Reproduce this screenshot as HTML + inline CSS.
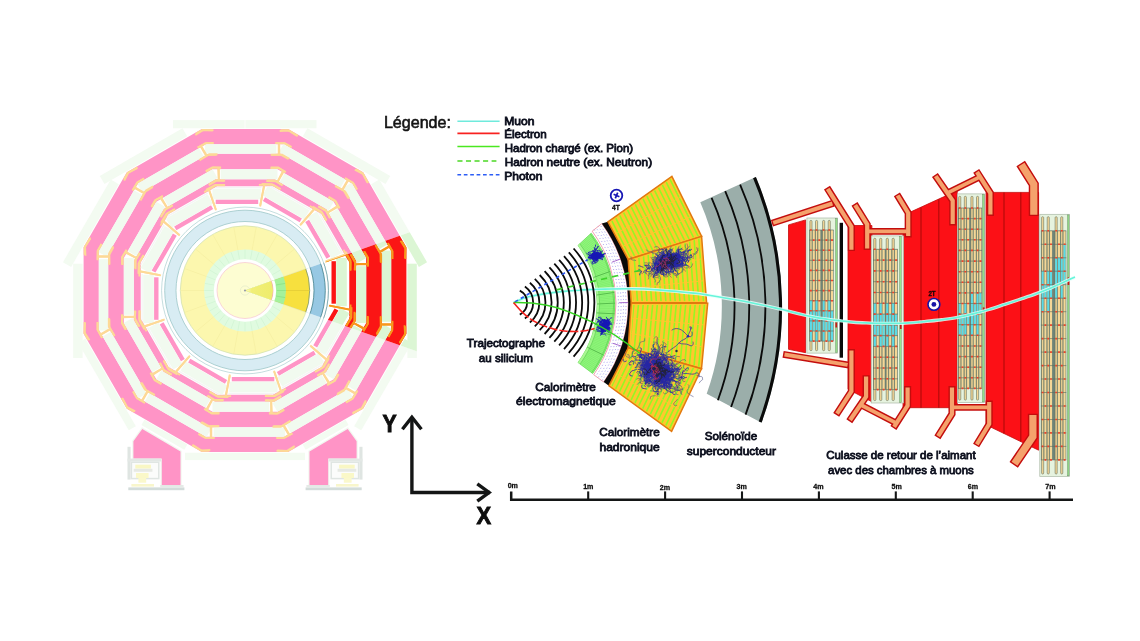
<!DOCTYPE html>
<html lang="fr">
<head>
<meta charset="utf-8">
<title>Coupe transversale du détecteur CMS</title>
<style>
html,body{margin:0;padding:0;background:#fff;}
body{width:1140px;height:641px;overflow:hidden;font-family:'Liberation Sans',sans-serif;}
svg{display:block;will-change:transform;}
text{font-family:'Liberation Sans',sans-serif;}
</style>
</head>
<body>
<svg width="1140" height="641" viewBox="0 0 1140 641" font-family="'Liberation Sans', sans-serif">
<rect width="1140" height="641" fill="#fff"/>
<g id="detector">
<path d="M406.4 333.7L363.2 408.7L288.2 451.9L201.8 451.9L126.8 408.7L83.6 333.7L83.6 247.3L126.8 172.3L201.8 129.1L288.2 129.1L363.2 172.3L406.4 247.3ZM391.2 329.7L352 397.5L284.2 436.7L205.8 436.7L138 397.5L98.8 329.7L98.8 251.3L138 183.5L205.8 144.3L284.2 144.3L352 183.5L391.2 251.3ZM381.8 327.2L345.1 390.6L281.7 427.3L208.3 427.3L144.9 390.6L108.2 327.2L108.2 253.8L144.9 190.4L208.3 153.7L281.7 153.7L345.1 190.4L381.8 253.8ZM366.2 323L333.7 379.2L277.5 411.7L212.5 411.7L156.3 379.2L123.8 323L123.8 258L156.3 201.8L212.5 169.3L277.5 169.3L333.7 201.8L366.2 258ZM356.2 320.3L326.4 371.9L274.8 401.7L215.2 401.7L163.6 371.9L133.8 320.3L133.8 260.7L163.6 209.1L215.2 179.3L274.8 179.3L326.4 209.1L356.2 260.7ZM349.3 318.4L321.4 366.9L272.9 394.8L217.1 394.8L168.6 366.9L140.7 318.4L140.7 262.6L168.6 214.1L217.1 186.2L272.9 186.2L321.4 214.1L349.3 262.6Z" fill="#ff94c6" fill-rule="evenodd"/>
<polygon points="133.4,441.3 142.3,428.9 180.5,451.5 180.5,485 161.8,485 161.8,458.5 133.4,458.5" fill="#ff94c6" stroke="#f2f7f0" stroke-width="2.4" paint-order="stroke"/>
<polygon points="356.6,441.3 347.7,428.9 309.5,451.5 309.5,485 328.2,485 328.2,458.5 356.6,458.5" fill="#ff94c6" stroke="#f2f7f0" stroke-width="2.4" paint-order="stroke"/>
<g transform="rotate(0 245 290.5)">
<rect x="331.5" y="261.2" width="4.4" height="42.5" fill="#ff94c6"/>
<rect x="336.2" y="258" width="10.6" height="48.2" fill="#f1faef"/>
<rect x="347.3" y="260.5" width="1.2" height="46.5" fill="#f4f4f4"/>
<rect x="356.2" y="266.2" width="10" height="56.8" fill="#f1faef"/>
<rect x="381.8" y="250.6" width="9.4" height="71.2" fill="#f1faef"/>
<path d="M326.2 261.2L346.8 254.3M345.6 251.6L350.6 260.6L350.6 270.6M350.4 254.2L355 262.5L355 270.6M355 264.4L368 264.4M363.7 251.4L368 258.7L368 266.6M375.4 245.2L381.2 254.8L381.2 263M380.4 251.9L389 246.9M387.8 243L392.4 251.6L392.4 259M400.5 240.8L405.4 248.4L405.4 259M329 305.6L350.6 309.6M350.6 304.4L350.6 318.7L346.2 325.8M355 312.5L355 320.4L350.2 327.6M353.4 322.8L364.4 328.4M368 316.2L368 323.7L363.2 331M380.8 316.2L380.8 326.2L376.6 333.8M380.8 324.2L392.4 324.2M392.4 321.2L392.4 330L388.4 337M405.4 326.2L405.4 333.7L399.6 342.6" fill="none" stroke="#fdd996" stroke-width="1.9" stroke-linejoin="miter"/>
</g>
<g transform="rotate(30 245 290.5)">
<rect x="331.5" y="261.2" width="4.4" height="42.5" fill="#ff94c6"/>
<rect x="336.2" y="258" width="10.6" height="48.2" fill="#f1faef"/>
<rect x="347.3" y="260.5" width="1.2" height="46.5" fill="#f4f4f4"/>
<rect x="356.2" y="266.2" width="10" height="56.8" fill="#f1faef"/>
<rect x="381.8" y="250.6" width="9.4" height="71.2" fill="#f1faef"/>
<path d="M326.2 261.2L346.8 254.3M345.6 251.6L350.6 260.6L350.6 270.6M350.4 254.2L355 262.5L355 270.6M355 264.4L368 264.4M363.7 251.4L368 258.7L368 266.6M375.4 245.2L381.2 254.8L381.2 263M380.4 251.9L389 246.9M387.8 243L392.4 251.6L392.4 259M400.5 240.8L405.4 248.4L405.4 259M329 305.6L350.6 309.6M350.6 304.4L350.6 318.7L346.2 325.8M355 312.5L355 320.4L350.2 327.6M353.4 322.8L364.4 328.4M368 316.2L368 323.7L363.2 331M380.8 316.2L380.8 326.2L376.6 333.8M380.8 324.2L392.4 324.2M392.4 321.2L392.4 330L388.4 337M405.4 326.2L405.4 333.7L399.6 342.6" fill="none" stroke="#fdd996" stroke-width="1.9" stroke-linejoin="miter"/>
</g>
<g transform="rotate(60 245 290.5)">
<rect x="331.5" y="261.2" width="4.4" height="42.5" fill="#ff94c6"/>
<rect x="336.2" y="258" width="10.6" height="48.2" fill="#f1faef"/>
<rect x="347.3" y="260.5" width="1.2" height="46.5" fill="#f4f4f4"/>
<rect x="356.2" y="266.2" width="10" height="56.8" fill="#f1faef"/>
<rect x="381.8" y="250.6" width="9.4" height="71.2" fill="#f1faef"/>
<path d="M326.2 261.2L346.8 254.3M345.6 251.6L350.6 260.6L350.6 270.6M350.4 254.2L355 262.5L355 270.6M355 264.4L368 264.4M363.7 251.4L368 258.7L368 266.6M375.4 245.2L381.2 254.8L381.2 263M380.4 251.9L389 246.9M387.8 243L392.4 251.6L392.4 259M400.5 240.8L405.4 248.4L405.4 259M329 305.6L350.6 309.6M350.6 304.4L350.6 318.7L346.2 325.8M355 312.5L355 320.4L350.2 327.6M353.4 322.8L364.4 328.4M368 316.2L368 323.7L363.2 331M380.8 316.2L380.8 326.2L376.6 333.8M380.8 324.2L392.4 324.2M392.4 321.2L392.4 330L388.4 337M405.4 326.2L405.4 333.7L399.6 342.6" fill="none" stroke="#fdd996" stroke-width="1.9" stroke-linejoin="miter"/>
</g>
<g transform="rotate(90 245 290.5)">
<rect x="331.5" y="261.2" width="4.4" height="42.5" fill="#ff94c6"/>
<rect x="336.2" y="258" width="10.6" height="48.2" fill="#f1faef"/>
<rect x="347.3" y="260.5" width="1.2" height="46.5" fill="#f4f4f4"/>
<rect x="356.2" y="266.2" width="10" height="56.8" fill="#f1faef"/>
<rect x="381.8" y="250.6" width="9.4" height="71.2" fill="#f1faef"/>
<path d="M326.2 261.2L346.8 254.3M345.6 251.6L350.6 260.6L350.6 270.6M350.4 254.2L355 262.5L355 270.6M355 264.4L368 264.4M363.7 251.4L368 258.7L368 266.6M375.4 245.2L381.2 254.8L381.2 263M380.4 251.9L389 246.9M387.8 243L392.4 251.6L392.4 259M400.5 240.8L405.4 248.4L405.4 259M329 305.6L350.6 309.6M350.6 304.4L350.6 318.7L346.2 325.8M355 312.5L355 320.4L350.2 327.6M353.4 322.8L364.4 328.4M368 316.2L368 323.7L363.2 331M380.8 316.2L380.8 326.2L376.6 333.8M380.8 324.2L392.4 324.2M392.4 321.2L392.4 330L388.4 337M405.4 326.2L405.4 333.7L399.6 342.6" fill="none" stroke="#fdd996" stroke-width="1.9" stroke-linejoin="miter"/>
</g>
<g transform="rotate(120 245 290.5)">
<rect x="331.5" y="261.2" width="4.4" height="42.5" fill="#ff94c6"/>
<rect x="336.2" y="258" width="10.6" height="48.2" fill="#f1faef"/>
<rect x="347.3" y="260.5" width="1.2" height="46.5" fill="#f4f4f4"/>
<rect x="356.2" y="266.2" width="10" height="56.8" fill="#f1faef"/>
<rect x="381.8" y="250.6" width="9.4" height="71.2" fill="#f1faef"/>
<path d="M326.2 261.2L346.8 254.3M345.6 251.6L350.6 260.6L350.6 270.6M350.4 254.2L355 262.5L355 270.6M355 264.4L368 264.4M363.7 251.4L368 258.7L368 266.6M375.4 245.2L381.2 254.8L381.2 263M380.4 251.9L389 246.9M387.8 243L392.4 251.6L392.4 259M400.5 240.8L405.4 248.4L405.4 259M329 305.6L350.6 309.6M350.6 304.4L350.6 318.7L346.2 325.8M355 312.5L355 320.4L350.2 327.6M353.4 322.8L364.4 328.4M368 316.2L368 323.7L363.2 331M380.8 316.2L380.8 326.2L376.6 333.8M380.8 324.2L392.4 324.2M392.4 321.2L392.4 330L388.4 337M405.4 326.2L405.4 333.7L399.6 342.6" fill="none" stroke="#fdd996" stroke-width="1.9" stroke-linejoin="miter"/>
</g>
<g transform="rotate(150 245 290.5)">
<rect x="331.5" y="261.2" width="4.4" height="42.5" fill="#ff94c6"/>
<rect x="336.2" y="258" width="10.6" height="48.2" fill="#f1faef"/>
<rect x="347.3" y="260.5" width="1.2" height="46.5" fill="#f4f4f4"/>
<rect x="356.2" y="266.2" width="10" height="56.8" fill="#f1faef"/>
<rect x="381.8" y="250.6" width="9.4" height="71.2" fill="#f1faef"/>
<path d="M326.2 261.2L346.8 254.3M345.6 251.6L350.6 260.6L350.6 270.6M350.4 254.2L355 262.5L355 270.6M355 264.4L368 264.4M363.7 251.4L368 258.7L368 266.6M375.4 245.2L381.2 254.8L381.2 263M380.4 251.9L389 246.9M387.8 243L392.4 251.6L392.4 259M400.5 240.8L405.4 248.4L405.4 259M329 305.6L350.6 309.6M350.6 304.4L350.6 318.7L346.2 325.8M355 312.5L355 320.4L350.2 327.6M353.4 322.8L364.4 328.4M368 316.2L368 323.7L363.2 331M380.8 316.2L380.8 326.2L376.6 333.8M380.8 324.2L392.4 324.2M392.4 321.2L392.4 330L388.4 337M405.4 326.2L405.4 333.7L399.6 342.6" fill="none" stroke="#fdd996" stroke-width="1.9" stroke-linejoin="miter"/>
</g>
<g transform="rotate(180 245 290.5)">
<rect x="331.5" y="261.2" width="4.4" height="42.5" fill="#ff94c6"/>
<rect x="336.2" y="258" width="10.6" height="48.2" fill="#f1faef"/>
<rect x="347.3" y="260.5" width="1.2" height="46.5" fill="#f4f4f4"/>
<rect x="356.2" y="266.2" width="10" height="56.8" fill="#f1faef"/>
<rect x="381.8" y="250.6" width="9.4" height="71.2" fill="#f1faef"/>
<path d="M326.2 261.2L346.8 254.3M345.6 251.6L350.6 260.6L350.6 270.6M350.4 254.2L355 262.5L355 270.6M355 264.4L368 264.4M363.7 251.4L368 258.7L368 266.6M375.4 245.2L381.2 254.8L381.2 263M380.4 251.9L389 246.9M387.8 243L392.4 251.6L392.4 259M400.5 240.8L405.4 248.4L405.4 259M329 305.6L350.6 309.6M350.6 304.4L350.6 318.7L346.2 325.8M355 312.5L355 320.4L350.2 327.6M353.4 322.8L364.4 328.4M368 316.2L368 323.7L363.2 331M380.8 316.2L380.8 326.2L376.6 333.8M380.8 324.2L392.4 324.2M392.4 321.2L392.4 330L388.4 337M405.4 326.2L405.4 333.7L399.6 342.6" fill="none" stroke="#fdd996" stroke-width="1.9" stroke-linejoin="miter"/>
</g>
<g transform="rotate(210 245 290.5)">
<rect x="331.5" y="261.2" width="4.4" height="42.5" fill="#ff94c6"/>
<rect x="336.2" y="258" width="10.6" height="48.2" fill="#f1faef"/>
<rect x="347.3" y="260.5" width="1.2" height="46.5" fill="#f4f4f4"/>
<rect x="356.2" y="266.2" width="10" height="56.8" fill="#f1faef"/>
<rect x="381.8" y="250.6" width="9.4" height="71.2" fill="#f1faef"/>
<path d="M326.2 261.2L346.8 254.3M345.6 251.6L350.6 260.6L350.6 270.6M350.4 254.2L355 262.5L355 270.6M355 264.4L368 264.4M363.7 251.4L368 258.7L368 266.6M375.4 245.2L381.2 254.8L381.2 263M380.4 251.9L389 246.9M387.8 243L392.4 251.6L392.4 259M400.5 240.8L405.4 248.4L405.4 259M329 305.6L350.6 309.6M350.6 304.4L350.6 318.7L346.2 325.8M355 312.5L355 320.4L350.2 327.6M353.4 322.8L364.4 328.4M368 316.2L368 323.7L363.2 331M380.8 316.2L380.8 326.2L376.6 333.8M380.8 324.2L392.4 324.2M392.4 321.2L392.4 330L388.4 337M405.4 326.2L405.4 333.7L399.6 342.6" fill="none" stroke="#fdd996" stroke-width="1.9" stroke-linejoin="miter"/>
</g>
<g transform="rotate(240 245 290.5)">
<rect x="331.5" y="261.2" width="4.4" height="42.5" fill="#ff94c6"/>
<rect x="336.2" y="258" width="10.6" height="48.2" fill="#f1faef"/>
<rect x="347.3" y="260.5" width="1.2" height="46.5" fill="#f4f4f4"/>
<rect x="356.2" y="266.2" width="10" height="56.8" fill="#f1faef"/>
<rect x="381.8" y="250.6" width="9.4" height="71.2" fill="#f1faef"/>
<path d="M326.2 261.2L346.8 254.3M345.6 251.6L350.6 260.6L350.6 270.6M350.4 254.2L355 262.5L355 270.6M355 264.4L368 264.4M363.7 251.4L368 258.7L368 266.6M375.4 245.2L381.2 254.8L381.2 263M380.4 251.9L389 246.9M387.8 243L392.4 251.6L392.4 259M400.5 240.8L405.4 248.4L405.4 259M329 305.6L350.6 309.6M350.6 304.4L350.6 318.7L346.2 325.8M355 312.5L355 320.4L350.2 327.6M353.4 322.8L364.4 328.4M368 316.2L368 323.7L363.2 331M380.8 316.2L380.8 326.2L376.6 333.8M380.8 324.2L392.4 324.2M392.4 321.2L392.4 330L388.4 337M405.4 326.2L405.4 333.7L399.6 342.6" fill="none" stroke="#fdd996" stroke-width="1.9" stroke-linejoin="miter"/>
</g>
<g transform="rotate(270 245 290.5)">
<rect x="331.5" y="261.2" width="4.4" height="42.5" fill="#ff94c6"/>
<rect x="336.2" y="258" width="10.6" height="48.2" fill="#f1faef"/>
<rect x="347.3" y="260.5" width="1.2" height="46.5" fill="#f4f4f4"/>
<rect x="356.2" y="266.2" width="10" height="56.8" fill="#f1faef"/>
<rect x="381.8" y="250.6" width="9.4" height="71.2" fill="#f1faef"/>
<path d="M326.2 261.2L346.8 254.3M345.6 251.6L350.6 260.6L350.6 270.6M350.4 254.2L355 262.5L355 270.6M355 264.4L368 264.4M363.7 251.4L368 258.7L368 266.6M375.4 245.2L381.2 254.8L381.2 263M380.4 251.9L389 246.9M387.8 243L392.4 251.6L392.4 259M400.5 240.8L405.4 248.4L405.4 259M329 305.6L350.6 309.6M350.6 304.4L350.6 318.7L346.2 325.8M355 312.5L355 320.4L350.2 327.6M353.4 322.8L364.4 328.4M368 316.2L368 323.7L363.2 331M380.8 316.2L380.8 326.2L376.6 333.8M380.8 324.2L392.4 324.2M392.4 321.2L392.4 330L388.4 337M405.4 326.2L405.4 333.7L399.6 342.6" fill="none" stroke="#fdd996" stroke-width="1.9" stroke-linejoin="miter"/>
</g>
<g transform="rotate(300 245 290.5)">
<rect x="331.5" y="261.2" width="4.4" height="42.5" fill="#ff94c6"/>
<rect x="336.2" y="258" width="10.6" height="48.2" fill="#f1faef"/>
<rect x="347.3" y="260.5" width="1.2" height="46.5" fill="#f4f4f4"/>
<rect x="356.2" y="266.2" width="10" height="56.8" fill="#f1faef"/>
<rect x="381.8" y="250.6" width="9.4" height="71.2" fill="#f1faef"/>
<path d="M326.2 261.2L346.8 254.3M345.6 251.6L350.6 260.6L350.6 270.6M350.4 254.2L355 262.5L355 270.6M355 264.4L368 264.4M363.7 251.4L368 258.7L368 266.6M375.4 245.2L381.2 254.8L381.2 263M380.4 251.9L389 246.9M387.8 243L392.4 251.6L392.4 259M400.5 240.8L405.4 248.4L405.4 259M329 305.6L350.6 309.6M350.6 304.4L350.6 318.7L346.2 325.8M355 312.5L355 320.4L350.2 327.6M353.4 322.8L364.4 328.4M368 316.2L368 323.7L363.2 331M380.8 316.2L380.8 326.2L376.6 333.8M380.8 324.2L392.4 324.2M392.4 321.2L392.4 330L388.4 337M405.4 326.2L405.4 333.7L399.6 342.6" fill="none" stroke="#fdd996" stroke-width="1.9" stroke-linejoin="miter"/>
</g>
<g transform="rotate(330 245 290.5)">
<rect x="331.5" y="261.2" width="4.4" height="42.5" fill="#ff94c6"/>
<rect x="336.2" y="258" width="10.6" height="48.2" fill="#f1faef"/>
<rect x="347.3" y="260.5" width="1.2" height="46.5" fill="#f4f4f4"/>
<rect x="356.2" y="266.2" width="10" height="56.8" fill="#f1faef"/>
<rect x="381.8" y="250.6" width="9.4" height="71.2" fill="#f1faef"/>
<path d="M326.2 261.2L346.8 254.3M345.6 251.6L350.6 260.6L350.6 270.6M350.4 254.2L355 262.5L355 270.6M355 264.4L368 264.4M363.7 251.4L368 258.7L368 266.6M375.4 245.2L381.2 254.8L381.2 263M380.4 251.9L389 246.9M387.8 243L392.4 251.6L392.4 259M400.5 240.8L405.4 248.4L405.4 259M329 305.6L350.6 309.6M350.6 304.4L350.6 318.7L346.2 325.8M355 312.5L355 320.4L350.2 327.6M353.4 322.8L364.4 328.4M368 316.2L368 323.7L363.2 331M380.8 316.2L380.8 326.2L376.6 333.8M380.8 324.2L392.4 324.2M392.4 321.2L392.4 330L388.4 337M405.4 326.2L405.4 333.7L399.6 342.6" fill="none" stroke="#fdd996" stroke-width="1.9" stroke-linejoin="miter"/>
</g>
<g><g transform="rotate(-90 245 290.5)"><rect x="407.2" y="218.5" width="8.2" height="71.6" fill="#f3fbf1"/><rect x="407.2" y="290.9" width="8.2" height="71.1" fill="#f3fbf1"/></g><g transform="rotate(-60 245 290.5)"><rect x="407.4" y="263.5" width="9.4" height="95.5" fill="#f3fbf1"/></g><g transform="rotate(-30 245 290.5)"><rect x="407.4" y="261.5" width="9.4" height="95.5" fill="#f3fbf1"/></g><rect x="407.4" y="263.7" width="9.4" height="94.3" fill="#f3fbf1"/><g transform="rotate(30 245 290.5)"><rect x="407.4" y="252.5" width="8.2" height="101" fill="#f3fbf1"/></g><g transform="rotate(60 245 290.5)"><rect x="407.2" y="268" width="6" height="49.5" fill="#f3fbf1"/></g><g transform="rotate(90 245 290.5)"><rect x="407.2" y="230.5" width="7.4" height="120" fill="#f3fbf1"/></g></g>
<g transform="translate(490 0) scale(-1 1)"><g transform="rotate(-60 245 290.5)"><rect x="407.4" y="263.5" width="9.4" height="95.5" fill="#f3fbf1"/></g><g transform="rotate(-30 245 290.5)"><rect x="407.4" y="261.5" width="9.4" height="95.5" fill="#f3fbf1"/></g><rect x="407.4" y="263.7" width="9.4" height="94.3" fill="#f3fbf1"/><g transform="rotate(30 245 290.5)"><rect x="407.4" y="252.5" width="8.2" height="101" fill="#f3fbf1"/></g><g transform="rotate(60 245 290.5)"><rect x="407.2" y="268" width="6" height="49.5" fill="#f3fbf1"/></g></g>
<circle cx="245" cy="290.5" r="83.4" fill="#fff" stroke="#9cc6c8" stroke-width="0.6"/>
<circle cx="245" cy="290.5" r="80.3" fill="#d8ecf3" stroke="#9cc6c8" stroke-width="0.8"/>
<circle cx="245" cy="290.5" r="69.0" fill="#fff" stroke="#9cc6c8" stroke-width="0.8"/>
<circle cx="245" cy="290.5" r="64.7" fill="#fcf7ae" stroke="#cfe0b0" stroke-width="0.7"/>
<path d="M286 290.5L309.4 290.5M283.5 304.5L305.5 312.5M276.4 316.9L294.3 331.9M265.5 326L277.2 346.3M252.1 330.9L256.2 353.9M237.9 330.9L233.8 353.9M224.5 326L212.8 346.3M213.6 316.9L195.7 331.9M206.5 304.5L184.5 312.5M204 290.5L180.6 290.5M206.5 276.5L184.5 268.5M213.6 264.1L195.7 249.1M224.5 255L212.8 234.7M237.9 250.1L233.8 227.1M252.1 250.1L256.2 227.1M265.5 255L277.2 234.7M276.4 264.1L294.3 249.1M283.5 276.5L305.5 268.5" stroke="#f3eb9c" stroke-width="0.5" fill="none"/>
<circle cx="245" cy="290.5" r="41.0" fill="#e0fbe0"/>
<path d="M276.4 290.5L285.8 290.5M275.9 296L285.2 297.6M274.5 301.2L283.3 304.5M272.2 306.2L280.3 310.9M269.1 310.7L276.3 316.7M265.2 314.6L271.2 321.8M260.7 317.7L265.4 325.8M255.7 320L259 328.8M250.5 321.4L252.1 330.7M245 321.9L245 331.3M239.5 321.4L237.9 330.7M234.3 320L231 328.8M229.3 317.7L224.6 325.8M224.8 314.6L218.8 321.8M220.9 310.7L213.7 316.7M217.8 306.2L209.7 310.9M215.5 301.2L206.7 304.5M214.1 296L204.8 297.6M213.6 290.5L204.2 290.5M214.1 285L204.8 283.4M215.5 279.8L206.7 276.5M217.8 274.8L209.7 270.1M220.9 270.3L213.7 264.3M224.8 266.4L218.8 259.2M229.3 263.3L224.6 255.2M234.3 261L231 252.2M239.5 259.6L237.9 250.3M245 259.1L245 249.7M250.5 259.6L252.1 250.3M255.7 261L259 252.2M260.7 263.3L265.4 255.2M265.2 266.4L271.2 259.2M269.1 270.3L276.3 264.3M272.2 274.8L280.3 270.1M274.5 279.8L283.3 276.5M275.9 285L285.2 283.4" stroke="#c9f0cc" stroke-width="0.5" fill="none"/>
<circle cx="245" cy="290.5" r="31.2" fill="#fff"/>
<circle cx="245" cy="290.5" r="28.0" fill="#fdfdd2" stroke="#f6c4d0" stroke-width="0.7"/>
<g><rect x="127.5" y="446.8" width="3.1" height="32.8" fill="#dfe5e2"/><rect x="127.5" y="458.6" width="33.6" height="2.9" fill="#e3e8e5"/><rect x="131.4" y="462.2" width="27.4" height="16.4" fill="#fbfcfb" stroke="#dfe5e2" stroke-width="1.5"/><rect x="135.3" y="464.7" width="15.6" height="3.9" fill="#f9f7c4"/><rect x="133.7" y="468.8" width="18.7" height="3.0" fill="#e6e9e4"/><rect x="136.0" y="473.0" width="12.6" height="5.0" fill="#faf8c8"/><rect x="138.4" y="478.0" width="7.8" height="4.7" fill="#faf8cc"/><rect x="131.4" y="484.0" width="22.6" height="2.6" fill="#f8f6cc"/><rect x="160.2" y="485.2" width="23.4" height="1.6" fill="#dfe5e2"/><rect x="128.3" y="487.4" width="56.1" height="2.8" fill="#d3dcda"/></g>
<g transform="translate(490 0) scale(-1 1)"><rect x="127.5" y="446.8" width="3.1" height="32.8" fill="#dfe5e2"/><rect x="127.5" y="458.6" width="33.6" height="2.9" fill="#e3e8e5"/><rect x="131.4" y="462.2" width="27.4" height="16.4" fill="#fbfcfb" stroke="#dfe5e2" stroke-width="1.5"/><rect x="135.3" y="464.7" width="15.6" height="3.9" fill="#f9f7c4"/><rect x="133.7" y="468.8" width="18.7" height="3.0" fill="#e6e9e4"/><rect x="136.0" y="473.0" width="12.6" height="5.0" fill="#faf8c8"/><rect x="138.4" y="478.0" width="7.8" height="4.7" fill="#faf8cc"/><rect x="131.4" y="484.0" width="22.6" height="2.6" fill="#f8f6cc"/><rect x="160.2" y="485.2" width="23.4" height="1.6" fill="#dfe5e2"/><rect x="128.3" y="487.4" width="56.1" height="2.8" fill="#d3dcda"/></g>
<circle cx="245" cy="290.5" r="4.6" fill="none" stroke="#dfe8c8" stroke-width="0.6"/>
<clipPath id="wedge"><polygon points="245,290.5 445,219.7 445,361.3"/></clipPath>
<g clip-path="url(#wedge)">
<rect x="329" y="210.5" width="180" height="160" fill="#fff"/>
<path d="M406.4 333.7L363.2 408.7L288.2 451.9L201.8 451.9L126.8 408.7L83.6 333.7L83.6 247.3L126.8 172.3L201.8 129.1L288.2 129.1L363.2 172.3L406.4 247.3ZM391.2 329.7L352 397.5L284.2 436.7L205.8 436.7L138 397.5L98.8 329.7L98.8 251.3L138 183.5L205.8 144.3L284.2 144.3L352 183.5L391.2 251.3ZM381.8 327.2L345.1 390.6L281.7 427.3L208.3 427.3L144.9 390.6L108.2 327.2L108.2 253.8L144.9 190.4L208.3 153.7L281.7 153.7L345.1 190.4L381.8 253.8ZM366.2 323L333.7 379.2L277.5 411.7L212.5 411.7L156.3 379.2L123.8 323L123.8 258L156.3 201.8L212.5 169.3L277.5 169.3L333.7 201.8L366.2 258ZM356.2 320.3L326.4 371.9L274.8 401.7L215.2 401.7L163.6 371.9L133.8 320.3L133.8 260.7L163.6 209.1L215.2 179.3L274.8 179.3L326.4 209.1L356.2 260.7ZM349.3 318.4L321.4 366.9L272.9 394.8L217.1 394.8L168.6 366.9L140.7 318.4L140.7 262.6L168.6 214.1L217.1 186.2L272.9 186.2L321.4 214.1L349.3 262.6Z" fill="#fb1515" fill-rule="evenodd"/>
<polygon points="133.4,441.3 142.3,428.9 180.5,451.5 180.5,485 161.8,485 161.8,458.5 133.4,458.5" fill="#fb1515" stroke="#f2f7f0" stroke-width="2.4" paint-order="stroke"/>
<polygon points="356.6,441.3 347.7,428.9 309.5,451.5 309.5,485 328.2,485 328.2,458.5 356.6,458.5" fill="#fb1515" stroke="#f2f7f0" stroke-width="2.4" paint-order="stroke"/>
<g transform="rotate(0 245 290.5)">
<rect x="331.5" y="261.2" width="4.4" height="42.5" fill="#fb1515"/>
<rect x="336.2" y="258" width="10.6" height="48.2" fill="#dcf6d4"/>
<rect x="347.3" y="260.5" width="1.2" height="46.5" fill="#ffffff"/>
<rect x="356.2" y="266.2" width="10" height="56.8" fill="#dcf6d4"/>
<rect x="381.8" y="250.6" width="9.4" height="71.2" fill="#dcf6d4"/>
<path d="M326.2 261.2L346.8 254.3M345.6 251.6L350.6 260.6L350.6 270.6M350.4 254.2L355 262.5L355 270.6M355 264.4L368 264.4M363.7 251.4L368 258.7L368 266.6M375.4 245.2L381.2 254.8L381.2 263M380.4 251.9L389 246.9M387.8 243L392.4 251.6L392.4 259M400.5 240.8L405.4 248.4L405.4 259M329 305.6L350.6 309.6M350.6 304.4L350.6 318.7L346.2 325.8M355 312.5L355 320.4L350.2 327.6M353.4 322.8L364.4 328.4M368 316.2L368 323.7L363.2 331M380.8 316.2L380.8 326.2L376.6 333.8M380.8 324.2L392.4 324.2M392.4 321.2L392.4 330L388.4 337M405.4 326.2L405.4 333.7L399.6 342.6" fill="none" stroke="#f8981c" stroke-width="1.8" stroke-linejoin="miter"/>
</g>
<g transform="rotate(30 245 290.5)">
<rect x="331.5" y="261.2" width="4.4" height="42.5" fill="#fb1515"/>
<rect x="336.2" y="258" width="10.6" height="48.2" fill="#dcf6d4"/>
<rect x="347.3" y="260.5" width="1.2" height="46.5" fill="#ffffff"/>
<rect x="356.2" y="266.2" width="10" height="56.8" fill="#dcf6d4"/>
<rect x="381.8" y="250.6" width="9.4" height="71.2" fill="#dcf6d4"/>
<path d="M326.2 261.2L346.8 254.3M345.6 251.6L350.6 260.6L350.6 270.6M350.4 254.2L355 262.5L355 270.6M355 264.4L368 264.4M363.7 251.4L368 258.7L368 266.6M375.4 245.2L381.2 254.8L381.2 263M380.4 251.9L389 246.9M387.8 243L392.4 251.6L392.4 259M400.5 240.8L405.4 248.4L405.4 259M329 305.6L350.6 309.6M350.6 304.4L350.6 318.7L346.2 325.8M355 312.5L355 320.4L350.2 327.6M353.4 322.8L364.4 328.4M368 316.2L368 323.7L363.2 331M380.8 316.2L380.8 326.2L376.6 333.8M380.8 324.2L392.4 324.2M392.4 321.2L392.4 330L388.4 337M405.4 326.2L405.4 333.7L399.6 342.6" fill="none" stroke="#f8981c" stroke-width="1.8" stroke-linejoin="miter"/>
</g>
<g transform="rotate(60 245 290.5)">
<rect x="331.5" y="261.2" width="4.4" height="42.5" fill="#fb1515"/>
<rect x="336.2" y="258" width="10.6" height="48.2" fill="#dcf6d4"/>
<rect x="347.3" y="260.5" width="1.2" height="46.5" fill="#ffffff"/>
<rect x="356.2" y="266.2" width="10" height="56.8" fill="#dcf6d4"/>
<rect x="381.8" y="250.6" width="9.4" height="71.2" fill="#dcf6d4"/>
<path d="M326.2 261.2L346.8 254.3M345.6 251.6L350.6 260.6L350.6 270.6M350.4 254.2L355 262.5L355 270.6M355 264.4L368 264.4M363.7 251.4L368 258.7L368 266.6M375.4 245.2L381.2 254.8L381.2 263M380.4 251.9L389 246.9M387.8 243L392.4 251.6L392.4 259M400.5 240.8L405.4 248.4L405.4 259M329 305.6L350.6 309.6M350.6 304.4L350.6 318.7L346.2 325.8M355 312.5L355 320.4L350.2 327.6M353.4 322.8L364.4 328.4M368 316.2L368 323.7L363.2 331M380.8 316.2L380.8 326.2L376.6 333.8M380.8 324.2L392.4 324.2M392.4 321.2L392.4 330L388.4 337M405.4 326.2L405.4 333.7L399.6 342.6" fill="none" stroke="#f8981c" stroke-width="1.8" stroke-linejoin="miter"/>
</g>
<g transform="rotate(90 245 290.5)">
<rect x="331.5" y="261.2" width="4.4" height="42.5" fill="#fb1515"/>
<rect x="336.2" y="258" width="10.6" height="48.2" fill="#dcf6d4"/>
<rect x="347.3" y="260.5" width="1.2" height="46.5" fill="#ffffff"/>
<rect x="356.2" y="266.2" width="10" height="56.8" fill="#dcf6d4"/>
<rect x="381.8" y="250.6" width="9.4" height="71.2" fill="#dcf6d4"/>
<path d="M326.2 261.2L346.8 254.3M345.6 251.6L350.6 260.6L350.6 270.6M350.4 254.2L355 262.5L355 270.6M355 264.4L368 264.4M363.7 251.4L368 258.7L368 266.6M375.4 245.2L381.2 254.8L381.2 263M380.4 251.9L389 246.9M387.8 243L392.4 251.6L392.4 259M400.5 240.8L405.4 248.4L405.4 259M329 305.6L350.6 309.6M350.6 304.4L350.6 318.7L346.2 325.8M355 312.5L355 320.4L350.2 327.6M353.4 322.8L364.4 328.4M368 316.2L368 323.7L363.2 331M380.8 316.2L380.8 326.2L376.6 333.8M380.8 324.2L392.4 324.2M392.4 321.2L392.4 330L388.4 337M405.4 326.2L405.4 333.7L399.6 342.6" fill="none" stroke="#f8981c" stroke-width="1.8" stroke-linejoin="miter"/>
</g>
<g transform="rotate(120 245 290.5)">
<rect x="331.5" y="261.2" width="4.4" height="42.5" fill="#fb1515"/>
<rect x="336.2" y="258" width="10.6" height="48.2" fill="#dcf6d4"/>
<rect x="347.3" y="260.5" width="1.2" height="46.5" fill="#ffffff"/>
<rect x="356.2" y="266.2" width="10" height="56.8" fill="#dcf6d4"/>
<rect x="381.8" y="250.6" width="9.4" height="71.2" fill="#dcf6d4"/>
<path d="M326.2 261.2L346.8 254.3M345.6 251.6L350.6 260.6L350.6 270.6M350.4 254.2L355 262.5L355 270.6M355 264.4L368 264.4M363.7 251.4L368 258.7L368 266.6M375.4 245.2L381.2 254.8L381.2 263M380.4 251.9L389 246.9M387.8 243L392.4 251.6L392.4 259M400.5 240.8L405.4 248.4L405.4 259M329 305.6L350.6 309.6M350.6 304.4L350.6 318.7L346.2 325.8M355 312.5L355 320.4L350.2 327.6M353.4 322.8L364.4 328.4M368 316.2L368 323.7L363.2 331M380.8 316.2L380.8 326.2L376.6 333.8M380.8 324.2L392.4 324.2M392.4 321.2L392.4 330L388.4 337M405.4 326.2L405.4 333.7L399.6 342.6" fill="none" stroke="#f8981c" stroke-width="1.8" stroke-linejoin="miter"/>
</g>
<g transform="rotate(150 245 290.5)">
<rect x="331.5" y="261.2" width="4.4" height="42.5" fill="#fb1515"/>
<rect x="336.2" y="258" width="10.6" height="48.2" fill="#dcf6d4"/>
<rect x="347.3" y="260.5" width="1.2" height="46.5" fill="#ffffff"/>
<rect x="356.2" y="266.2" width="10" height="56.8" fill="#dcf6d4"/>
<rect x="381.8" y="250.6" width="9.4" height="71.2" fill="#dcf6d4"/>
<path d="M326.2 261.2L346.8 254.3M345.6 251.6L350.6 260.6L350.6 270.6M350.4 254.2L355 262.5L355 270.6M355 264.4L368 264.4M363.7 251.4L368 258.7L368 266.6M375.4 245.2L381.2 254.8L381.2 263M380.4 251.9L389 246.9M387.8 243L392.4 251.6L392.4 259M400.5 240.8L405.4 248.4L405.4 259M329 305.6L350.6 309.6M350.6 304.4L350.6 318.7L346.2 325.8M355 312.5L355 320.4L350.2 327.6M353.4 322.8L364.4 328.4M368 316.2L368 323.7L363.2 331M380.8 316.2L380.8 326.2L376.6 333.8M380.8 324.2L392.4 324.2M392.4 321.2L392.4 330L388.4 337M405.4 326.2L405.4 333.7L399.6 342.6" fill="none" stroke="#f8981c" stroke-width="1.8" stroke-linejoin="miter"/>
</g>
<g transform="rotate(180 245 290.5)">
<rect x="331.5" y="261.2" width="4.4" height="42.5" fill="#fb1515"/>
<rect x="336.2" y="258" width="10.6" height="48.2" fill="#dcf6d4"/>
<rect x="347.3" y="260.5" width="1.2" height="46.5" fill="#ffffff"/>
<rect x="356.2" y="266.2" width="10" height="56.8" fill="#dcf6d4"/>
<rect x="381.8" y="250.6" width="9.4" height="71.2" fill="#dcf6d4"/>
<path d="M326.2 261.2L346.8 254.3M345.6 251.6L350.6 260.6L350.6 270.6M350.4 254.2L355 262.5L355 270.6M355 264.4L368 264.4M363.7 251.4L368 258.7L368 266.6M375.4 245.2L381.2 254.8L381.2 263M380.4 251.9L389 246.9M387.8 243L392.4 251.6L392.4 259M400.5 240.8L405.4 248.4L405.4 259M329 305.6L350.6 309.6M350.6 304.4L350.6 318.7L346.2 325.8M355 312.5L355 320.4L350.2 327.6M353.4 322.8L364.4 328.4M368 316.2L368 323.7L363.2 331M380.8 316.2L380.8 326.2L376.6 333.8M380.8 324.2L392.4 324.2M392.4 321.2L392.4 330L388.4 337M405.4 326.2L405.4 333.7L399.6 342.6" fill="none" stroke="#f8981c" stroke-width="1.8" stroke-linejoin="miter"/>
</g>
<g transform="rotate(210 245 290.5)">
<rect x="331.5" y="261.2" width="4.4" height="42.5" fill="#fb1515"/>
<rect x="336.2" y="258" width="10.6" height="48.2" fill="#dcf6d4"/>
<rect x="347.3" y="260.5" width="1.2" height="46.5" fill="#ffffff"/>
<rect x="356.2" y="266.2" width="10" height="56.8" fill="#dcf6d4"/>
<rect x="381.8" y="250.6" width="9.4" height="71.2" fill="#dcf6d4"/>
<path d="M326.2 261.2L346.8 254.3M345.6 251.6L350.6 260.6L350.6 270.6M350.4 254.2L355 262.5L355 270.6M355 264.4L368 264.4M363.7 251.4L368 258.7L368 266.6M375.4 245.2L381.2 254.8L381.2 263M380.4 251.9L389 246.9M387.8 243L392.4 251.6L392.4 259M400.5 240.8L405.4 248.4L405.4 259M329 305.6L350.6 309.6M350.6 304.4L350.6 318.7L346.2 325.8M355 312.5L355 320.4L350.2 327.6M353.4 322.8L364.4 328.4M368 316.2L368 323.7L363.2 331M380.8 316.2L380.8 326.2L376.6 333.8M380.8 324.2L392.4 324.2M392.4 321.2L392.4 330L388.4 337M405.4 326.2L405.4 333.7L399.6 342.6" fill="none" stroke="#f8981c" stroke-width="1.8" stroke-linejoin="miter"/>
</g>
<g transform="rotate(240 245 290.5)">
<rect x="331.5" y="261.2" width="4.4" height="42.5" fill="#fb1515"/>
<rect x="336.2" y="258" width="10.6" height="48.2" fill="#dcf6d4"/>
<rect x="347.3" y="260.5" width="1.2" height="46.5" fill="#ffffff"/>
<rect x="356.2" y="266.2" width="10" height="56.8" fill="#dcf6d4"/>
<rect x="381.8" y="250.6" width="9.4" height="71.2" fill="#dcf6d4"/>
<path d="M326.2 261.2L346.8 254.3M345.6 251.6L350.6 260.6L350.6 270.6M350.4 254.2L355 262.5L355 270.6M355 264.4L368 264.4M363.7 251.4L368 258.7L368 266.6M375.4 245.2L381.2 254.8L381.2 263M380.4 251.9L389 246.9M387.8 243L392.4 251.6L392.4 259M400.5 240.8L405.4 248.4L405.4 259M329 305.6L350.6 309.6M350.6 304.4L350.6 318.7L346.2 325.8M355 312.5L355 320.4L350.2 327.6M353.4 322.8L364.4 328.4M368 316.2L368 323.7L363.2 331M380.8 316.2L380.8 326.2L376.6 333.8M380.8 324.2L392.4 324.2M392.4 321.2L392.4 330L388.4 337M405.4 326.2L405.4 333.7L399.6 342.6" fill="none" stroke="#f8981c" stroke-width="1.8" stroke-linejoin="miter"/>
</g>
<g transform="rotate(270 245 290.5)">
<rect x="331.5" y="261.2" width="4.4" height="42.5" fill="#fb1515"/>
<rect x="336.2" y="258" width="10.6" height="48.2" fill="#dcf6d4"/>
<rect x="347.3" y="260.5" width="1.2" height="46.5" fill="#ffffff"/>
<rect x="356.2" y="266.2" width="10" height="56.8" fill="#dcf6d4"/>
<rect x="381.8" y="250.6" width="9.4" height="71.2" fill="#dcf6d4"/>
<path d="M326.2 261.2L346.8 254.3M345.6 251.6L350.6 260.6L350.6 270.6M350.4 254.2L355 262.5L355 270.6M355 264.4L368 264.4M363.7 251.4L368 258.7L368 266.6M375.4 245.2L381.2 254.8L381.2 263M380.4 251.9L389 246.9M387.8 243L392.4 251.6L392.4 259M400.5 240.8L405.4 248.4L405.4 259M329 305.6L350.6 309.6M350.6 304.4L350.6 318.7L346.2 325.8M355 312.5L355 320.4L350.2 327.6M353.4 322.8L364.4 328.4M368 316.2L368 323.7L363.2 331M380.8 316.2L380.8 326.2L376.6 333.8M380.8 324.2L392.4 324.2M392.4 321.2L392.4 330L388.4 337M405.4 326.2L405.4 333.7L399.6 342.6" fill="none" stroke="#f8981c" stroke-width="1.8" stroke-linejoin="miter"/>
</g>
<g transform="rotate(300 245 290.5)">
<rect x="331.5" y="261.2" width="4.4" height="42.5" fill="#fb1515"/>
<rect x="336.2" y="258" width="10.6" height="48.2" fill="#dcf6d4"/>
<rect x="347.3" y="260.5" width="1.2" height="46.5" fill="#ffffff"/>
<rect x="356.2" y="266.2" width="10" height="56.8" fill="#dcf6d4"/>
<rect x="381.8" y="250.6" width="9.4" height="71.2" fill="#dcf6d4"/>
<path d="M326.2 261.2L346.8 254.3M345.6 251.6L350.6 260.6L350.6 270.6M350.4 254.2L355 262.5L355 270.6M355 264.4L368 264.4M363.7 251.4L368 258.7L368 266.6M375.4 245.2L381.2 254.8L381.2 263M380.4 251.9L389 246.9M387.8 243L392.4 251.6L392.4 259M400.5 240.8L405.4 248.4L405.4 259M329 305.6L350.6 309.6M350.6 304.4L350.6 318.7L346.2 325.8M355 312.5L355 320.4L350.2 327.6M353.4 322.8L364.4 328.4M368 316.2L368 323.7L363.2 331M380.8 316.2L380.8 326.2L376.6 333.8M380.8 324.2L392.4 324.2M392.4 321.2L392.4 330L388.4 337M405.4 326.2L405.4 333.7L399.6 342.6" fill="none" stroke="#f8981c" stroke-width="1.8" stroke-linejoin="miter"/>
</g>
<g transform="rotate(330 245 290.5)">
<rect x="331.5" y="261.2" width="4.4" height="42.5" fill="#fb1515"/>
<rect x="336.2" y="258" width="10.6" height="48.2" fill="#dcf6d4"/>
<rect x="347.3" y="260.5" width="1.2" height="46.5" fill="#ffffff"/>
<rect x="356.2" y="266.2" width="10" height="56.8" fill="#dcf6d4"/>
<rect x="381.8" y="250.6" width="9.4" height="71.2" fill="#dcf6d4"/>
<path d="M326.2 261.2L346.8 254.3M345.6 251.6L350.6 260.6L350.6 270.6M350.4 254.2L355 262.5L355 270.6M355 264.4L368 264.4M363.7 251.4L368 258.7L368 266.6M375.4 245.2L381.2 254.8L381.2 263M380.4 251.9L389 246.9M387.8 243L392.4 251.6L392.4 259M400.5 240.8L405.4 248.4L405.4 259M329 305.6L350.6 309.6M350.6 304.4L350.6 318.7L346.2 325.8M355 312.5L355 320.4L350.2 327.6M353.4 322.8L364.4 328.4M368 316.2L368 323.7L363.2 331M380.8 316.2L380.8 326.2L376.6 333.8M380.8 324.2L392.4 324.2M392.4 321.2L392.4 330L388.4 337M405.4 326.2L405.4 333.7L399.6 342.6" fill="none" stroke="#f8981c" stroke-width="1.8" stroke-linejoin="miter"/>
</g>
<g><g transform="rotate(-90 245 290.5)"><rect x="407.2" y="218.5" width="8.2" height="71.6" fill="#dcf6d4"/><rect x="407.2" y="290.9" width="8.2" height="71.1" fill="#dcf6d4"/></g><g transform="rotate(-60 245 290.5)"><rect x="407.4" y="263.5" width="9.4" height="95.5" fill="#dcf6d4"/></g><g transform="rotate(-30 245 290.5)"><rect x="407.4" y="261.5" width="9.4" height="95.5" fill="#dcf6d4"/></g><rect x="407.4" y="263.7" width="9.4" height="94.3" fill="#dcf6d4"/><g transform="rotate(30 245 290.5)"><rect x="407.4" y="252.5" width="8.2" height="101" fill="#dcf6d4"/></g><g transform="rotate(60 245 290.5)"><rect x="407.2" y="268" width="6" height="49.5" fill="#dcf6d4"/></g><g transform="rotate(90 245 290.5)"><rect x="407.2" y="230.5" width="7.4" height="120" fill="#dcf6d4"/></g></g>
<g transform="translate(490 0) scale(-1 1)"><g transform="rotate(-60 245 290.5)"><rect x="407.4" y="263.5" width="9.4" height="95.5" fill="#dcf6d4"/></g><g transform="rotate(-30 245 290.5)"><rect x="407.4" y="261.5" width="9.4" height="95.5" fill="#dcf6d4"/></g><rect x="407.4" y="263.7" width="9.4" height="94.3" fill="#dcf6d4"/><g transform="rotate(30 245 290.5)"><rect x="407.4" y="252.5" width="8.2" height="101" fill="#dcf6d4"/></g><g transform="rotate(60 245 290.5)"><rect x="407.2" y="268" width="6" height="49.5" fill="#dcf6d4"/></g></g>
<circle cx="245" cy="290.5" r="83.4" fill="#fff" stroke="#3f7d8a" stroke-width="0.6"/>
<circle cx="245" cy="290.5" r="80.3" fill="#97c8e3" stroke="#3f7d8a" stroke-width="0.8"/>
<circle cx="245" cy="290.5" r="69.0" fill="#fff" stroke="#3f7d8a" stroke-width="0.8"/>
<circle cx="245" cy="290.5" r="64.7" fill="#f7e03e" stroke="#6a8a70" stroke-width="0.7"/>
<path d="M286 290.5L309.4 290.5M283.5 304.5L305.5 312.5M276.4 316.9L294.3 331.9M265.5 326L277.2 346.3M252.1 330.9L256.2 353.9M237.9 330.9L233.8 353.9M224.5 326L212.8 346.3M213.6 316.9L195.7 331.9M206.5 304.5L184.5 312.5M204 290.5L180.6 290.5M206.5 276.5L184.5 268.5M213.6 264.1L195.7 249.1M224.5 255L212.8 234.7M237.9 250.1L233.8 227.1M252.1 250.1L256.2 227.1M265.5 255L277.2 234.7M276.4 264.1L294.3 249.1M283.5 276.5L305.5 268.5" stroke="#d8c030" stroke-width="0.5" fill="none"/>
<circle cx="245" cy="290.5" r="41.0" fill="#a4f19c"/>
<path d="M276.4 290.5L285.8 290.5M275.9 296L285.2 297.6M274.5 301.2L283.3 304.5M272.2 306.2L280.3 310.9M269.1 310.7L276.3 316.7M265.2 314.6L271.2 321.8M260.7 317.7L265.4 325.8M255.7 320L259 328.8M250.5 321.4L252.1 330.7M245 321.9L245 331.3M239.5 321.4L237.9 330.7M234.3 320L231 328.8M229.3 317.7L224.6 325.8M224.8 314.6L218.8 321.8M220.9 310.7L213.7 316.7M217.8 306.2L209.7 310.9M215.5 301.2L206.7 304.5M214.1 296L204.8 297.6M213.6 290.5L204.2 290.5M214.1 285L204.8 283.4M215.5 279.8L206.7 276.5M217.8 274.8L209.7 270.1M220.9 270.3L213.7 264.3M224.8 266.4L218.8 259.2M229.3 263.3L224.6 255.2M234.3 261L231 252.2M239.5 259.6L237.9 250.3M245 259.1L245 249.7M250.5 259.6L252.1 250.3M255.7 261L259 252.2M260.7 263.3L265.4 255.2M265.2 266.4L271.2 259.2M269.1 270.3L276.3 264.3M272.2 274.8L280.3 270.1M274.5 279.8L283.3 276.5M275.9 285L285.2 283.4" stroke="#7ad878" stroke-width="0.5" fill="none"/>
<circle cx="245" cy="290.5" r="31.2" fill="#fff"/>
<circle cx="245" cy="290.5" r="28.0" fill="#efee72" stroke="#f0a0a0" stroke-width="0.7"/>
</g>
<defs><linearGradient id="tg" x1="0" y1="0" x2="1" y2="0"><stop offset="0" stop-color="#fdfdd2"/><stop offset="0.18" stop-color="#f1ef78"/><stop offset="1" stop-color="#eeec6c"/></linearGradient></defs>
<polygon points="246.5,290.5 271,281.3 272.9,290.5 271,299.7" fill="url(#tg)"/>
<circle cx="245" cy="290.5" r="1.1" fill="#9aa0a8"/>
</g>
<g id="slice">
<g id="ecal">
<path d="M578 245.4A98.8 98.8 0 0 1 578 362.5L592.7 373.5A118.3 118.3 0 0 0 591.2 233.2Z" fill="#90f67c" stroke="#58d648" stroke-width="0.7"/>
<path d="M578 245.4A98.8 98.8 0 0 1 578 362.5L580.1 364A101.5 101.5 0 0 0 579.8 243.7Z" fill="#aaf794"/>
<path d="M580.7 244.9L592.3 234.6M581.6 246.2L593.3 236.1M582.5 247.5L594.3 237.6M583.3 248.7L595.3 239M584.2 250L596.3 240.5M585 251.3L597.3 242M585.8 252.6L598.2 243.6M586.5 254L599.1 245.1M587.3 255.3L600 246.7M588 256.7L600.8 248.2M588.7 258L601.7 249.8M589.4 259.4L602.5 251.4M590 260.8L603.3 253M590.7 262.2L604 254.6M591.3 263.6L604.8 256.3M591.9 265L605.5 257.9M592.5 266.4L606.2 259.5M593 267.8L606.9 261.2M593.6 269.3L607.5 262.9M594.1 270.7L608.1 264.6M594.6 272.2L608.7 266.2M595.1 273.6L609.3 267.9M595.5 275.1L609.8 269.6M595.9 276.6L610.3 271.4M596.3 278.1L610.8 273.1M596.7 279.5L611.3 274.8M597.1 281L611.7 276.5M597.4 282.5L612.1 278.3M597.7 284L612.5 280M598 285.5L612.8 281.8M598.3 287L613.2 283.5M598.5 288.6L613.5 285.3M598.7 290.1L613.7 287.1M598.9 291.6L614 288.8M599.1 293.1L614.2 290.6M599.3 294.6L614.4 292.4M599.4 296.2L614.6 294.2M599.5 297.7L614.7 296M599.6 299.2L614.8 297.7M599.6 300.8L614.9 299.5M599.7 302.3L615 301.3M599.7 303.8L615 303.1M599.7 305.4L615 304.9M599.7 306.9L615 306.7M599.6 308.4L614.9 308.5M599.5 310L614.9 310.3M599.4 311.5L614.8 312M599.3 313L614.6 313.8M599.2 314.5L614.5 315.6M599 316.1L614.3 317.4M598.8 317.6L614.1 319.2M598.6 319.1L613.8 320.9M598.3 320.6L613.6 322.7M598.1 322.1L613.3 324.5M597.8 323.6L613 326.2M597.5 325.1L612.6 328M597.1 326.6L612.3 329.7M596.8 328.1L611.9 331.5M596.4 329.6L611.4 333.2M596 331.1L611 334.9M595.6 332.6L610.5 336.7M595.2 334L610 338.4M594.7 335.5L609.5 340.1M594.2 337L608.9 341.8M593.7 338.4L608.4 343.5M593.2 339.8L607.8 345.2M592.6 341.3L607.1 346.8M592 342.7L606.5 348.5M591.4 344.1L605.8 350.2M590.8 345.5L605.1 351.8M590.2 346.9L604.4 353.4M589.5 348.3L603.6 355.1M588.9 349.7L602.8 356.7M588.2 351L602 358.3M587.4 352.4L601.2 359.8M586.7 353.7L600.3 361.4M585.9 355.1L599.5 363M585.2 356.4L598.6 364.5M584.4 357.7L597.6 366.1M583.5 359L596.7 367.6M582.7 360.3L595.7 369.1M581.8 361.5L594.7 370.6M581 362.8L593.7 372" stroke="#6ee25c" stroke-width="0.5" fill="none" opacity="0.8"/>
<path d="M587.2 260.7L602.5 251.4M593.6 277.4L610.3 271.4M596.8 295L614.4 292.4M597.2 304L615 303.1M596.8 312.9L614.6 313.8M593.6 330.5L611 334.9M587.2 347.2L603.6 355.1" stroke="#43a83c" stroke-width="0.7" fill="none"/>
<path d="M579.8 243.7A101.5 101.5 0 0 1 580.1 364" stroke="#58c84c" stroke-width="0.6" fill="none"/>
<path d="M590.3 234.1A116.9 116.9 0 0 1 591.7 372.7" stroke="#58c84c" stroke-width="0.6" fill="none"/>
</g>
<g id="dots">
<path d="M592.2 231.2A123.2 123.2 0 0 1 593.7 374.7L603.7 382A136 136 0 0 0 601.8 223.6Z" fill="#fff" stroke="#ee8a9a" stroke-width="0.8"/>
<path d="M594.1 229.7A125.8 125.8 0 0 1 595.7 376.2" fill="none" stroke="#6a5ce0" stroke-width="0.9" stroke-dasharray="0.9 2.5" stroke-dashoffset="0" opacity="0.75"/>
<path d="M596.2 228A128.6 128.6 0 0 1 597.9 377.8" fill="none" stroke="#6a5ce0" stroke-width="0.9" stroke-dasharray="0.9 2.5" stroke-dashoffset="1.6" opacity="0.75"/>
<path d="M598.2 226.5A131.1 131.1 0 0 1 599.9 379.2" fill="none" stroke="#6a5ce0" stroke-width="0.9" stroke-dasharray="0.9 2.5" stroke-dashoffset="0.4" opacity="0.75"/>
<path d="M600.1 225A133.7 133.7 0 0 1 601.9 380.7" fill="none" stroke="#6a5ce0" stroke-width="0.9" stroke-dasharray="0.9 2.5" stroke-dashoffset="2" opacity="0.75"/>
<path d="M611.9 262.2L620.3 259.1M619.1 302.7L628 302.5M612.8 343.3L621.3 346.1" stroke="#a060c8" stroke-width="0.9" fill="none"/>
</g>
<path d="M601.8 223.6A136 136 0 0 1 603.7 382L608.9 385.8L628.2 347.8L631.2 303L628.2 259.5L607.9 221.8Z" fill="#0a0a0a"/>
<g id="hcal">
<polygon points="607.9,221.8 671.9,176.3 701.6,236.4 628.2,259.5" fill="#ffc72e"/>
<clipPath id="hc0"><polygon points="610.5,221.9 670.9,178.7 699.1,235.7 629.7,257.3"/></clipPath>
<g clip-path="url(#hc0)" fill="none">
<path d="M655.9 150.7L712.2 264.6M651.7 152.8L708 266.7M647.5 154.9L703.8 268.8M643.3 157L699.6 270.9M639.1 159.1L695.3 273M634.9 161.1L691.1 275M630.6 163.2L686.9 277.1M626.4 165.3L682.7 279.2M622.2 167.4L678.5 281.3M618 169.5L674.3 283.4M613.8 171.6L670.1 285.4M609.6 173.6L665.9 287.5M605.4 175.7L661.6 289.6M601.1 177.8L657.4 291.7M596.9 179.9L653.2 293.8M592.7 182L649 295.9M588.5 184L644.8 297.9M584.3 186.1L640.6 300M580.1 188.2L636.4 302.1" stroke="#96f722" stroke-width="1.6"/>
<path d="M614.7 234.4L681.8 196.3M621.4 246.9L691.7 216.4" stroke="#ffc72e" stroke-width="0.9"/>
</g>
<polygon points="607.9,221.8 671.9,176.3 701.6,236.4 628.2,259.5" fill="none" stroke="#e2790f" stroke-width="1.5" stroke-linejoin="miter"/>
<polygon points="628.2,259.5 701.6,236.4 706.6,302.7 631.2,302.7" fill="#ffc72e"/>
<clipPath id="hc1"><polygon points="630.6,260.5 699.9,238.3 704.5,301.2 633.3,301.1"/></clipPath>
<g clip-path="url(#hc1)" fill="none">
<path d="M696.4 206.7L705.9 332.8M691.7 207.1L701.2 333.2M687 207.4L696.5 333.5M682.3 207.8L691.8 333.9M677.6 208.1L687.1 334.3M672.9 208.5L682.4 334.6M668.2 208.8L677.7 335M663.5 209.2L673.1 335.3M658.9 209.5L668.4 335.7M654.2 209.9L663.7 336M649.5 210.2L659 336.4M644.8 210.6L654.3 336.7M640.1 211L649.6 337.1M635.4 211.3L644.9 337.4M630.7 211.7L640.3 337.8M626.1 212L635.6 338.1M621.4 212.4L630.9 338.5M616.7 212.7L626.2 338.8M612 213.1L621.5 339.2" stroke="#96f722" stroke-width="1.6"/>
<path d="M629.2 273.9L703.3 258.5M630.2 288.3L704.9 280.6" stroke="#ffc72e" stroke-width="0.9"/>
</g>
<polygon points="628.2,259.5 701.6,236.4 706.6,302.7 631.2,302.7" fill="none" stroke="#e2790f" stroke-width="1.5" stroke-linejoin="miter"/>
<polygon points="631.2,303.3 707.7,303.3 701.5,368.8 628.2,347.8" fill="#ffc72e"/>
<clipPath id="hc2"><polygon points="633.3,304.9 705.5,304.8 699.8,366.9 630.6,346.8"/></clipPath>
<g clip-path="url(#hc2)" fill="none">
<path d="M707.5 273.2L695.7 398.4M702.9 272.7L691 397.9M698.2 272.3L686.3 397.5M693.5 271.8L681.6 397.1M688.8 271.4L677 396.6M684.1 270.9L672.3 396.2M679.5 270.5L667.6 395.7M674.8 270.1L662.9 395.3M670.1 269.6L658.3 394.8M665.4 269.2L653.6 394.4M660.7 268.7L648.9 394M656.1 268.3L644.2 393.5M651.4 267.8L639.5 393.1M646.7 267.4L634.9 392.6M642 267L630.2 392.2M637.4 266.5L625.5 391.7M632.7 266.1L620.8 391.3M628 265.6L616.1 390.9M623.3 265.2L611.5 390.4" stroke="#96f722" stroke-width="1.6"/>
<path d="M630.2 318.1L705.6 325.1M629.2 333L703.6 347" stroke="#ffc72e" stroke-width="0.9"/>
</g>
<polygon points="631.2,303.3 707.7,303.3 701.5,368.8 628.2,347.8" fill="none" stroke="#e2790f" stroke-width="1.5" stroke-linejoin="miter"/>
<polygon points="628.2,347.8 701.5,368.8 671.6,431.3 608.9,385.8" fill="#ffc72e"/>
<clipPath id="hc3"><polygon points="629.7,349.9 699,369.5 670.6,428.9 611.5,385.7"/></clipPath>
<g clip-path="url(#hc3)" fill="none">
<path d="M711.7 340.4L655.9 457.1M707.5 338.4L651.7 455M703.3 336.4L647.5 453M699 334.4L643.2 451M694.8 332.3L639 449M690.5 330.3L634.7 446.9M686.3 328.3L630.5 444.9M682.1 326.2L626.3 442.9M677.8 324.2L622 440.8M673.6 322.2L617.8 438.8M669.3 320.2L613.5 436.8M665.1 318.1L609.3 434.8M660.9 316.1L605.1 432.7M656.6 314.1L600.8 430.7M652.4 312L596.6 428.7M648.1 310L592.3 426.6M643.9 308L588.1 424.6M639.7 306L583.9 422.6M635.4 303.9L579.6 420.6" stroke="#96f722" stroke-width="1.6"/>
<path d="M621.8 360.5L691.5 389.6M615.3 373.1L681.6 410.5" stroke="#ffc72e" stroke-width="0.9"/>
</g>
<polygon points="628.2,347.8 701.5,368.8 671.6,431.3 608.9,385.8" fill="none" stroke="#e2790f" stroke-width="1.5" stroke-linejoin="miter"/>
</g>
<g id="solenoid">
<path d="M700.3 202.3A261.4 261.4 0 0 1 706.7 393.8L761.5 422.7A335.5 335.5 0 0 0 755.8 177.1Z" fill="#9baeaa"/>
<path d="M711.6 197.9A270.3 270.3 0 0 1 717.9 400.2" fill="none" stroke="#0a0a0a" stroke-width="1.8"/>
<path d="M725.2 191.2A288.2 288.2 0 0 1 731.1 407" fill="none" stroke="#0a0a0a" stroke-width="1.8"/>
<path d="M740.1 184.6A305.4 305.4 0 0 1 745.6 414.6" fill="none" stroke="#0a0a0a" stroke-width="1.8"/>
<path d="M754.5 177.7A334.7 334.7 0 0 1 760.2 422" fill="none" stroke="#0a0a0a" stroke-width="3.1"/>
</g>
<g id="yoke">
<polygon points="788.5,224.9 805.6,219.9 805.6,352.7 788.5,349.3" fill="#fc1016" stroke="#c40d0d" stroke-width="0.8" stroke-linejoin="miter"/>
<rect x="839.6" y="222.8" width="3.4" height="134.9" fill="#0a0a0a"/>
<polygon points="848,225.5 871.9,225.5 871.9,401.8 862.4,396.8 854.3,392.5 848,389.2" fill="#fc1016" stroke="#c40d0d" stroke-width="0.8" stroke-linejoin="miter"/>
<polygon points="908,213.2 912.5,211.1 943.7,196.8 957.2,190.6 957.2,407.7 903,407.7 903,234 908,234" fill="#fc1016" stroke="#c40d0d" stroke-width="0.8" stroke-linejoin="miter"/>
<polygon points="986,192.4 1038.6,192.4 1038.6,450.2 1021.2,441.8 992.6,428 986,424.8" fill="#fc1016" stroke="#c40d0d" stroke-width="0.8" stroke-linejoin="miter"/>
<line x1="921" y1="207.5" x2="921" y2="407.7" stroke="#b60b0b" stroke-width="1.2"/>
<line x1="938.8" y1="199.3" x2="938.8" y2="407.7" stroke="#b60b0b" stroke-width="1.2"/>
<line x1="1004" y1="192.4" x2="1004" y2="433.5" stroke="#b60b0b" stroke-width="1.2"/>
<line x1="1020.8" y1="192.4" x2="1020.8" y2="441.6" stroke="#b60b0b" stroke-width="1.2"/>
<g>
<rect x="806.9" y="218" width="30.7" height="135.1" fill="#e6f3df" stroke="#aab8a6" stroke-width="0.7"/>
<rect x="835.6" y="218.6" width="1.5" height="133.9" fill="#9bea8c" stroke="#6b8f6b" stroke-width="0.5"/>
<rect x="809.2" y="230" width="24.5" height="111.1" fill="#6f8478"/>
<rect x="809.9" y="220.4" width="2.1" height="130.3" rx="1" fill="#f5d796" stroke="#66725f" stroke-width="0.6"/>
<rect x="812.7" y="230" width="2.1" height="111.1" fill="#f5d796"/>
<rect x="815.5" y="220.4" width="2.1" height="130.3" rx="1" fill="#f5d796" stroke="#66725f" stroke-width="0.6"/>
<rect x="818.3" y="230" width="2.1" height="111.1" fill="#f5d796"/>
<rect x="822.6" y="220.4" width="2.1" height="130.3" rx="1" fill="#f5d796" stroke="#66725f" stroke-width="0.6"/>
<rect x="825.4" y="230" width="2.1" height="111.1" fill="#f5d796"/>
<rect x="828.2" y="220.4" width="2.1" height="130.3" rx="1" fill="#f5d796" stroke="#66725f" stroke-width="0.6"/>
<rect x="831" y="230" width="2.1" height="111.1" fill="#f5d796"/>
<rect x="810" y="300.7" width="1.9" height="40.4" fill="#57dbe9"/>
<rect x="812.8" y="310.8" width="1.9" height="20.2" fill="#57dbe9"/>
<rect x="815.6" y="300.7" width="1.9" height="40.4" fill="#57dbe9"/>
<rect x="818.4" y="310.8" width="1.9" height="20.2" fill="#57dbe9"/>
<rect x="822.7" y="300.7" width="1.9" height="40.4" fill="#57dbe9"/>
<rect x="825.5" y="310.8" width="1.9" height="20.2" fill="#57dbe9"/>
<rect x="828.3" y="300.7" width="1.9" height="40.4" fill="#57dbe9"/>
<rect x="831.1" y="310.8" width="1.9" height="30.3" fill="#57dbe9"/>
<path d="M809.2 230H833.7M809.2 240.1H833.7M809.2 250.2H833.7M809.2 260.3H833.7M809.2 270.4H833.7M809.2 280.5H833.7M809.2 290.6H833.7M809.2 300.7H833.7M809.2 310.8H833.7M809.2 320.9H833.7M809.2 331H833.7M809.2 341.1H833.7" stroke="#566a5c" stroke-width="0.6" fill="none"/>
<path d="M810 230h1.8M815.6 230h1.8M822.7 230h1.8M828.3 230h1.8M812.8 240.1h1.8M818.4 240.1h1.8M825.5 240.1h1.8M831.1 240.1h1.8M810 250.2h1.8M815.6 250.2h1.8M822.7 250.2h1.8M828.3 250.2h1.8M812.8 260.3h1.8M818.4 260.3h1.8M825.5 260.3h1.8M831.1 260.3h1.8M810 270.4h1.8M815.6 270.4h1.8M822.7 270.4h1.8M828.3 270.4h1.8M812.8 280.5h1.8M818.4 280.5h1.8M825.5 280.5h1.8M831.1 280.5h1.8M810 290.6h1.8M815.6 290.6h1.8M822.7 290.6h1.8M828.3 290.6h1.8M812.8 300.7h1.8M818.4 300.7h1.8M825.5 300.7h1.8M831.1 300.7h1.8M810 310.8h1.8M815.6 310.8h1.8M822.7 310.8h1.8M828.3 310.8h1.8M812.8 320.9h1.8M818.4 320.9h1.8M825.5 320.9h1.8M831.1 320.9h1.8M810 331h1.8M815.6 331h1.8M822.7 331h1.8M828.3 331h1.8M812.8 341.1h1.8M818.4 341.1h1.8M825.5 341.1h1.8M831.1 341.1h1.8" stroke="#f2432a" stroke-width="1.6" fill="none"/>
</g>
<g>
<rect x="871.2" y="235.9" width="32.4" height="167.1" fill="#e6f3df" stroke="#aab8a6" stroke-width="0.7"/>
<rect x="899.7" y="236.5" width="1.5" height="165.9" fill="#9bea8c" stroke="#6b8f6b" stroke-width="0.5"/>
<rect x="873" y="249.3" width="24.9" height="140.3" fill="#6f8478"/>
<rect x="873.7" y="238.3" width="2.2" height="162.3" rx="1" fill="#f5d796" stroke="#66725f" stroke-width="0.6"/>
<rect x="876.6" y="249.3" width="2.2" height="140.3" fill="#f5d796"/>
<rect x="879.6" y="238.3" width="2.2" height="162.3" rx="1" fill="#f5d796" stroke="#66725f" stroke-width="0.6"/>
<rect x="882.5" y="249.3" width="2.2" height="140.3" fill="#f5d796"/>
<rect x="886.2" y="238.3" width="2.2" height="162.3" rx="1" fill="#f5d796" stroke="#66725f" stroke-width="0.6"/>
<rect x="889.1" y="249.3" width="2.2" height="140.3" fill="#f5d796"/>
<rect x="892.1" y="238.3" width="2.2" height="162.3" rx="1" fill="#f5d796" stroke="#66725f" stroke-width="0.6"/>
<rect x="895" y="249.3" width="2.2" height="140.3" fill="#f5d796"/>
<rect x="873.8" y="303.3" width="2" height="43.2" fill="#57dbe9"/>
<rect x="876.7" y="314.1" width="2" height="21.6" fill="#57dbe9"/>
<rect x="879.7" y="303.3" width="2" height="43.2" fill="#57dbe9"/>
<rect x="882.6" y="314.1" width="2" height="32.4" fill="#57dbe9"/>
<rect x="886.3" y="303.3" width="2" height="43.2" fill="#57dbe9"/>
<rect x="889.2" y="314.1" width="2" height="21.6" fill="#57dbe9"/>
<rect x="892.2" y="303.3" width="2" height="43.2" fill="#57dbe9"/>
<rect x="895.1" y="314.1" width="2" height="21.6" fill="#57dbe9"/>
<path d="M873 249.3H897.9M873 260.1H897.9M873 270.9H897.9M873 281.7H897.9M873 292.5H897.9M873 303.3H897.9M873 314.1H897.9M873 324.8H897.9M873 335.6H897.9M873 346.4H897.9M873 357.2H897.9M873 368H897.9M873 378.8H897.9M873 389.6H897.9" stroke="#566a5c" stroke-width="0.6" fill="none"/>
<path d="M873.9 249.3h1.8M879.8 249.3h1.8M886.4 249.3h1.8M892.3 249.3h1.8M876.8 260.1h1.8M882.7 260.1h1.8M889.3 260.1h1.8M895.2 260.1h1.8M873.9 270.9h1.8M879.8 270.9h1.8M886.4 270.9h1.8M892.3 270.9h1.8M876.8 281.7h1.8M882.7 281.7h1.8M889.3 281.7h1.8M895.2 281.7h1.8M873.9 292.5h1.8M879.8 292.5h1.8M886.4 292.5h1.8M892.3 292.5h1.8M876.8 303.3h1.8M882.7 303.3h1.8M889.3 303.3h1.8M895.2 303.3h1.8M873.9 314.1h1.8M879.8 314.1h1.8M886.4 314.1h1.8M892.3 314.1h1.8M876.8 324.8h1.8M882.7 324.8h1.8M889.3 324.8h1.8M895.2 324.8h1.8M873.9 335.6h1.8M879.8 335.6h1.8M886.4 335.6h1.8M892.3 335.6h1.8M876.8 346.4h1.8M882.7 346.4h1.8M889.3 346.4h1.8M895.2 346.4h1.8M873.9 357.2h1.8M879.8 357.2h1.8M886.4 357.2h1.8M892.3 357.2h1.8M876.8 368h1.8M882.7 368h1.8M889.3 368h1.8M895.2 368h1.8M873.9 378.8h1.8M879.8 378.8h1.8M886.4 378.8h1.8M892.3 378.8h1.8M876.8 389.6h1.8M882.7 389.6h1.8M889.3 389.6h1.8M895.2 389.6h1.8" stroke="#f2432a" stroke-width="1.6" fill="none"/>
</g>
<g>
<rect x="957.5" y="193.9" width="27.1" height="208.6" fill="#e6f3df" stroke="#aab8a6" stroke-width="0.7"/>
<rect x="982.6" y="194.5" width="1.5" height="207.4" fill="#9bea8c" stroke="#6b8f6b" stroke-width="0.5"/>
<rect x="958" y="208" width="24.1" height="180.4" fill="#6f8478"/>
<rect x="958.7" y="196.3" width="2.1" height="203.8" rx="1" fill="#f5d796" stroke="#66725f" stroke-width="0.6"/>
<rect x="961.5" y="208" width="2.1" height="180.4" fill="#f5d796"/>
<rect x="964.3" y="196.3" width="2.1" height="203.8" rx="1" fill="#f5d796" stroke="#66725f" stroke-width="0.6"/>
<rect x="967.1" y="208" width="2.1" height="180.4" fill="#f5d796"/>
<rect x="970.9" y="196.3" width="2.1" height="203.8" rx="1" fill="#f5d796" stroke="#66725f" stroke-width="0.6"/>
<rect x="973.7" y="208" width="2.1" height="180.4" fill="#f5d796"/>
<rect x="976.5" y="196.3" width="2.1" height="203.8" rx="1" fill="#f5d796" stroke="#66725f" stroke-width="0.6"/>
<rect x="979.3" y="208" width="2.1" height="180.4" fill="#f5d796"/>
<rect x="958.8" y="303.5" width="1.9" height="31.8" fill="#57dbe9"/>
<rect x="961.6" y="314.1" width="1.9" height="21.2" fill="#57dbe9"/>
<rect x="964.4" y="303.5" width="1.9" height="31.8" fill="#57dbe9"/>
<rect x="967.2" y="314.1" width="1.9" height="10.6" fill="#57dbe9"/>
<rect x="971" y="292.9" width="1.9" height="42.4" fill="#57dbe9"/>
<rect x="973.8" y="303.5" width="1.9" height="21.2" fill="#57dbe9"/>
<rect x="976.6" y="292.9" width="1.9" height="42.4" fill="#57dbe9"/>
<rect x="979.4" y="292.9" width="1.9" height="21.2" fill="#57dbe9"/>
<path d="M958 208H982.1M958 218.6H982.1M958 229.2H982.1M958 239.8H982.1M958 250.4H982.1M958 261.1H982.1M958 271.7H982.1M958 282.3H982.1M958 292.9H982.1M958 303.5H982.1M958 314.1H982.1M958 324.7H982.1M958 335.3H982.1M958 346H982.1M958 356.6H982.1M958 367.2H982.1M958 377.8H982.1M958 388.4H982.1" stroke="#566a5c" stroke-width="0.6" fill="none"/>
<path d="M958.8 208h1.8M964.4 208h1.8M971.1 208h1.8M976.7 208h1.8M961.6 218.6h1.8M967.2 218.6h1.8M973.9 218.6h1.8M979.5 218.6h1.8M958.8 229.2h1.8M964.4 229.2h1.8M971.1 229.2h1.8M976.7 229.2h1.8M961.6 239.8h1.8M967.2 239.8h1.8M973.9 239.8h1.8M979.5 239.8h1.8M958.8 250.4h1.8M964.4 250.4h1.8M971.1 250.4h1.8M976.7 250.4h1.8M961.6 261.1h1.8M967.2 261.1h1.8M973.9 261.1h1.8M979.5 261.1h1.8M958.8 271.7h1.8M964.4 271.7h1.8M971.1 271.7h1.8M976.7 271.7h1.8M961.6 282.3h1.8M967.2 282.3h1.8M973.9 282.3h1.8M979.5 282.3h1.8M958.8 292.9h1.8M964.4 292.9h1.8M971.1 292.9h1.8M976.7 292.9h1.8M961.6 303.5h1.8M967.2 303.5h1.8M973.9 303.5h1.8M979.5 303.5h1.8M958.8 314.1h1.8M964.4 314.1h1.8M971.1 314.1h1.8M976.7 314.1h1.8M961.6 324.7h1.8M967.2 324.7h1.8M973.9 324.7h1.8M979.5 324.7h1.8M958.8 335.3h1.8M964.4 335.3h1.8M971.1 335.3h1.8M976.7 335.3h1.8M961.6 346h1.8M967.2 346h1.8M973.9 346h1.8M979.5 346h1.8M958.8 356.6h1.8M964.4 356.6h1.8M971.1 356.6h1.8M976.7 356.6h1.8M961.6 367.2h1.8M967.2 367.2h1.8M973.9 367.2h1.8M979.5 367.2h1.8M958.8 377.8h1.8M964.4 377.8h1.8M971.1 377.8h1.8M976.7 377.8h1.8M961.6 388.4h1.8M967.2 388.4h1.8M973.9 388.4h1.8M979.5 388.4h1.8" stroke="#f2432a" stroke-width="1.6" fill="none"/>
</g>
<g>
<rect x="1039.8" y="214.3" width="29.7" height="262.1" fill="#e6f3df" stroke="#aab8a6" stroke-width="0.7"/>
<rect x="1067.5" y="214.9" width="1.5" height="260.9" fill="#9bea8c" stroke="#6b8f6b" stroke-width="0.5"/>
<rect x="1040.9" y="230.8" width="25.4" height="229.1" fill="#6f8478"/>
<rect x="1041.6" y="216.7" width="2.1" height="257.3" rx="1" fill="#f5d796" stroke="#66725f" stroke-width="0.6"/>
<rect x="1044.4" y="230.8" width="2.1" height="229.1" fill="#f5d796"/>
<rect x="1047.2" y="216.7" width="2.1" height="257.3" rx="1" fill="#f5d796" stroke="#66725f" stroke-width="0.6"/>
<rect x="1050" y="230.8" width="2.1" height="229.1" fill="#f5d796"/>
<rect x="1055.1" y="216.7" width="2.1" height="257.3" rx="1" fill="#f5d796" stroke="#66725f" stroke-width="0.6"/>
<rect x="1057.9" y="230.8" width="2.1" height="229.1" fill="#f5d796"/>
<rect x="1060.7" y="216.7" width="2.1" height="257.3" rx="1" fill="#f5d796" stroke="#66725f" stroke-width="0.6"/>
<rect x="1063.5" y="230.8" width="2.1" height="229.1" fill="#f5d796"/>
<rect x="1041.7" y="271.2" width="1.9" height="40.4" fill="#57dbe9"/>
<rect x="1044.5" y="284.7" width="1.9" height="13.5" fill="#57dbe9"/>
<rect x="1047.3" y="271.2" width="1.9" height="40.4" fill="#57dbe9"/>
<rect x="1050.1" y="271.2" width="1.9" height="27" fill="#57dbe9"/>
<rect x="1055.2" y="257.8" width="1.9" height="40.4" fill="#57dbe9"/>
<rect x="1058" y="257.8" width="1.9" height="27" fill="#57dbe9"/>
<rect x="1060.8" y="257.8" width="1.9" height="40.4" fill="#57dbe9"/>
<rect x="1063.6" y="244.3" width="1.9" height="40.4" fill="#57dbe9"/>
<path d="M1040.9 230.8H1066.3M1040.9 244.3H1066.3M1040.9 257.8H1066.3M1040.9 271.2H1066.3M1040.9 284.7H1066.3M1040.9 298.2H1066.3M1040.9 311.7H1066.3M1040.9 325.1H1066.3M1040.9 338.6H1066.3M1040.9 352.1H1066.3M1040.9 365.6H1066.3M1040.9 379H1066.3M1040.9 392.5H1066.3M1040.9 406H1066.3M1040.9 419.5H1066.3M1040.9 432.9H1066.3M1040.9 446.4H1066.3M1040.9 459.9H1066.3" stroke="#566a5c" stroke-width="0.6" fill="none"/>
<path d="M1041.7 230.8h1.8M1047.3 230.8h1.8M1055.3 230.8h1.8M1060.9 230.8h1.8M1044.5 244.3h1.8M1050.1 244.3h1.8M1058.1 244.3h1.8M1063.7 244.3h1.8M1041.7 257.8h1.8M1047.3 257.8h1.8M1055.3 257.8h1.8M1060.9 257.8h1.8M1044.5 271.2h1.8M1050.1 271.2h1.8M1058.1 271.2h1.8M1063.7 271.2h1.8M1041.7 284.7h1.8M1047.3 284.7h1.8M1055.3 284.7h1.8M1060.9 284.7h1.8M1044.5 298.2h1.8M1050.1 298.2h1.8M1058.1 298.2h1.8M1063.7 298.2h1.8M1041.7 311.7h1.8M1047.3 311.7h1.8M1055.3 311.7h1.8M1060.9 311.7h1.8M1044.5 325.1h1.8M1050.1 325.1h1.8M1058.1 325.1h1.8M1063.7 325.1h1.8M1041.7 338.6h1.8M1047.3 338.6h1.8M1055.3 338.6h1.8M1060.9 338.6h1.8M1044.5 352.1h1.8M1050.1 352.1h1.8M1058.1 352.1h1.8M1063.7 352.1h1.8M1041.7 365.6h1.8M1047.3 365.6h1.8M1055.3 365.6h1.8M1060.9 365.6h1.8M1044.5 379h1.8M1050.1 379h1.8M1058.1 379h1.8M1063.7 379h1.8M1041.7 392.5h1.8M1047.3 392.5h1.8M1055.3 392.5h1.8M1060.9 392.5h1.8M1044.5 406h1.8M1050.1 406h1.8M1058.1 406h1.8M1063.7 406h1.8M1041.7 419.5h1.8M1047.3 419.5h1.8M1055.3 419.5h1.8M1060.9 419.5h1.8M1044.5 432.9h1.8M1050.1 432.9h1.8M1058.1 432.9h1.8M1063.7 432.9h1.8M1041.7 446.4h1.8M1047.3 446.4h1.8M1055.3 446.4h1.8M1060.9 446.4h1.8M1044.5 459.9h1.8M1050.1 459.9h1.8M1058.1 459.9h1.8M1063.7 459.9h1.8" stroke="#f2432a" stroke-width="1.6" fill="none"/>
</g>
<rect x="835.4" y="322.5" width="1.7" height="5" fill="#c81818"/>
<rect x="899.9" y="321.6" width="1.7" height="7.4" fill="#c81818"/>
<rect x="982.8" y="307.4" width="1.7" height="3.2" fill="#c81818"/>
<rect x="1067.6" y="277.4" width="1.7" height="7.6" fill="#c81818"/>
<polyline points="771.9,223.2 833.7,203.1" fill="none" stroke="#c40d0d" stroke-width="6.9" stroke-linejoin="miter"/>
<polyline points="827,187.6 851.4,226.6 851.4,251.1" fill="none" stroke="#c40d0d" stroke-width="7.1" stroke-linejoin="miter"/>
<polyline points="854.5,203.9 867.2,224.4 867.2,249.9" fill="none" stroke="#c40d0d" stroke-width="7.1" stroke-linejoin="miter"/>
<polyline points="867.2,231.4 908.2,231.4" fill="none" stroke="#c40d0d" stroke-width="6.7" stroke-linejoin="miter"/>
<polyline points="896.9,194.3 908.2,213 908.2,237.4" fill="none" stroke="#c40d0d" stroke-width="7.1" stroke-linejoin="miter"/>
<polyline points="934.9,175 952.7,200.6 952.7,225.5" fill="none" stroke="#c40d0d" stroke-width="7.1" stroke-linejoin="miter"/>
<polyline points="947.3,193 980.3,176.8" fill="none" stroke="#c40d0d" stroke-width="6.7" stroke-linejoin="miter"/>
<polyline points="976.2,170.8 990.4,193 990.4,216" fill="none" stroke="#c40d0d" stroke-width="7.1" stroke-linejoin="miter"/>
<polyline points="1020.7,163.5 1033.8,184.4 1033.8,216.1" fill="none" stroke="#c40d0d" stroke-width="10.1" stroke-linejoin="miter"/>
<polyline points="783.1,354.3 849,365.1" fill="none" stroke="#c40d0d" stroke-width="6.9" stroke-linejoin="miter"/>
<polyline points="851.4,349 851.4,391.5 836.2,414.9" fill="none" stroke="#c40d0d" stroke-width="7.1" stroke-linejoin="miter"/>
<polyline points="866.1,375.2 866.1,396.6 849.3,421.2" fill="none" stroke="#c40d0d" stroke-width="7.1" stroke-linejoin="miter"/>
<polyline points="860.3,404.6 896.6,423.2" fill="none" stroke="#c40d0d" stroke-width="6.7" stroke-linejoin="miter"/>
<polyline points="907.6,386 907.6,405.6 893.4,428" fill="none" stroke="#c40d0d" stroke-width="7.1" stroke-linejoin="miter"/>
<polyline points="952,386 952,414 937.4,437.4" fill="none" stroke="#c40d0d" stroke-width="7.1" stroke-linejoin="miter"/>
<polyline points="952,407.4 989.2,407.4" fill="none" stroke="#c40d0d" stroke-width="6.7" stroke-linejoin="miter"/>
<polyline points="989.2,400.6 989.2,424 976.1,445.5" fill="none" stroke="#c40d0d" stroke-width="7.1" stroke-linejoin="miter"/>
<polyline points="1032.9,413.7 1032.9,436.6 1013.7,464.9" fill="none" stroke="#c40d0d" stroke-width="10.1" stroke-linejoin="miter"/>
<polyline points="773.2,222.8 832.4,203.5" fill="none" stroke="#f5a26c" stroke-width="4" stroke-linejoin="miter"/>
<polyline points="827.7,188.8 851.4,226.6 851.4,249.7" fill="none" stroke="#f5a26c" stroke-width="4.2" stroke-linejoin="miter"/>
<polyline points="855.2,205.1 867.2,224.4 867.2,248.5" fill="none" stroke="#f5a26c" stroke-width="4.2" stroke-linejoin="miter"/>
<polyline points="868.6,231.4 906.8,231.4" fill="none" stroke="#f5a26c" stroke-width="3.8" stroke-linejoin="miter"/>
<polyline points="897.6,195.5 908.2,213 908.2,236" fill="none" stroke="#f5a26c" stroke-width="4.2" stroke-linejoin="miter"/>
<polyline points="935.7,176.1 952.7,200.6 952.7,224.1" fill="none" stroke="#f5a26c" stroke-width="4.2" stroke-linejoin="miter"/>
<polyline points="948.6,192.4 979,177.4" fill="none" stroke="#f5a26c" stroke-width="3.8" stroke-linejoin="miter"/>
<polyline points="977,172 990.4,193 990.4,214.6" fill="none" stroke="#f5a26c" stroke-width="4.2" stroke-linejoin="miter"/>
<polyline points="1021.4,164.7 1033.8,184.4 1033.8,214.7" fill="none" stroke="#f5a26c" stroke-width="7.2" stroke-linejoin="miter"/>
<polyline points="784.5,354.5 847.6,364.9" fill="none" stroke="#f5a26c" stroke-width="4" stroke-linejoin="miter"/>
<polyline points="851.4,350.4 851.4,391.5 837,413.7" fill="none" stroke="#f5a26c" stroke-width="4.2" stroke-linejoin="miter"/>
<polyline points="866.1,376.6 866.1,396.6 850.1,420" fill="none" stroke="#f5a26c" stroke-width="4.2" stroke-linejoin="miter"/>
<polyline points="861.5,405.2 895.4,422.6" fill="none" stroke="#f5a26c" stroke-width="3.8" stroke-linejoin="miter"/>
<polyline points="907.6,387.4 907.6,405.6 894.1,426.8" fill="none" stroke="#f5a26c" stroke-width="4.2" stroke-linejoin="miter"/>
<polyline points="952,387.4 952,414 938.1,436.2" fill="none" stroke="#f5a26c" stroke-width="4.2" stroke-linejoin="miter"/>
<polyline points="953.4,407.4 987.8,407.4" fill="none" stroke="#f5a26c" stroke-width="3.8" stroke-linejoin="miter"/>
<polyline points="989.2,402 989.2,424 976.8,444.3" fill="none" stroke="#f5a26c" stroke-width="4.2" stroke-linejoin="miter"/>
<polyline points="1032.9,415.1 1032.9,436.6 1014.5,463.7" fill="none" stroke="#f5a26c" stroke-width="7.2" stroke-linejoin="miter"/>
</g>
<g id="showers">
<path d="M598.1 257.6L597.5 258.4L596.5 258.2L595.6 258.8L594.8 259.4L594.5 260.7L594.5 261.9L595.5 262.3M594.5 251L593.6 251.9L592.8 251.6L591.4 251.5L591 252.1L590.1 251.9L589.2 252.1L588.3 252.8M597.9 251.5L598.6 252L598.4 253.4L597.9 254L596.9 254.3L596.8 255.7M601 254.7L601.2 255.6L602.2 256L603.3 256L603.6 256.7M596.5 255.1L597.1 254.6L597.8 254.5L598.4 255.4L598.3 256.3L598 257.4L597.6 258.6L597.3 259.7M597.5 256.8L598.2 256L598.9 256.5L599.3 257.4L600.1 257.9L600.7 258.6L601.5 259L602.5 259.5M594.5 255.2L594.2 256.3L594.8 257.5L594.9 258.5L594.6 259.3L593.8 259.8M589.7 255.4L588.9 254.8L588 254.2L587.3 253.9L586.6 253.3M596.2 253.6L595.5 254L595 254.7L595 255.6M593.5 260.6L594.3 261.5L594.9 262.6L594.9 263.6M594 251.8L594.6 251.4L595.3 250.9L595.3 249.8L596.5 249.1L597 248.8L597.4 247.8L597.8 246.5M593.8 255.1L593.8 256L594.6 256.8L595.8 256.7L596.8 257L597.5 257.5L598.2 257.9L599.2 258.2M597 254.7L597.9 254.5L598.9 254.6L599.3 254.1M595.5 257.3L595.5 257.9L594.9 258.8L595.5 259.7L596.2 260.1L595.9 261.2M595.1 253.4L595.8 253L596.4 253L597.8 252.9L599 252.4L599.5 251.8L600.6 251.5M595.1 251.7L595.1 250.5L595 249.6L595 248.5L594.6 247.7L594.9 247.2L595.5 246.5L595.5 245M593 256L592.2 256.5L592.1 257.8L592.5 258.4L592.8 259.3L593.3 260L593.7 260.7L593.3 261.8M599.9 256.5L600.2 255.7L600.9 255.7L602 255.6L603.3 255.7L603.8 256.4L603.4 257.4L602.4 258M592.7 255.4L593.3 254.7L593.5 254L593.7 253L594.4 252.5M590.5 256.1L589.7 255L588.8 254.2L588.1 253.8M593.5 252.7L593.9 252.1L593.7 250.8L594.3 250L594.6 248.9L594.2 247.9M596.9 257.4L596.3 258.1L595.8 258.8L595 258.5L594.3 259.1L594.4 260.5M602.5 254.9L601.7 255L600.5 254.8L599.7 253.9L599.4 253L598.4 252.3M594.5 255.6L593.2 255.5L592.3 256L592.1 257.1L591.7 258M596.4 256.7L596.9 257.8L597.5 258.4L597.4 259.4L598.1 260.1M596.3 257.8L595 257.8L594.5 258.3L593.3 258.3M598.4 256.5L598.5 255.6L598 254.8L597.2 254.5L596.6 255.7M597.9 253.1L596.9 253.3L595.7 252.9L595.2 253.7L595.6 254.4L596.6 254.7L596.9 255.9L596 256.4M597.5 258.6L597.3 259.1L597.5 259.7L597.6 260.6L596.8 261L595.7 260.7L594.8 260.1M595.1 249.6L595.8 249.3L596.6 249.8L597.1 250.6L598.4 250.4L599 250.2L599.9 250.5M598.2 254.4L598.8 253.8L598.4 252.8L597.5 252.8L597 253.3L597 254L597.7 254.4M598.9 253.8L598.7 254.8L597.4 254.9L596.8 255.3M602 255.6L600.7 255.6L600.4 254.9L599.3 254.3L598.7 254.2L598.4 253.6M597.3 254.7L597.7 255.5L598.8 256.2L599.7 256.4M593.8 254.4L593.1 253.7L592.4 254.1L591 254.2L590 253.4L589 252.9L588.3 252.2M594.5 256.6L593.9 257.8L594.3 258.8L594.2 259.9L593.7 260.8L593.1 260.9L592.8 262.2L592 262.6M599.8 257.6L600.4 257.4L601.2 257.4L601.9 256.6L601.5 255.4L600.5 255.2M595 252.1L595.8 251.5L595.5 250.4L595.9 249.4L596 248.5L596.9 248.1L597.8 247.4L598.4 246.4M598 260.9L597.5 261.7L597 262.1L596.5 262.7L595.5 262.7L594.8 262.4L594.9 261.5M598.1 255L598 256.4L597.5 257.3L597.3 258.7L596.4 259M592.2 263.5L592.7 264.4L593.3 263.8L593.2 263.1L592.4 262.8L591.8 262M598.9 255.8L598.8 254.6L599.4 253.3L600.3 253.2L601 252.6L601.8 251.9L602.2 250.7M595.8 253.2L596.4 253.4L597.1 253.6L598.2 253.2L599.1 254.2L599.7 254L600.4 253.7L601 253.4M598.7 258.8L598.4 259.2L597.8 258.8L596.5 258.2L596.4 257L596 256.5M599.2 254.1L600.3 254.5L600.7 255.3L601 256L600.9 257L601.1 258L600.5 259.1M598.3 255.9L597.6 255.8L596.8 255.5L596.3 255.2L596 254.4L595.7 253.9L595.2 252.7M594.7 257L593.8 256.9L593.3 257.4L592.3 257.5L591.5 258.2L590.3 258.7L589.7 258.7M601.2 255.8L602.2 256.2L602 257L601.8 257.9L602.1 258.9L602.2 259.8M598.6 253.7L599.4 254.1L600.4 254L601.1 253.2L600.9 252.5M598.4 255.3L598.6 256.7L597.4 257.1L596.5 257.8L595.8 258L594.9 258.9L594.1 259.5L593.4 260.4M598.9 257.1L599.7 256L599.9 255.3L600.1 254.3L599.7 253.7M598.8 255.5L597.8 255.2L597 254.8L596.5 254L595.7 253.6L594.8 252.6M597 250.4L597.3 251.3L597.1 252.4L597.5 253.3L597.9 254.5L597.1 255.1M595.2 255.1L594.6 254.8L593.2 254.8L592.5 255.8L591.7 256.8L591.5 257.7L591.6 258.8L590.7 259.2M597.9 256.8L598 255.9L597.7 254.9L596.8 254.6L596.2 253.9M596.1 258.6L595.6 259.1L595 259.4L594.2 258.8L593.2 258.6L592.6 258.5L591.6 257.9M596.7 257.2L595.4 257.5L594.5 258L593.4 257.8M592.8 254L593.5 254.2L594.2 253.8L595.2 254.1L595.7 253.4M596.6 252L596 252.6L595.9 253.3L595.7 254.1L594.6 254.9L593.9 255L593.1 255.1M596.6 253.4L595.9 252.7L595.2 252.5L594.4 252.1L594.1 251.3L593.7 250.7L592.6 250.5" fill="none" stroke="#2222b0" stroke-width="0.9" stroke-linecap="round" stroke-linejoin="round" opacity="1"/>
<path d="M596.7 255.7L596.7 256.6L597.5 257L597.9 257.8L597.8 258.9M598.5 254.1L598.9 254.7L599 255.8L599.9 256.2L600.4 256.5L601.3 255.8M594.8 255.7L595.5 255.7L596 255.2L596.3 254.6L596.8 254.5L597.2 255.3L597.2 256.3L598.2 256.7M595.5 256.1L595 256.9L595.1 257.5L594.8 258.1L594.9 258.9L595.8 259.2L595.9 260.3L596.5 260.6M595.6 253.8L596.1 253.9L596.4 254.4L596.4 255.3L596.8 255.9L596.5 256.7L596.5 257.8L596.9 258.5M591.7 255.5L591.2 254.8L590.4 255.1L589.5 255.6L589.2 256L589.1 257.1L588.5 257.4L588.3 257.9M598.3 257.5L598 258L597.5 258.8L596.5 258.8M595.6 256.9L596.5 257.3L597.1 258L596.9 258.9L596.4 259.7L596 259.3L596 258.9L596.4 258.3M595.7 255L596 256L596.4 256.6L597.2 256.2L598.2 256.3L599.3 256.4L599.8 257M595.5 253.6L594.9 254.1L594.5 254.8L594.7 255.8M596.8 253.9L597.2 254.6L597 255.2L596.7 255.7M598.5 255.3L599.1 255.8L600 256.3L600.7 256.9L601.6 256.7L602 256.1L602.7 256L602.7 255M597 255.3L597.1 254.7L597.7 254.2L598.4 254.8L598.7 255.8L599.3 256.4L598.9 257.2L598.8 258.2M595.8 257.6L596.2 258.4L597.1 258.7L597.4 259.7M598.6 254.8L599.3 254.6L599.4 253.5L600.2 252.9L600.7 253.4L601.4 254.1M594.2 251.8L594.6 252.6L594.3 253.6L594.1 254.6L593.6 255.1L593.3 256.2L592.6 256.4M596.1 253.9L595.7 254.7L595.1 255.3L595 256.1M593.1 258.5L592.8 258.1L592.3 257.6L592.2 257L591.7 256.2L590.7 256.3M592 256.7L592.6 257.2L592.3 257.7L591.4 257.7L590.9 257.5L590.3 257.4L589.9 257.8L589.4 257.8M597.2 256L596.4 256.5L596 257.5L596 258.2L597 258.4L597 258.9L596.2 259.3M594.3 255.8L594.9 255.1L595.8 255.3L596.4 255.1L596.8 254.2M595.7 258.9L596 258.2L596.1 257.3L595.7 256.5L595 255.7L595.3 254.8L595.9 254.2M597.5 254.2L598.2 254.6L598.8 254.5L599.7 255.1M600.8 255.5L601.3 255.3L602.1 254.6L602.5 255L603.1 254.7L604 254L604.6 253.8L605.1 253.5M594.3 256.4L593.8 256.8L594.3 257.8L595.2 258.1L595.9 258.6M594.9 255.1L594.1 255.3L593.2 255.1L592.9 254.3M593.3 253.1L592.6 253.4L592.1 254.3L592.3 255.4L593.4 255.6M593.7 255.8L594.9 255.6L595.8 256.1L596.1 256.8M593.6 254.8L594.1 254.6L594.2 254.1L595.3 253.9L596.1 253.2L596.8 252.4M595.4 257.3L594.5 257.7L594 257.5L593.5 257.9L593.2 258.6L593.2 259.7M597.4 255.9L597.5 255.3L598 254.7L599.1 254.9L599.3 256M594.7 255.1L595.6 255L596.2 255.3L596.6 255.6L597.5 255.6M596.2 254L595.8 254.4L595.3 254.2L594.7 254.6M596.5 257.4L595.9 258.1L595.4 258.8L595 258.5L594.1 258L594.1 257.1M597 255.7L596.5 255.1L596.5 254L597.1 253.4L597.2 252.6M596.4 254.1L595.4 254.2L594.9 254.6L594.7 255.7L594.9 256.6L594.3 257M598.1 256.5L599.1 257L599 257.4L599.3 258.2L600.2 258.3M594.3 254.9L593.7 255.3L594 256L594.4 256.6M598.6 255.4L599.5 255L600 254.6L600.8 254.6M597.4 256.9L596.8 257.3L595.9 257.6L595.1 258L594 257.9L593.1 258.6L592.3 258.8" fill="none" stroke="#1616b4" stroke-width="1.3" stroke-linecap="round" stroke-linejoin="round" opacity="1"/>
<path d="M603.6 320.7L602.8 319.9L602.1 319.4L601.6 318.5L601.4 317.9L600.3 317.2L599.1 317.4L598.4 317.4M606.8 324.8L606.3 325.8L605.4 326.3L604.4 325.7L604.3 324.8M604.9 328L605.3 329L605.1 329.9L605.5 330.5L605.7 331.3L604.8 331.9M601.2 327.4L600.7 327.5L600.1 328.2L598.9 328.8L598.3 329.6L597.7 329.8L596.6 329.5M606.2 325.9L606 326.7L605.6 327.6L605.3 328.6L604.7 329.3L604.1 329.5L603.7 328.6L603.1 328M606 335.5L605.3 334.9L604.8 334.1L604.1 333.8L603.5 334.3L602.4 334.1L601.1 333.6M603 328.2L602.5 329.1L603.1 330.3L604.1 330.6L605 330.8M606.9 323.1L606.6 322L605.8 321.3L605.5 320M604.5 321.5L605.1 322L606 322.3L606.8 322.2L607.3 323.3L608.6 323.4L609.4 323.3L609.8 324.1M607.1 324.3L608.3 323.9L609.2 324L610 324.8L610.6 324.4L611.3 324.4L611.9 324.6M604.5 327.2L604.1 328.1L603.9 329.2L604.4 330L605.2 330.5L605.5 331.6M599.7 320.7L598.9 321.3L597.7 321.9L596.8 322.7L596.5 323.6L595.6 324.7M603.9 323.2L604.4 322.1L604.9 321L605.6 320.1M601.9 324.9L603 324.3L603.4 323.4L603.5 321.9L603.6 321L602.7 320.4L601.5 320.2M607.9 327.7L607.3 328.2L607.3 329L607.1 330.1L606.4 330.6L605.7 331L605.1 331.7M602.2 325.7L601.8 325.2L601.5 324.2L600.6 323.8L599.6 323.1L598.7 322.1L598 321.3L598.3 320.1M604.7 326.2L604.3 325L603.3 324.7L602.5 324.5L601.4 324.2L600.2 324.5L599.6 324.3L599.4 323.1M608.7 330L608.5 330.8L607.8 330.9L607.2 331.3M605.9 326.9L605.6 327.6L605.7 328.1L606.7 328.6M600.9 329.1L601.6 329.1L603 329.1L603.7 329.4L604.9 329M605.3 328.4L605.4 329.5L606.5 329.8L607.4 329.4L608.3 329.7L608.5 330.9L609.2 330.9M605.1 323.4L605.1 324.5L605.4 325.3L605.5 326.2L606.6 326.8L606.8 328L607 329.1M606.2 322.4L606.9 322.2L607.6 322.9L608.2 323.9M607.5 325.4L607.2 326.2L607 326.9L607.4 327.5L608.1 327.9M609.9 330L608.8 330.3L608.4 329.5L607.3 329.1M604.9 328.4L605.9 329.1L606.4 329.7L606.8 330.7L607.8 331.1M604.7 327.1L604.2 327.8L603.8 328.6L602.9 328.2L602.4 329L601.3 329.3M604.5 327.1L604.8 328L604.6 329.4L605.4 330.3M604.6 328.6L604.7 328L603.6 327.4L602.8 327.1M607 321.9L606.8 322.8L606.1 323.1L605.7 324M607 323.7L607.8 324.5L607.4 325.2L607.1 326.3M609.3 319.7L609.8 318.8L610.8 318L611.8 317.9M608.4 322L609.1 322.3L609.8 322.3L610.3 321.3M604.2 327.1L603.6 326.6L603.3 325.8L603.7 325.2L603.7 324.3L602.8 323.9L603 322.9L603.4 321.9M601.8 326.4L600.8 326.4L599.6 326.6L598.2 326.6L597.6 327.4L598.5 327.9L598.9 329M602.9 326.9L603.2 328.1L602.9 329.2L601.8 329.7L601.7 330.6M605.2 328.5L605.2 329.7L604.6 330.4L604 331.5M603.5 320.2L603.7 321.3L603.4 322.3L602.6 322.9M601.8 322.9L601 322.1L600.2 321.4L599.7 320.5L599.2 320.2L598.1 320L597.5 319L596.3 318.9M607.2 320.9L608.4 321.1L609.1 321.6L609.1 323L609 323.6L609.2 324.7M611.3 323.4L610.1 323.1L609 322.5L608.3 322.9L607.7 322.3L607 322.7L606 322.9M604.3 321.8L603.6 322.7L603.3 323.8L602.6 323.8L602.1 324.7M604.7 328.4L604.5 327.4L605.1 326.7L606.2 326.5L607 325.5L607.3 324.9M605 327.5L604.9 328.5L605.4 329.1L604.8 330L603.5 330L603 329.4L601.7 329.4L601.1 328.5M604.6 326L604.9 325.2L605 324.2L606.1 324L607.4 324.5L608.2 324.3M609.1 324.5L609.4 323.7L610.3 323.5L610.9 322.9M606.2 328L606.8 328.5L607 329.5L607.6 329.9L608.7 329.6L610 329.2L610.1 328.4M605.2 325.5L604.1 325.2L603.6 326.1L602.8 327.2L601.8 327.6L601.4 328.7M609.3 320.8L609.4 321.5L609.8 322.1L609.6 322.9L609.6 323.6L609.7 324.6L609.3 325.2M605 325L604.9 326.3L603.8 326.4L602.9 327.4L603.3 328.2M602 331.6L602.1 333L601.9 333.6L601.3 334.2L600.6 335.3M603.2 330.6L604 330.9L604.4 331.3L605.2 331.4L605.8 330.6L606.1 329.3L607 328.8L607 327.5M603.5 324L603.7 323.2L602.8 322.8L601.8 322.1L600.6 321.8L599.5 321.5L598.5 321.3L597.7 321.7M606.2 328.5L606.9 328.9L607.4 329.9L607.7 330.9L608.4 331.6L609.6 331.9M605.1 327.1L604.3 326.5L603.5 325.7L602.6 326.1L601.8 326.4L600.6 326.7L599.6 326.5L599.1 325.7M600.9 322.3L601.3 321.6L601.2 320.4L600.9 319.4L600.3 319.1L600.3 318.4M603.8 326.9L603 327.2L602.4 326.6L602.6 326L602.7 325L603.4 324.8L603.7 324L603.6 323.3M599.2 327.2L598.2 326.6L597.2 327L597.2 328.3L597.1 329.7L597.2 330.9L597.8 331.5M605.4 327L606.2 326.8L606.2 326.1L606.9 325.4L607.2 324.6L608.2 324.6L609 325.1M606.5 328.5L607.5 328.5L607.7 329.5L608.5 330.4L609.1 330.9M607.8 325.2L606.6 324.9L606.1 325.6L605.4 326.4L604.5 326.7M606 323.3L605.6 324.2L604.4 324.2L603.8 325L603 325.2L601.8 324.9L600.6 325.2L599.6 324.9M604.7 326.8L604.1 325.8L604.4 325L605 324.8L606.3 324.5L607.5 324.5L607.8 323.7M608.9 322.9L608 322.9L606.9 323L606.4 322.3L605.3 322.9L604.7 322.6L604.1 322.4L604 321.7M608.5 322.3L607.3 322.6L607 323.7L606.7 324.5L607.5 325.1M608.8 320.9L608.8 320L608.7 319.3L607.6 318.6L606.8 318.3L606.4 317.3M601 325.6L599.9 325.7L598.5 325.8L597.8 326.8L598 327.4L598.7 327.7L599.9 327.7L600.6 327.5M606.6 325.3L607.7 324.9L608.7 325.6L608.7 326.8L609 327.9L608.2 328.6M604.5 329.2L605.2 330.1L605.8 330.6L606.5 330.6M606.3 326.7L605.2 326.5L604.5 325.5L604.9 324.7" fill="none" stroke="#2222b0" stroke-width="0.9" stroke-linecap="round" stroke-linejoin="round" opacity="1"/>
<path d="M607.4 322.3L607.2 323.2L606.2 323.2L606.1 323.8L605 324.1L604.9 325M606 322.6L606 322.1L606.7 321.5L606.6 320.7M601.7 330.9L601.5 330.1L601.9 329.5L602.9 329.8L603 330.4M603.2 326.3L603.1 326.9L602.7 327.4L602.4 327.9L601.5 327.9L601.1 327.5L601.2 326.8L601.1 326.3M605.4 326.2L605.4 327.2L606.1 327.8L607.1 328.1L607.7 327.6L608.8 327.7L609.4 328.3M605.2 326L604.6 325.7L603.5 325.5L602.5 325.4L601.8 325.8L601.7 326.5M606.2 324.3L605.5 323.9L604.7 323.5L604.7 323L604.6 322.6L604.9 321.7L605.1 320.7L604.7 320M604.3 323.9L604.5 323.4L604.4 322.5L604.4 321.6L604 321.1L603 320.7L602.8 319.7L601.9 319.8M608.7 324.6L608.2 324.1L608.2 323.1L608.1 322.1M606.8 328.6L607.2 328.3L607.5 327.6L607.8 326.7L607.5 326.1L607.8 325.4M608.2 328.7L608.5 328.2L608.9 327.8L609.6 327.5L609.5 327.1M604.1 325.4L603.9 326.4L603 326.6L602.6 327.5L601.7 327.5M606.3 324.1L606.4 323.1L606.6 322.5L606.2 321.7L605.7 321.4L605.4 321L604.6 321.1M604.7 323.3L603.9 323.4L603.3 324.2L603.2 325.2L602.7 325.5L602.6 326.7L603.5 327.2L604 328M603.5 328.2L603.3 329L603.4 330L602.6 330.4L602.1 330.2L601.7 330.6L601.2 330.4L601.1 329.4M605.5 326.7L606.3 326.7L607.1 327L607.9 326.7M604.9 319.6L604.1 319.7L603.6 320.2L603.2 321L602.2 321L601.7 321.7L600.9 321.8L600.3 321.1M605.9 325.5L606.3 325.1L606.6 324.4L606.1 324.1M604.1 322.5L604.4 321.6L604.9 321.4L605.1 320.3M608.7 325L608.5 325.9L607.9 326L607 325.9L606.5 325.1L606.5 324.6L607.3 324.2L607.9 323.3M602.6 331.9L601.9 332.4L602.1 333.2L601.6 334L600.8 333.8M604.8 326.1L605.5 325.6L605 325.2L605.4 324.4M605.8 325.3L606.2 324.6L605.6 323.9L604.9 324L604.3 323.2L604 322.7M605.8 321.8L606.4 321.7L607 321L607.9 320.3L607.5 319.5M604.9 325.8L605.4 325.2L605.9 324.5L605.7 323.9L604.8 323.4L604.7 322.9L605.2 322.2M603 327.6L602.3 327.2L602 326.6L601.7 325.8L600.9 325.1L600.1 324.6L599.5 324.7M603.4 328L603 329L603.4 329.9L603.1 330.6L603.5 331L603.5 331.5L603.1 332.2L602.2 332.4M605.9 329.5L605.4 329.3L604.7 329.8L604.5 330.6L603.5 330.9L602.9 330.7M602.8 326.9L603.3 327.4L602.8 328.2L601.7 328.3L600.9 328.2L599.9 328.2M603.7 330.3L603.3 331.1L602.7 331.6L601.7 331.4L600.9 331.4L599.8 331.2L599.2 330.8L598.5 330.8M601.1 328.5L601 329.4L601.3 330.2L601.9 330.9L601.9 331.7L602 332.2L602.8 332.4L603.4 331.6M600.1 322.4L600.3 323.1L601 323L601.9 323.3L602.8 323.8M603 329.8L602.4 330.1L601.7 329.9L601.5 329.5M606.8 327.5L605.7 327.6L605.2 327.8L604.4 327.4L603.7 327.4L602.7 326.9L602.5 325.8M605.7 326.9L605.2 326.6L605.4 325.4L605.8 325L606.5 324.4L607.3 324.3L607.8 324.8L608.8 325.2M604.5 327.6L604.1 327.3L603.6 326.9L602.9 326.5L602.3 325.9M608.4 323.6L609 323.4L609.5 322.9L609.2 322.4L608.5 321.9M604.8 324.1L604.5 323.1L604.8 322.2L604.7 321.5L604 321.2L603.3 321.4L602.9 321M607.1 324.4L606.6 324.7L605.9 324.2L605.9 323.3M606.1 328.5L605.3 328L605.1 327.6L605.4 327.1M603.9 327.2L604.2 326.2L603.6 325.5L603.1 324.9L602.6 324.8L601.6 325L601.4 325.7M605.9 329.6L606.5 329.7L607.4 329.7L607.9 330.5L608.4 330.9L608.4 332M604.9 323.8L604 323.5L603.7 324.2L603.6 325.2L603.3 325.8L602.8 325.8L602.4 324.9M606.4 323L607.2 323L607.5 324L607.9 324.8L608.7 325.1M608.6 322.3L608.5 321.7L608.5 320.8L608 320.3L606.9 320.2L606.2 320.5L605.4 320.9" fill="none" stroke="#1616b4" stroke-width="1.3" stroke-linecap="round" stroke-linejoin="round" opacity="1"/>
<path d="M655.7 267.6L657.6 266.9L659.3 267.2L660.7 266.5L662.8 265.5L664.4 265L666.3 265.7M670 259.9L672 260.6L673 261.5L674 261.7L675.3 262.7M672.4 260L672.3 261.9L673.3 262.7L674.2 261.7L674.9 260.6M657.9 271L655.7 271.2L655.2 273.6L654.2 274.4L654.2 276.6L655.7 277.7L657.8 277.6L659 278.1M671.6 265.3L673.4 264.5L674.8 262.8L673.7 261.6L671.7 260.9L670.6 260.9L669.3 260.5L667.6 260.9M654.5 266.6L655.8 265.9L657.9 265.7L659.8 265.9L661.5 265.7M673.7 261.3L672 262.1L670.1 261.8L668.3 262.4L667.8 264.7L667 266.8M669.3 262.7L669.9 264L671 265L672.7 265.3L674 267.1L675.3 268.6L676.5 269.2M664.7 261.8L667.3 261.8L669.4 261.9L671.1 263.4L670.8 265.4L668.5 266M671.3 250.7L670.3 249.9L669.2 250.2L668.1 251.4L666 250.9L664.2 250.6L662.7 250.4L661.4 251.4M669.5 253.9L668.4 254.7L666.3 255.3L665 254.3M662.2 266.1L662.7 264.2L662.4 262.4L663.8 260.8L665.2 261.1M660.5 265.5L661.4 267.3L661.3 269.3L662.3 270.6L662.7 272.1L663.7 273.7L664 275M668.4 257.8L669.6 257.6L671.6 257.6L672.2 255.5M670.1 270.2L670.8 269L671.2 267.2L672.2 265.7L674.5 265.4L676 266.2L677.6 267.8L679.4 268.6M672.9 248.3L672.2 250.4L671 250.7L670 251.3L668.2 250.3M667.9 261.2L666 261.5L665 261.9L664.3 263.1M660.8 272.4L659.4 273.9L657.9 275L655.9 275.7L654.2 276.7M662.1 262.5L660.3 263.8L658.5 263.2L656.9 263.9L655.5 264.5L655.8 266.3L658.3 266.6L658.5 267.8M683.9 268.6L682.8 269.6L681.6 271.6L680.9 272.8L679.1 273.7L678.1 273.7L676.6 274.8M660.7 270.1L662.4 269.7L663.2 268.2L663.5 266.3L662.6 264.9L661.9 262.7L661.7 261.3L662.8 259.2M665.8 267.1L667.1 267.4L667.4 268.4L668.4 270.5L669.4 271.7M653.1 259.2L654.3 261.5L656.1 261.6L658.2 261.8L658.8 260.8L659.9 259.4L659.6 258.1L661.1 256.1M672 262.1L672.2 260.5L672.2 259.2L671.5 258.2L670 257.5L667.5 257.3L666.2 258.6M687.9 261.9L689 260.8L690.2 259.6L689.3 258.5L690 257.3L691.2 256.1L691.1 254.8M670.1 257.1L669.3 258.2L669.9 259.6L671.3 260.3L672.9 259.4L673.2 257.9M663.4 262.2L665 262.2L666.2 261.5L666.6 259.6L667.1 257.7M684 257.5L685 255.3L685.5 253.7L687.9 253.4M658.1 261.6L656.2 261.5L654.4 262.5L653.4 263.8L654.4 264.5L656.6 264.4M681.6 252.9L683.3 251.7L685 250.7L686.8 249.2L688.4 247.4L689.4 246.2M661.7 264.9L663 264.2L664.4 262.8L665.9 262.1L667 262.8L668.5 262L669.6 260.1L669.6 258M665.4 259.5L666.2 261.6L665.2 262.5L666.1 263.8L666.5 265.6M672.9 261.8L670.6 261.1L669 261L667.6 262.8L666.4 264.8L664.8 265.6L663.8 266.3L661.9 266M667 252.2L667.4 253.7L667.6 255.6L666.4 257.3L667.2 259.4L667.8 261.2M668.1 257.3L669.1 255.8L668 254.2L669.3 252.1L670.2 250.7M665.2 267.9L666 266.5L666.2 264.9L665.1 263.1L663.9 261.5L661.7 261L660.8 261.7L658.9 262.3M655 257.7L656.8 257.6L657.7 256.6L657 255.5L657.8 253.6L658.8 252.2L659.3 250.1L659.2 248.3M669.4 259.8L667.4 258.7L667.1 256.4L669 255.1M651.2 265.5L653.6 265.3L654.7 263.5L654.8 261.7L653.6 260.2L653.8 258.9L656.1 258.1M681.1 259.2L680.3 258.1L678.2 257.8L677.1 258.5L676.7 260L676 261.7M669.9 273L672.1 272.8L673.3 273.8L675.5 273.5L677.3 274.8L679.5 273.6M683 249.6L681.1 249.3L679.9 250.1L678.2 249.5L678.2 247.7M681.4 266L682.2 267.1L682.3 268.8L683 270.7L682 272.5M648.9 273.5L650.8 273.1L651.9 271.8L651.9 270.3L651.7 268.7L652.2 267.2L652.9 265M667.3 261.6L667.1 263.3L669.5 264.3L671.4 263.8L672.8 262.8L673.6 261L673.4 258.9M658.9 276.2L657.3 275.9L656.3 274.8L655 275.1L653 275.5L653 277.2M668.6 257L667.9 255.9L668 253.5L668.7 251.6L668.4 250.2L670.1 249.6L670.5 248L671.1 246.6M667.8 264.6L668.8 263L669 261.7L670.5 260.3L672.7 259.8L674.1 260.7M676.1 261.9L673.6 261.9L672.4 262L671.1 263.6L669.9 264.7L667.3 264.2M663.6 261.7L664.9 260.4L665.6 258.8L667.3 258.5L669.4 259.9L671.4 259.1M680 254.6L678.3 254.6L677.2 254.5L676 255M671.6 260.4L671.5 259.2L670.5 257L670.1 255.6L671.2 253.8M658.6 255.3L658.2 257.1L658.1 258.6L660 259.7M665 255.7L667 254.9L668.3 255.7L668.3 256.9L666.7 257.9L664.7 256.4M663 252.6L661.8 253.7L660.1 254.6L659.8 255.8L659.2 256.8L659.8 258.2L662.2 258.2L663.7 257.7M671.2 261.6L671.8 259.6L674 259.2L675.8 259.7L678.2 259.9L679 258M655.3 263.2L654.9 265.4L653.4 265.5L652.5 263.5M669.1 256.3L671.2 256.4L672.7 257.3L674.9 257.4L676 255.3L677.3 255.5M681 264.5L679.2 265.2L679.2 266.7L680.6 267.6M666.8 271.4L666.2 273.3L667 275.2L665.6 275.9L664.6 275.7L663.1 274.5M665.8 262.9L664.3 264.1L663.1 264.1L661.5 263.4L660.4 262.2L659.4 260.4L658.2 259.2L656.9 260.6M663.4 270.1L661.7 268.5L660.7 269.2L658.8 269.5L657.8 269.3L655.9 267.9L655.5 266.2M659.5 259.2L659.6 261.6L658.9 262.9L658.5 265.3L659.9 266.7M674.5 260.1L674.5 261.9L676.2 262.8L676 264.8M658.6 250.2L656.7 250.1L654.2 250.1L651.9 251L652.1 253L653.5 253.7M676.7 254.2L679.1 254.5L680.2 254.4L681.9 252.8L683 251.4L684.8 251.2L686 251.5M657.1 263.7L658.5 263.7L659.4 262.4L661.5 262.7L662.8 262.3L664.7 261.3M670.2 260.9L669.4 262.4L670.2 264.4L671.6 265.6L673.4 265.5L674.6 264.3L676.3 263.7M665.2 268.4L663.4 268.2L662.2 269.4L662.7 271.3L664.9 272M666.9 262.5L667.4 260.5L668.3 259.5L669.9 259L671.4 258.1L672.6 256.2M667 270.7L668.8 271.6L669.5 273.6L668.1 275L668 276.5L665.8 277.1L663.8 276.3M655.2 273L654.1 273.3L652.9 274.3L650.5 274L649 274.5L648.7 275.8M671.7 261.9L670.3 261.8L669.5 259.7L668.3 259.9L667 261.5L667 262.9L666.4 263.8L665.5 264.9M652.8 266.7L651.8 264.8L652.2 263.7L650.4 262.8L649.3 262.3L647.9 263.3L646.5 262.8L644.5 262.9M661.2 259.9L662 257.5L664.2 256.9L665.8 257.9L667.3 256.9L668.5 255.8L670.6 255.6L672.1 256.1M679.7 268.7L678.7 270.1L676.9 271.1L675.8 270.6L674.8 269.7L673.1 270.9L672.2 269.6L670.4 268.8M696.7 247.6L697.1 249.1L697.6 250.7L695.8 252.2M670.9 263.1L669.9 264.6L670.8 266.5L672.1 267.3L674.4 267.7L675.2 269.3M684 266.9L685.4 267.9L687.2 268L688.1 267.5L689.5 268L691.1 267L692.1 265.4L692.6 263.8M682.1 260.7L680.8 260.2L678.6 260.8L677.9 259L678.7 257.1L678.5 255.3L676.8 254.6L675.8 256.3M668.8 266L670.5 264.4L673 264.4L673.7 266.3L675.9 266.8L677 267.8L678.9 268.6M659.7 270.3L660.7 272L661.8 272.6L662.8 271.7L662.9 270.4L662.7 269.4M665.9 263.8L666.1 264.8L667 266L668 267.3L667.3 269.3L665 269.5L662.8 270.5L661 270.2M664.5 255.2L665 252.8L666.8 252.1L668 251.7M662.6 258.1L663.2 256.6L663.7 254.3L664.6 253.1L663.9 251.9L663.1 250.7L662.8 249M665 262.4L665.4 260.1L666.5 259.6L666.6 258.2L665.9 257L664.9 256L663.4 256.6M676.1 258.9L676.4 260.3L675 262.1L673.3 263.8L673.5 264.9L675 265.4L675.6 266.6M654 272.8L651.6 273.3L649.2 273.4L647.8 274.7L648.6 276L648.8 277.9L648.4 279M662.8 257.9L664.3 258.2L665.3 257.9L666.3 255.8M668.5 258.4L670.7 258.8L672.5 259.2L674.6 258.8L676 258.7L678 257.5M645 272.1L643.4 272.5L642.3 273.6L641 272.5L640.2 271.1L637.8 271.1L636.3 271.5M675.6 254.2L674.3 253.8L673.8 255.5L671.6 256.8M678.4 253.5L679.8 254.4L680.7 256.6L679 257.8M674.2 253.5L672.5 253.2L671.3 251.9L669.8 252.2M655.7 271L655.4 273.3L653.5 274.2L651.3 274.9L650.9 276.5M677.2 249.8L678.5 250.6L678.5 252.5L680.2 253.1L681.7 252.4L683.1 252.7L683.9 251.3M656.6 263.1L658.4 263L659.7 263L660.4 264.2M671 257.8L672.7 257L673.6 256.3L674.8 254.5M670.1 260.2L669.5 262.2L669.3 263.5L667.4 263.7M693 253.8L694.9 253.8L696 252.4L697.2 251.6L697.9 250.5L698 248.2M658.7 257L660 257.4L661 257.6L661.3 259.5L660 260.6L659.1 262.2M659.8 261.9L658.6 260.4L656.6 260.6L655.7 259.2L653.7 259.2L652.4 259.6L652.3 260.9L653 263.2M657.6 265.3L657.5 266.4L655.5 267.1L655.7 268.7L654.7 271M686.6 261.3L685.3 262.4L685.4 264.5L686.6 265.3L687.9 266.2M676.2 263L676.9 261.9L676.7 259.4L675.4 258.7L675.3 257.3L676.1 255.8L677.9 255.3L680.2 254.9M667.9 263L668.2 260.9L668.2 259.2L669 257.6L669.5 256L670.7 254.8M693.1 258.6L693.1 256.9L693.7 254.5L695.4 254.2L696.8 253.3L697.2 252.2M662.3 257L660.6 256.3L659.2 256.4L657.7 258.4L656.2 258.8L655.7 261.2M662.8 267.1L664.2 269.2L665.7 269.2L666.9 270.4L667.5 271.4L669.8 271.1M675.9 264.4L677.8 264L679.5 264.8L679.7 266.2L682 266.8L682.7 268.3L684.3 270L685.6 271.1M674.9 273.5L675.9 273.9L676.1 275.5L676.8 277.6M664.8 260.5L663.2 258.9L663 257.8L662.9 256L662.1 254.8M663.9 257.8L663 256.8L662.8 254.4L661.9 253.3M677.9 264.9L680.3 265.1L682.3 265.3L684.1 266.3L685.5 264.7M673.8 261L674.5 259.9L676.2 258.4L677.2 257.9M675.6 259L674.7 260.3L675.9 261.4L676.5 262.9L676.4 264.2M672.9 258.5L673.8 260.3L675.9 260.3L677.8 260.7L678.6 259.8L679.8 258.7M676.8 260.6L678.1 260.5L678.7 261.9L677.1 263.2L677.7 265.3L679.1 266.6L680.9 267.3L683.1 267.6M657.8 265L659 263.8L660.9 264.8L660.6 266.9L659.3 267.1M656 255.3L655 253.1L652.6 252.7L651.1 251.9L649.3 251.5L647.1 250.9L646.5 249.9M667.2 261.6L667.8 259.6L666.6 257.9L665.8 255.6L665.3 254.5L664.1 253.1L663.3 251.8L661.7 251.8M670.8 261.1L669.7 261.3L668.6 262.7L667.4 264.3L666.2 265.4L666 267.3L665.2 269.1M670.8 274.6L669.3 273.7L667.7 272.6L665.5 272.5L664.3 271.9L663.2 272.5L661.7 273.7L660.1 273.1M681.3 258.5L679.7 259.1L678.6 260L679 261.8L680.5 261.8L682 262L683.8 261.4L684.4 260.5M671.9 258.7L670.8 260.5L669.5 261.4L668.3 261.7L667 261.2L666.7 259.4L667.1 257.3L669.1 257.2M656.7 258.8L655.7 258L654.1 257.9L652 257.5M662.4 256.1L662.1 254.5L662.6 253.2L663.7 252M667.4 260.8L668.7 260.9L670.3 262.1L671.7 262.5L673.3 264L675.7 264.6L678.1 263.9M686.3 254.9L686.8 256L688.8 256.3L689.9 257.5L689.1 259L688.7 261.4M665 273.3L665.8 272.1L666.7 271L667.1 268.8L667.8 266.4L669.2 266.1L670 267.3L669.7 268.5M659.9 263L658.3 262.3L657.2 263.2L656.3 262.2L656.8 261.2L657.2 258.9M681.3 258.3L681.2 256.2L681.5 254.1L680.8 252.8L679.8 253.4M663.6 263.9L664.9 265.9L665.3 266.9L664 268.5L661.7 268.9L661.7 270.3L663 271.3M662 265.3L663 266.3L664.3 267.7L664.9 269.9L663.1 270.7L663 272.6M635.7 260.5L634.4 260.2L631.9 259.9L631.1 258.7L631 256.8M671.9 266.5L673.3 267.5L674.4 266.4L674.1 264.3L673.3 262.7M670 269.8L669 268.4L666.9 267.8L665.1 268.5L664 269.2M679.9 253.9L679.1 254.7L678 256.1L678.9 257.5L679.9 257L680.6 255.8L681.7 254.8M654.8 265.2L654.8 267.6L653.5 268.1L653.3 270.4L652.3 271.7L651.3 272.3L650.3 271.1M664.2 258.5L666.3 258.6L667.1 260L667.6 261.8L667.7 263.8M684.3 253.1L686.7 253.4L687.9 252L688.2 249.6L687.3 248.5M667.4 260.6L668.1 258.3L667 257.1L666.6 255.2M655.4 271.9L655.1 274L654.1 275.3L653.8 276.8L654.1 278.3L654.8 279.3L655.6 280.3L655.1 282M662.6 274.2L663.8 272.7L664.1 271.1L663.3 269.4L665 267.8L665.4 266.2L666 264.9L667.1 263M656.5 263.2L657.1 264.5L657.3 266.9L658.2 268L659.8 268.5L660.7 267.2L662.5 267.5M679.7 251.6L678.8 249.4L678.6 248.3L679 246.3M670.8 267.8L673.1 268.8L673.9 270.2L673.4 271.5L673.8 273.9L674.3 275.1L676.2 275.9L677.6 275.2M661.9 254.4L662.5 251.9L664.6 250.9L665.3 250L667.4 249.3M678.7 253.7L677.4 254.5L676.3 255.4L676.6 257.5L677.8 259.2M681.1 263.8L681.9 262.9L682.4 261.8L682 260.3L681.8 258.7L683.6 257.7L683.9 255.8M657.5 259L656.4 258.4L655.6 259.8L653.7 260L651.9 259.3L651.8 258.1L650.8 257.5M665.5 264.4L667.6 265L668.9 264.4L669.1 262.4L668.2 261L667.1 260.1M657.6 264.7L657.1 262.7L658.2 260.9L659.6 260.9M664.5 260.3L665.6 260L666.7 259.1L667.7 260.2L669 262L670.2 262.9M677.7 263.3L677.4 260.9L677.5 258.3L679.2 256.8L679.2 254.9L677.4 254.3L676.5 253L676.1 251.4M685.3 244.8L685.2 246.7L686 248.4L685.9 250.5L685 252.1L684.6 253.6M684.5 252.8L683.3 254.3L683.3 255.8L682.3 257.5L682.9 260L684.6 260.6L685.9 259.8M665 255.9L663.2 255.1L662.7 253.8L661.6 251.5M684 260.5L683.7 261.6L683.4 263.5L682 264M658.1 257.1L659.4 256.7L660.9 256.3L662 255.3L663.4 253.8L664.6 254L666.1 254.3L667.8 252.6M682.7 261.4L681 262.6L680.1 264L679 263.6L677.7 264.5L677.9 266.4M668 256.3L668 258.4L669.3 258.7L670.2 257.3L672.1 257.3L673.3 256.2M668.3 263.8L668.8 262.8L670.1 261.2L671.4 261.2L673.1 261.6L673.3 263.6L675.7 264.3M660.6 261L661.4 259.1L662.6 258L662.4 255.6M660.8 261.7L658.9 262.6L659.3 263.9L660.6 265.4L661.6 266L663.6 265.9L664.3 264.3M688.5 255.1L688.6 253.5L688.3 251.5L687.4 249.5L687.8 247.2L687.6 245.8L687 243.9M676.1 257.7L673.6 258.1L671.8 257.9L670.6 257.9M657.2 252.8L658.5 252L659.2 249.9L659.5 248.3L658 246.9L656.3 246.6L654.6 247.1M669 264.8L667.4 265.2L666.4 266.8L667.1 268.2L668.1 269.2L669.7 268.9L670.2 267.7L671 265.6M664.8 251.5L663.6 251.9L662.9 253.3L662.6 255.2L663.5 256.6L662.5 257.4L661.9 259.4M676.8 261.5L677.7 260.4L679.3 260.1L679.3 258.2L679.9 256.4L680.6 255.1L681.8 253.7L683.3 252.7M676.2 255.3L674.6 254.8L673.9 256.6L672.8 256.4M674.8 254.7L676.1 256.6L677.5 258.5L676.3 259.5L675.1 261.5L673.3 262.9L673.1 264M670.1 264.2L671.1 262.8L670.7 261.8L671.1 259.8M669.1 259.6L669.6 261.7L671.4 261.7L672.5 259.4L671.6 258.2L670.9 256.3M659.3 275.6L660.4 277.4L660.7 279.8L659.5 280.6L659.2 282.2L657.3 282.8L657 284.9M665.1 266.2L666.5 266.1L667.6 267.4L668.2 268.9M669.3 259.5L667.9 259.2L666.9 260.1L665.3 260M666.1 262.5L666.7 263.9L668.1 265L669.4 266L671.7 267L672.2 269.5L670.5 271L669 272.5M663.3 261.7L664.6 260.8L666.4 260.5L668.3 259.8L668.7 257.5L669.8 256.8L672 256.7L672.9 257.5M658.8 265.3L658.6 267L659.3 268.1L660.5 269.3L662.1 270.7L661.8 273L662.5 274.5M657.7 259.2L657.6 260.3L658.8 262.2L660.2 261.9L662.3 262.6L664.5 261.3M664.4 257.1L665.9 255.6L668 255.1L669.3 254L670.4 253.6L672 253.9L674 253.2L675.5 254M659.3 268.6L661.5 267.7L663.6 267.6L665.4 267.1M681.4 253.3L682.6 253.2L684.2 254L683.1 256.1L684.3 258.1L684.6 260.4L684.3 261.6M667 265.6L669.5 265.9L670.6 266.3L671.7 266.9M672.5 255.5L673.4 253.3L674.5 252.6L676.5 252.7L678.7 253.3L678.7 255.8L679 257.2L680.6 258.5M668 270.4L668.7 271.5L669.2 272.5L669.2 274.4L669.9 276L671.3 277.2M676.2 254L674.6 253.8L673.3 252.1L672.4 250.1L671.2 250L669.6 248.3M677.8 265.3L676.5 264.4L676.9 262.8L678.9 262.4L679 260.6L678.8 258.1L678.9 255.9L680.4 254.6" fill="none" stroke="#4c4c80" stroke-width="0.6" stroke-linecap="round" stroke-linejoin="round" opacity="0.9"/>
<path d="M656.5 266.2L654.8 265.2L654.2 263.4L653.4 262.8L653.5 261.4M672.5 265.9L672.3 267.2L671.5 267.7L670.2 267.2L670.8 266.2L670.9 264.9L671.3 263.3L670.5 261.9M661.9 266.2L660.9 264.9L659.8 265.3L658.4 266.7L657.8 267.8L657.8 269.4L657.1 270.5M669.7 260.9L670.3 259.5L671.3 259.1L672.2 257.9L673.6 256.9L674.3 255.6L676 255M677.9 259.1L676.3 260.1L676.5 261.9L677.2 262.6L678.8 262.1M678.5 259.2L679.3 260.3L681.2 260.5L682.5 260.7L684.3 260.7L685.2 261.1M675.3 255.9L673.8 255.6L673.3 257L673.4 258.1L673.5 259.7M662.3 254.7L662.6 256.7L661.7 257.8L661.2 259.4M682 258.9L683.9 259.6L684.4 260.5L685.3 262M663.4 258.9L661.7 258.8L660.8 258.5L659.9 259.9M666.3 259.3L666.9 260.3L667.8 261.4L669 261.7L669.1 263L669.9 264L672 264.1M666.3 260.4L664.5 260.7L663.7 259.8L662 259.2L660.7 258.9L659.4 259.7L658.5 259.7L657.6 258.8M653.6 267.1L655.5 266.7L656.6 267.7L656.2 269L657.4 270.4L658.3 271.6L658.6 273M663.1 266.1L663 267.3L661.5 267.6L659.8 266.5L658 266.2M681.1 264.5L683 263.8L682.9 262.7L681.5 261.3L682.3 259.8M687.3 258L686.3 259L684.4 259.6L683 259.6L681.6 260.1L680.4 259.5L678.5 259.1M680.5 257.1L679.5 256.4L679.8 255.3L679.9 253.3L680.7 252.6L682.8 252.2L684.8 252.6M658.3 261.9L658.6 260.2L660.4 259.6L661.7 259.5L663 261M671.6 262.7L670.8 262.3L669.1 261.7L668.3 260.6L669.1 259.2M673.9 265.7L673.1 266.6L671.6 267.8L670.8 268.8L669.9 268.2L668.6 267.9M663 261.4L662.6 262.6L662.4 263.7L662.5 265L663.1 266.9L664.1 267.9M661.1 266.9L661.4 264.9L660.5 264.2L658.7 263.7M681 261L681 262.7L681.2 264.1L680 264.9L678.9 266.3L678.8 268.2M656 265.4L654.8 265.1L654.4 263.8L656.1 263.2L657.5 263.6L658.8 263.3M672.7 261.5L673.4 262.9L673.9 263.8L675.7 264.4L676.7 265.4M673.3 254.5L673.4 256.4L674.5 258L676.1 257.8L677.6 258.9M667 262.7L666.3 261.6L666.8 259.7L668.7 259.7L669.1 258.4L668.4 257.6M664.8 260.2L664.5 262L664.1 263.8L662.5 264.3L661.9 265.1L663.1 266M664.5 261.8L665.3 260L665.5 258L664.6 257.4L663.4 257.1L662.5 257.5L661.5 256.8L661.4 255.5M661.6 261.4L660.5 262.5L658.7 261.8L658.6 259.7M675.8 261.2L676.6 262.4L677.8 264L677.1 265.1L677.8 266.2M663.5 268.1L664.9 268.5L665.7 268.1L667.6 267.2L669.2 266.6L671 267.3M674.5 255.5L673 254.2L671.4 254.6L670.9 255.8L669.4 255.7M656.3 258.3L656.5 259.3L656.5 260.6L656.2 261.8L655.1 263.2L655.2 265.3L654.8 266.9L656.3 268M672.2 259.8L671.6 261.3L671.9 262.9L670.8 264L671.4 265.3L672.1 267L671.5 268.6L670.9 269.3M659.8 263.6L657.8 263.2L656.9 262.8L655 263.3M676.2 260.4L676.5 258.6L676.4 257.3L677.9 256.6L678.8 257M673.6 254.5L671.4 254.2L669.7 254.8L668.6 256.1L669.2 256.7L671.3 257.1M679.1 252.4L678.2 252.8L677.5 254.4L675.7 254.9L674.6 255.6L673.4 255.6L671.7 256.1M670.9 262.4L672.1 262.9L673.1 262.6L673.2 261.5L672.3 260.6L672.5 258.9L670.6 258.5L669.2 259.7M667.8 261.4L667.4 262.7L668.5 264.5L669.4 265.5M657.9 260.5L658.2 261.9L659.1 262.3L660.2 260.9M660.3 255L660.7 256.3L662.1 257L663.8 256.1L665.1 255.6L666.3 254.5L666.9 253.3M672.8 262.7L673.7 264L675.2 264.1L676 264.7L677.7 264.5L679.7 264.5L680.9 263.6M663.8 264.2L664.8 263.2L664.5 262.1L665.7 260.9L666.2 258.8L666.2 257.5M676.5 258.2L677.6 256.8L679.1 256.9L679.9 255.4L679.1 254.5L678 253.8L676.5 252.9L675.6 253.1M679.4 262.5L678.5 261.8L677.5 261.7L676.2 260.5L676.5 259.5L676 258M679 264.6L678 263.3L676.6 262.7L675.4 262.7L674.3 263.8L675.1 265M655.6 260.8L655.8 262.5L656.4 263.2L655.2 264.4L654.1 265.6L654.4 266.7L654.3 268.7M664.1 261.6L665.7 261.7L666.3 263L665.5 264.1L663.9 264.2L662.7 263.6M649.7 268.8L650.6 266.8L649.5 266.1L648.5 265.8L647.2 266L645.4 265.6M659 266.5L660.3 267.4L660.9 268.9L660.4 270.8L660.7 272.8M668.8 263.9L670.7 264.1L671.5 264.8L672.1 266.4L673.6 266.6L675.4 266.2L677 267L677.2 268.4M665.8 258.8L664 258.6L663 257.1L661.1 257.9L660.7 259.3L659.4 260M682.6 256L682.7 257.6L682.9 258.8L682.9 259.7L681.1 260.4L679.5 259.6L679.1 258L678.1 256.8M664.2 258.7L663.4 257.3L662.1 256.3L660.7 256.9L659.5 256.9L658.4 257.8M683 254.5L683.6 252.9L684.5 251.2L686.3 250.9L688.4 251L689 250.1L690.2 250.2M669.1 260.8L667.5 259.5L666.7 258.7L667.4 257.8L668.7 257.2L669.9 256.3L669.7 254.6L669.4 253.2M677.3 257.5L676.5 256.7L675.4 255.5L674.3 254.4L672.4 254.8L670.7 254.8L669.7 255.9M670.7 264.4L670.1 265.5L668.5 265.7L668 264.6M664.7 258L665 256.2L665.5 254.8L664.3 253.8M649 263.6L648.2 265.4L646.4 265.1L644.5 265.2M679.5 259.3L678.5 258.3L676.8 259L675.2 259L673.5 259.6L673.3 261.1M679.8 262.7L681 263.5L682.6 265L684.3 265.4L685.7 264.6L687.1 265.5L689 266.3M669.6 262.5L669.5 263.8L669 265L668.1 266L667.8 267.9L666.8 268.4L665.7 268L664 268.5M678.1 256.8L677 256.5L675.8 255.8L676 254.4L676.4 253.1L676.9 252M673.8 271.2L673.1 272.4L672.1 271.8L670.6 271.9M666.5 262L665.8 263.2L666.3 264.9L667.9 265.7L668.7 267M672 262.2L673 261.2L674.5 261.2L675.6 262.3L677.3 262.8L677.6 263.9M678.6 265.5L676.9 266.5L675.1 265.6L675.1 264.1L676.3 263.6M688.2 258.2L689.9 257.6L690.9 257.9L692.1 257L691.7 256.1L690.6 254.7M668.9 257.3L668.7 258.6L668.2 259.4L669 260.9L668.1 262.2M658.4 271.1L659.5 269.8L659.4 267.7L658.4 266.4L658.4 264.4L657.8 263.7L656.7 262.9M666.6 260.1L667.2 259.3L668.1 258L668.7 257.1L670.6 257.5L671.8 256.6M663.7 260.8L662.3 262.1L660.3 262.4L658.9 261.3M658 265.1L657.3 264.1L656.2 264.2L655 263.3L654.2 262.7M670.5 262.7L670 263.5L670.8 264.6L672.2 265.8L671.7 267.7L671.3 269.2L670.4 271.2M670.8 260.2L672.3 260.7L674.3 260.5L676.3 260.7L676.7 262.1M666.9 267.5L665.8 268.3L666.2 270.1L665.7 271.8L666.7 272.5L668.3 272.3M662.2 265.6L662 264.4L660.7 263.8L659.8 264.6L659.8 265.9L659.9 267.4M667.5 261.9L666.7 262.4L666.7 263.9L665.2 265.3L664.8 266.7L663.7 267.7M667.8 266.3L666.1 266.4L664.6 264.9L662.5 265L661.4 264.9M659.5 266.9L661 267.9L662 269L662.2 270.5L661.9 271.6L662.7 272.6L663.3 273.4L663.5 275.3M661.1 264.3L659.2 263.5L658.1 263.4L657.1 265.2L656.9 267.2L657.6 269M676.5 260.4L675.7 262.1L674.6 263.6L673.6 263.5L672.7 264.3L671.1 264.9L670.2 263.9M664.3 257.8L665.3 256.8L664.7 255.8L664.3 254.9M685 254L687 254.1L687.5 255.8L687.4 257.7L687.2 259.3L688.2 260.6M676.3 256.4L677.3 256.3L678 254.8L678.4 252.8L678.3 251.2L677.2 250.5L677.2 249.4L677.9 248.7M662.4 262.6L661.5 262.2L661 260.3L661.4 259.4L661.5 257.7L659.7 257.4M676.9 258.5L679 258.7L679.6 257.7L679.5 255.6L678.9 253.6L678.4 251.7L678.5 249.8M669 263.7L670.2 264.2L671.4 264.9L672.3 263.9L673.4 263.2L674.4 264.1M663.3 269.2L664.3 270.6L665.1 271.7L666.3 272.5L666.5 274.3L665 274.9L664.3 273.6L663 273.7M686.3 261.1L687.4 260.1L686.7 258.3L685.8 256.8M666.5 264.7L665.8 266L664.4 266.7L663.4 266.6L661.4 265.9M677.1 253.5L678.4 252.7L678.7 251.1L678.8 249.4L680.8 249.1L682.1 248.3M665.1 264.6L663.2 263.8L661.4 262.9L660.8 261.7L659 261.8L658.6 263L658.1 264.5M671.5 260.1L670.5 259.2L670.4 257.5L670.7 256L670.2 254.8L668.7 253.5L667.8 252.7M670.1 260.4L670.7 261.7L672.2 261.8L674 261.4M668.4 262.3L668.3 263.9L667.7 264.8L665.6 265M681.6 262.7L682.5 263.2L682.8 265.2L682.4 266.4M675.3 260.8L675.2 262.3L674.5 263.9L673.1 265L672.5 265.8M670.3 263.4L670.8 265.3L672.1 266.2L673.1 266.4L674.3 266.6L675.6 265.4M671.4 258.7L669.8 258.9L668.7 259.6L667 258.8L667 256.8M667.3 261.5L666.1 262.2L665.4 264.2L665 265.1L666 266.4L666.3 267.6M663.3 265.8L664.2 264.2L664.4 262.2L664.1 260.5L665.4 259.7L665.7 258.4M672.2 265.7L671.9 267.1L670.1 267.4L668.3 266.9L667.9 265.5L666.6 264.5M658.5 270.5L660.4 270.1L660.8 268.8L662.4 268.9L663.6 269.6L664.5 271L665.3 271.7L666.6 271.2M671.8 259.2L671.4 258.1L670.2 257.2L670.1 255.5L671.3 254.7L672.9 254.8M667.6 265.7L668.1 264.2L668 262.5L669.2 261.4L669.6 260.3L670.5 258.6L671.9 258M682.9 257.4L682.2 258.5L682.8 259.6L683.8 260.4L685.1 260L685.9 259.4M674.5 256.2L673.4 255.7L672.1 255.9L670.3 255.6L668.7 255.2L668.3 253.2L668.1 251.4L669.1 250.4M662.7 260.2L662.3 261.6L661 262L660.2 263.4L661 264.1L661.8 264.9L664 264.4L664.1 263.4M669.7 256.7L668.9 255.8L668.1 255L666.3 254.6L664.6 254.8L663.2 253.4L663.7 251.6M662.9 263.6L664.3 263.5L665 265.1L666.1 265.6M675.9 256.6L678 257L679.6 257.2L681 257.8L682.1 258.4M675.2 265.6L677.1 265.9L678.6 265.3L679.6 265.9L681.7 265.7M674.7 261.8L674 262.6L672.2 263.2L671.1 262.3L669.3 261.6L667.7 260.8L666.1 260.5L665.3 259.3M663.8 260.1L664 261.8L663 262.3L661.4 261.4M671.1 262.3L673.2 262.7L673.6 264.7L674.5 265.6L674.2 267.5L674.8 269.5L675.6 271.3M671.1 266.8L671 268.1L671.4 269.9L670.7 271.1M671.2 255.3L672.2 254.4L673.1 254.8L674.5 254.8L676.3 254.4L677.6 255.9L677.2 256.9L677.9 258.2M658.6 264L659.7 265.1L658.6 266.4L657.2 267.7L656.8 269L654.9 269.6L653.6 270.6M659.4 265.9L659.8 267.3L660.4 268.3L662.5 268.4L664.6 268.6M660.1 259.4L661.3 258.1L662.4 258.1L664.4 258.2L665 259.4L666.2 259.3M669.1 263.6L669.3 262.2L667.7 261.7L667.7 260.2M661.2 261L660.2 260.3L659.5 259.4L659 258.1M666.1 261.2L665.6 260.1L663.8 258.9L663 257.7M687.1 252.3L688.5 251.2L689 249.8L690.4 250.1L691.6 249.3M648.3 266.8L648.2 268.6L646.9 269.4L646.2 270.8L644.5 270.8L643.5 271.8M665.2 266.3L663.5 266.5L662.7 264.9L662.9 263.4M672 261L671.5 259.3L669.9 258.9L668.4 259.5L666.7 259.3L666 260.1L665.5 261.2L666 262.3M670.1 259.9L668.3 260.3L667.2 259.5L666.4 260.4L664.6 260L663.6 258.5L664.2 256.6M669.2 262.6L669.2 261.1L670.4 259.3L670.9 257.7M659.7 267.7L658.1 266.7L656.3 267.8L655.1 267L654.4 268.5L652.5 269.3L650.9 270M661.4 262.9L661.4 265.1L660.1 266L658.3 265.4L657.2 264.6L656.2 263.6L654.1 263.7M676.6 262.6L677.4 262.1L677.5 260.4L677.8 259.1L677.2 257.8L675.4 257.3M679.9 262.2L680.7 261.6L682.1 262L683.2 263.5L682.5 265L683.3 266M676.8 259.2L677.1 257.4L675.7 256.9L675.9 255.4M669.9 261.8L668.3 261.9L666.8 260.9L666.8 259.8L667.6 258.2L668.2 257.3L669.7 256L670.7 254.8M673.8 254.1L671.9 254.3L671.2 256.2L669.4 256.1L668.6 254.9L669.1 253.3M681.6 254.4L683 254.9L684.7 254.9L685.5 256.5L685.3 258.3M675.4 267.4L674.7 268.9L675 270.4L675.9 270.6L677.1 271.4L677.4 273.1L678.2 274.1M686.6 257.7L688.5 257.5L688.9 256.2L690.1 255.8L691.5 255.1M666 267.2L664.7 267.6L663.4 266.8L662.1 268.1L661.2 268M676 254.3L676.8 255.1L678.7 255.4L679.5 256.1L681.3 256.3L682.5 256.7L684.2 257L684.4 258.9M656.8 264.1L655.9 262.8L656.5 261.6L657.8 261.9L659.9 261.4L661 260.5L662.1 259.5M666.1 267L667.6 266.7L668.3 268.3L668.5 270.3L668.2 271.5L668 273.4M675.4 257.9L674.5 259.6L673.5 259.4L673 260.3L671.5 260.3L670 260.9M673.2 261.6L672.2 261.3L671.9 259.8L672.7 258.5L673.2 256.7L674.3 256.2M672.5 259.5L673.9 259.4L674.9 257.8L676.7 257.3L676.8 256.3L676.6 254.5M658.8 254.8L657.6 256.5L657.3 257.7L657.6 258.7M675.9 264L675.1 263.4L676 262.1L675.3 260.8L674.2 261L673.2 260.9L672.4 259.9M666.1 255.5L667.6 254.6L668.3 253.1L669.6 253L670.7 252.6L671.2 251.1M668.9 264L668.4 263L668.1 261.6L668.5 260.2L669.8 259.8L671.6 260.7L671.9 261.9L671.1 263.1M660.5 266.2L659.8 267.6L659 268.9L659.5 270L659 271.8L658 272.2L657.5 274.1L656.8 275.2M673.2 264.6L672.1 264.3L672.1 262.9L672.8 262.1L674.8 261.8L676.5 261.6L677.1 262.4L676.7 264.2M677.4 259.1L676.7 260.3L676.4 262.2L675.4 263.6L676 264.4L677.5 265.2L679.1 264.9L680.9 265M672.5 258.3L671.5 258.6L671 259.7L670.4 261L668.9 260.8M672.9 266.7L672 265.1L671.4 263.9L671.9 262.5L673.7 261.9L674.4 260.7L674.5 259.7L674 258.3M674.8 265.7L675.8 264.5L674.9 263.4L673.3 263.3L672.5 264L670.8 265M666.3 258.7L665.2 258.2L663.9 257L663.1 255.7L661.3 255M674 258.1L672.9 257.6L671.3 256.3L670.4 255.8M667.7 258.2L668.6 256.9L669.9 256L671.4 256.1L672.1 255.3L672.4 253.5L673.7 253L675.3 254.1M674.5 260L673.6 259.4L672.5 259.7L672.3 260.9L672.8 262.4L673.8 263L674.4 263.9L674.1 265.5M662.8 269.2L662.6 267.3L661.8 266L660.7 265.8M674.6 261.5L672.7 261L672.1 260.2L672.8 258.3M677 255.6L678.9 255.7L679.7 256.3L680.6 257.3L681.4 258.3L682.3 258.7L683.2 258.5M649.8 267.3L648.9 268.9L647.2 268.1L646.1 266.8L646.1 265.8M678.8 261.9L678.9 263L679.1 264.3L678.2 265.7L676.8 266.6M671.9 261.1L672.1 262.6L673.1 263.9L675.2 264.4M665.6 265.5L663.7 266.2L662.9 265.6L661.8 264.9M665.8 259.3L663.8 260L663.8 261L663.4 262M663.1 267.8L661.9 267.6L660.5 268.4L658.9 269.5L657.5 270M663.7 266.6L664.3 264.9L664.5 263.3L665 261.8M660.7 258L662.5 257.3L663.7 256.3L664.8 255.9L665.4 257.5M677.3 257.6L678 256.3L679.7 256L681.5 256.7L682.1 257.4M662.1 265.9L662.9 265.3L663.9 264.8L664 262.9L662.6 262.2M662.3 261L662.4 259.1L663.7 258.8L663.9 257.7L664.1 256.5M674.5 262.1L675.6 263L676.9 263.2L678.1 262.6M654.5 268.5L655 270.4L655.6 271.2L656.1 272.8L655 273.9L653.7 275.4L653.4 277.5M666.7 259.1L666.2 257.6L665.8 256.1L664 256L662.9 254.8L662.3 253.8L660.8 253.1L659.3 252.3M662.6 255.9L662.8 254.3L664 253.4L663.4 252L661.7 252.1L660 252.9L659.6 255L658.7 255.2M663.5 263.3L663.3 261.5L664 259.5L665.9 259.1M668.2 262.3L668.9 261L668.8 258.8L669.5 257.7L670.9 257.5L671.8 257.4L673.7 258.1M663.8 260.1L665.6 259.9L666.8 258.7L667.8 258L669 258.8M672.5 262.1L672 260.7L673 259.9L673.6 258.6L674 257L675.5 256.1M682.6 261.1L682.3 263L681 264.2L679.6 263.3M659.5 267.9L658.6 267.6L656.6 267.3L656 266M674.3 262L673.1 261.6L671.7 260.5L671 259M658.2 263.6L659.5 262.1L661.1 261.2L662.1 259.5L662.7 257.5L663.6 256.5L663.5 254.6M657.2 267.4L658.3 267.3L658.5 266L659.9 265.1L661.5 265.1L662.6 264.2L663.6 263.6M666.4 260.7L665.5 262.1L666.1 263.1L667.7 264.1L668.5 265M649.2 269.3L648.6 267.7L647.5 268.2L646.2 269.5L646.5 271.1L645.7 272.8L646.3 273.9M664 258.5L664 259.8L663.1 260.9L662.5 262L660.6 262.2L660.2 263.6M668.5 262.1L666.6 261.2L665 261.4L663.6 259.9L662.8 259M666.6 260.1L665.4 259L664.5 259L664 257.5L663 256.6L661.6 256.3M679.5 260.3L678.5 258.9L677.1 258.1L675.3 257.4L674.5 256.1M659.4 262.7L661.1 262.3L663 261.5L664 261.6L664.5 262.5M669.6 263.2L671.1 262L671.4 260.4L673.4 260L674.2 258.6M643.1 267.2L641.4 266.6L639.7 265.9L638.5 265.9M673.5 264.9L673.5 263.4L674.3 262.5L673.9 260.5L672.8 260.4L671.9 260L670.3 259M669.5 260.3L667.6 260.4L666.7 260.2L666.1 260.9L665.7 261.9M674.2 259.6L672.6 260.1L671.2 259.7L670.4 258.3L669.7 256.8M660.3 258.4L659.2 259.7L659.5 261.3L658.6 262.9L658.4 264.4L658.3 266.4L658.1 268.1M674.2 260.6L674.3 259.1L672.6 258.4L671 258.8L669.9 258.8L668.7 257.3L667.9 257.4L667.3 256.3M669 256.3L668.3 257.6L668.1 258.5L667.4 260.2M665.5 267.2L665.9 265.7L666.9 264.4L668.3 264M655.3 272.6L653.9 271.7L652.9 271.5L652.1 269.9L651.2 269.1L651.3 267.5L650.3 266.6L649.4 265.6M682.2 266.3L680.9 266.1L679.2 267L678.3 266.5L677.7 264.7L677 262.9L676.1 262.7M676 256.9L677.4 256.6L677.6 254.8L677.1 253.9L675.5 254M674.2 260.5L675.8 260.6L676.9 260.9L679 260.5M658.6 266.2L657.8 267.6L658 269.4L658.3 271.3L657.6 272.1L656.9 273.1L656.2 274.5L655.3 275.5M673.5 262.3L675 262.4L675.9 260.7L676.4 259M670.4 259.4L668.8 259.3L667.5 260.5L665.8 259.7L665.6 257.7L666.1 256L667.2 255M668 262.6L667.4 261.3L668.1 259.6L669 258.9L670.9 258.2L672.2 256.8M660.2 261.1L660.8 262.9L659.7 264L657.9 264.1L656.8 262.7M684.2 257.6L682.8 258.2L681.7 258.5L680.3 257.8L679.2 257.2M672.4 257.5L670.3 257.6L669.4 256.4L668.3 256.2L667.6 255.3L666.9 253.8M676.6 259.3L677.8 260.6L677.2 261.6L676.3 262.6L677.2 264.1M652.2 266.3L652.9 267.5L654.5 268.1L654.6 269.4M671.5 256.3L672.3 255.1L671.9 253.1L671.2 252.4L669.7 251.5L669.9 249.9L671.8 249.7M659.8 270.1L659.3 271.2L660.6 272.4L660.9 274.3L662.3 274.4L663.9 275.2M667.5 262.5L666.7 261.2L665.3 262.3L663.6 262.1L661.8 262.7L660.8 262.6L659.5 262.8L658.3 263.7M656 253.2L656.3 255L658 255.5L658.1 256.9L656.5 257.7L655.7 256.7L654.1 257.1M656.6 269L657 270.5L658.2 271.5L659.5 272.6M664.2 262L665 260.4L664.1 258.9L665.2 257.8L664.7 256.9L663.4 255.9M657.3 263.7L658.4 265.2L658.5 266.7L657 268L657.2 268.9L657 270.9L657 272.7L655.8 273.3M660.4 263.9L660.3 262.4L659.7 261.1L660.4 259.8M671.2 260.8L672.7 259.7L672.3 258.7L673.3 258.2L674.8 257.4L676.5 256.8L678.3 256.7L679.6 258.3M678.4 265.1L680.1 265.3L680.9 264.4L682.3 263.3L683.9 264.3L685.4 265.4L686.3 265M675.7 261L675 261.8L675.1 263.6L675.3 265.6L676.5 266.1L677.7 266.4M657.9 262.6L656.8 263.8L655.6 263.7L654.5 263.3M675.7 258.1L674.5 257L675.2 255.6L676.1 255.2L677.1 256M664.5 261.5L663.1 260.7L661.6 259.8L660.8 259.1L659 259L656.9 259L656.3 259.8L654.8 260.4M680.8 251.4L679.2 252.2L677.4 251.7L676.4 250.7M675.7 264.6L675.5 266.7L676.1 268L676.9 269.2M667.6 265.1L667.2 266.2L666.4 267.2L667 268.7L667.8 270M676.6 266L675.1 265.8L674.1 267.1L672 266.7M657.9 266.9L658.7 266L660.5 265.7L661.7 267.2M653.2 267.8L652.5 269.1L651.3 270.8L650.2 271.6L649.1 271.9L647.6 271.6M652.5 268.6L653.8 268L654.9 267.8L656.8 267.9L657.8 269.9L657.5 272L656.7 273.5M669.7 259.3L667.8 259.1L666.8 260L665.3 261.1L663.7 261.8L662.7 262.6L661.4 262L661.3 260.1M668.4 263.9L669.2 264.3L670.6 264.5L671.8 264.8M665.1 267.8L665.7 266.3L665.8 264.6L666.8 263.5L667.9 263.9L669.5 264.8L671 265.4L672.4 265.1M667.9 254L667.3 252.6L666.3 251.8L666.3 249.7L664.7 248.8L663.5 249.5L661.6 249.2L660.6 249.7M638.7 269.4L640.2 270.2L641.5 271L641.3 272L639.9 273.3L639.7 274.9M659.5 262.4L659.8 263.4L660 264.9L658.6 266M687.9 262.5L688.6 261L687.6 260.1L686.1 261L685.4 262.3L685.2 264.1M678.4 254.4L678.3 255.8L680.2 256.3L680.8 257.9L682.5 258.3M668.4 271.3L669.7 271.7L671 271.9L672.8 272L673.5 270.7L672.3 269.9L672.3 267.8" fill="none" stroke="#2626a4" stroke-width="0.8" stroke-linecap="round" stroke-linejoin="round" opacity="1"/>
<path d="M665.5 266.2L665.4 264.4L665.8 263.6L667.3 263.4L667.8 261.5M673.4 260.5L673.7 262.4L673.1 263.8L672.3 265.1L671.9 266.2L672 268M667.3 256.3L667.2 255L667.8 254.1L667.5 252.9L666.6 251.9L665.6 250.8L666.1 249.9L666.2 248.6M669.7 261.7L669.4 260L669.5 258.8L671.2 258L671.8 256.9M664.2 262.1L665.1 260.7L664.3 260L664 259.1L662.5 258.4L662.5 257.1L662.8 255.6L664.6 255.4M662.7 263.5L662.8 264.9L664.1 265.3L664.3 266.4L665 267.7L665.7 268.7L667 268.5M664.3 261.5L663.1 260.9L662 261.1L661.3 261.7L661.3 263.1M672.7 261L671.7 261.5L670.2 262L670.4 262.9L671.3 263.8L672.1 264.4L673.2 265.2M663.2 265L664.6 264.1L664.6 263.1L665.3 262.2M662.5 265.1L661.8 264L660.1 263.9L659.2 264.5L658.5 265.4M671.7 259.8L671.3 260.9L671.9 261.4L672.1 263L670.8 264.3L670.1 265.8L669.1 266.6M668.3 263.3L669.1 263L670.1 262L670.2 260.1L672.1 259.8L672.9 258.2L673 256.8M669.6 261.1L670.3 260L671.3 259.5L671 258.7L671.9 257.4L671.2 255.8L671.2 254.4M665.3 259.7L665.8 260.8L665.2 262L664.5 262.9L665.1 264.4L665.9 264.9L666.4 266.6L666.1 268.4M672 259.4L673.4 258.7L673.8 257.2L674.3 256.1L675.5 255.2L676.6 255.8M659.2 264.6L658.2 265.2L658.1 266.3L657.6 268.1L657.9 268.8L657.5 270.1L656.7 270.3M670.5 261.5L671.8 260.7L671.7 259.9L671 259.4L670 259.2L669.1 259.9L669.3 261.7L668.9 263.2M666.5 258.5L667.2 259.5L667.6 260.3L667.1 261.3M665.4 266.8L666.2 265.8L665.9 264.8L667.1 264L668.2 264L668.8 263.2L670 262.6M663.8 261.8L664.5 263L664.4 264.8L664.8 266.3L664.9 267.3L665.4 268.4M662.9 265.1L663.6 266.4L663.7 268.1L663.3 269.4L662.8 270.8M664.4 263.5L665.6 263.3L666.2 261.7L667 261.4L667.5 260.1L667.6 258.4M672.1 262L672.7 260.9L673.6 260.4L674.9 259.7L675.3 258.5L675.2 257L673.9 256.3M665.8 262.9L664 263L663.1 262L662.1 261.4L661.1 260.8L660.9 259.9L661.2 258.5L661.8 257.4M664 263.6L663.7 264.5L662.1 265L662.1 266.3L663.5 266.8L663.8 268.4L665.2 268.6M663.7 262L664.4 260.6L665.3 259.6L666 258.1M670.6 258.7L669.9 257.6L670.2 256.4L671.1 255.4L670.6 254.2L671 253.3L669.6 252.2L668.5 251M661.2 259.6L660.1 259.5L659.6 260.3L660.5 260.8L660.4 262.7L661.8 263.6L661.4 264.8L660.8 265.5M664.1 263.2L663.9 261.4L664.7 259.8L666 259.1L666.6 258.3L667.7 258L668.6 257.6L669.8 257.5M662.3 269.3L661.5 269.8L661.1 271.2L660.5 272.3M667.7 262.4L666.2 263L665.5 261.9L664.7 262.7L663.1 262.5L662.5 261.6M676.9 263.4L678.6 263.1L679.8 262.6L679.5 261L678.2 260M664.4 262L663.6 262.9L663.8 264.4L663.3 265.7L663.6 266.8L664.4 267.4L665.3 267.6M670.4 263.8L671.6 264L672.8 264.5L673.3 265.8L673.8 266.6L673.7 267.3L674.1 269M664.3 261L663.4 262L662.3 262.9L662 264.4L662.1 266.2M663.7 263.8L665.3 264.5L666.3 264.9L667.3 266.3L667.3 267.1L665.8 267.9L664 267.5M671.8 258.7L672.3 260L673.1 260.5L674.1 260.8L675.1 260.2L675.6 259.3L677.3 258.4M662.9 266L662.7 267.8L662 268.8L662.2 269.9M665.9 263.8L667.6 263.4L668.7 262.9L670 263.8M660.4 263.9L660.3 265.4L661.5 266.2L661.9 267.8L661.2 269.1L661.5 270.8" fill="none" stroke="#23233a" stroke-width="0.9" stroke-linecap="round" stroke-linejoin="round" opacity="1"/>
<path d="M670.1 260.9L668.8 260.1L667.8 258.6L665.8 258.1L663.4 258.4M665.5 264.3L663.5 264.3L663.2 266.2L664.4 267.5L666.3 268.2M666.2 261L665.3 259.6L666.2 258.1L667.4 256.8M662 263.6L661.1 264.5L661.9 265.6L662.3 267.3M662.5 261.6L661 262.5L660.1 263.9L658.8 265.2L657.7 266.4L656.1 266.1L655.2 267.6M661.6 263.9L660.1 263.2L659.1 262.8L658.9 261.4M668.1 260L666 260.4L665.1 261.5L665.5 263M662.4 260.3L664 261.2L664.4 262.9L665.8 263.9L665.8 266.4L667.6 267L668.2 269.1L669.2 269.4" fill="none" stroke="#b03070" stroke-width="0.7" stroke-linecap="round" stroke-linejoin="round" opacity="1"/>
<path d="M657.8 385.6L658.3 383.7L659.7 383.3L660.7 384.7L661.9 385.6L662.2 387.4L659.9 388.1M631.6 357.9L629.4 357.2L629 354.8L627.6 354.7M651.9 369.4L652.5 367.1L651.6 364.6L652.3 362.6L653.4 361.4L654.8 361.9L655.5 363.6M647.7 365.3L649.8 364.5L652.6 364.4L653.4 362.5L654.3 360.1L653.3 358.1L654 355.9M666 374.4L665.6 376.7L664 378.9L662.8 381.4L661.2 383M650.2 370.1L651.7 369L652.9 369L654.2 370L656 370.7M657.3 365.4L658.6 364.9L659.9 367L659.4 368.3L659.4 370.3L657.8 371L656.5 371.7M652.6 370.1L652.6 367.5L653 365.8L655.7 365.6L656.1 364.5L656.5 362M657.7 365.9L655.1 366L653.3 367.1L651 367.6L648.6 367.8L647.5 365.7M644.2 367.6L644.3 365.9L642.6 365.3L642.4 363.3L642.4 362M653.1 358.8L651.8 357.2L651.3 354.9L652.6 353.7L653.7 354.3L655.8 353L657.4 352.2L659.2 351.5M647.3 368.8L647 370.4L646.1 372L644.4 372.5M648.7 387.4L647.5 385.5L648.3 383.4L650.3 382.1M661.6 358.1L662.3 360.5L660.1 361.2L659.5 362.9L660.5 363.9L662.9 365.1L664.1 366.3M659.8 365.3L658.5 366.8L657.7 369L658.5 370.4L658.7 372.1L657 373.1L655.5 373.4L654.1 374.1M660.7 372.7L659.2 371.9L657.9 370.6L655.9 371L654.6 372.9L654 375.2M669 368.4L671.7 368.5L674.1 369.1L676.6 369.6L677.7 367.6M671.9 382.1L671.5 384.3L671.2 385.9L672 387.4L672.3 388.6L674.2 389.3L675.6 388.7M666.9 381.8L665.7 381.2L664 380.4L662.8 379.4L663.1 378.2L662.8 376.1L660.8 375M658.2 389.7L659.3 388L661.2 388.8L661.3 391.6L659.1 392.1L657.7 393.8M666.5 362.3L667.4 363.6L668.2 365.2L667.7 367.9L668.8 369.4L668.9 371.5L666.3 372.4L663.7 371.7M661.5 366.4L660.8 365.1L659.3 363.9L658.5 361.8L657 360.8L655.7 359.6M655.2 369.3L655.7 368.1L655.2 366.8L652.7 367L650.6 368.1L648.5 369.3L646.2 369.3L645.6 367.7M645.2 371.1L643.2 370.1L640.7 370.2L640.1 367.9M662.2 371.9L663.6 373.2L663.7 374.7L665.2 376.3L667.5 376.2M657.1 361.6L658.3 363.1L660.5 362.1L663 361.4L665 361.6M650.5 360.8L651.8 359.5L653.9 358.6L655.2 357.2L657.5 358.3L657.6 360M658.1 372.6L659.2 374.4L660.2 374.9L662 374.2L664.2 374.1L665.3 372.8M672.7 386.1L674.1 386.8L674.9 388.9L676.6 388.7L677.6 390.7L679.5 390L681.4 390.7L681.4 393.5M669.1 363.2L667.5 363.8L665.9 365.2L666.8 367L666.2 369.1M649.4 373.8L648.4 374.7L646.6 374.1L646.7 371.5L647.5 369.8L649.1 368.5L648.5 367.1M655.8 375.7L657.3 376.2L659.7 376.3L661.3 375.8M672.3 368.6L669.9 369.6L668.6 371.6L667.5 372.1L665.9 371.8L664.5 369.8M668.6 382.8L670.7 383.4L672.1 385.6L671.4 387.5L670 389.5M657.4 360.7L657.7 359.5L659.3 358.4L658.8 357.3L657.8 355.7L656.9 354.2M673.9 357.7L671.6 357.8L671 355.8L669.2 354.1L667.6 354.7L665.8 356.2M645.6 379.3L646.6 377.2L647.1 376.2L647 374.7L645.6 373.4L644.6 372.3M662.6 363.6L662.2 365.2L661 365.6L659.6 367.7L660.3 369.8L658.9 371.4L657.5 370.6M654.6 369.4L655.2 371.3L654.2 372.7L654.7 375L656.3 375.3L658.2 375.9L657.8 377.7M652.6 361.5L652.3 359.9L652.3 357.1L651 355.9L652.3 354.2L654 353.5L655.6 352M654.9 350.1L653.1 351.7L651.5 353.5L651 355.8L650.3 357.9L648.7 358.3L647.8 355.9M665.2 387.3L665.4 388.9L667.1 390.5L667.7 392L666.6 393.4L664.7 393.9L663.3 392.7M646.9 366.2L644.9 365.3L643.7 366.4L643.6 369.3L641.5 370.3L639.6 371.4L639.6 373.1M647.8 372L647.9 373.4L649 374.8L648.6 376.9L646.9 377.7M678 382.7L676.6 382.5L675.6 381.5L674.1 381.3L672.5 380.4L672.7 378.1L671.4 377L669.8 377.1M642.7 368.7L640.3 369.4L640 372.1L639.6 374L641.3 375.4L642.9 376.5L645.1 376.5M646.7 385.6L645.8 384.2L646.4 381.8L648.8 381.5L651.1 380L651.4 377.5L652.6 376.3L653.7 377M658.1 350.2L659.9 348.9L660.9 347.8L662.2 347.3L662.7 345.6L663.9 343.9L662.7 341.7M664.9 385.1L665.9 383.7L667 383L667.8 381.4L669 380.7L670.7 378.8L673.3 379.5M670.9 386.5L672.7 386.3L673.8 387.7L676.5 387.6L679.2 387.2L680.3 389.2L682.9 388.9M659.2 364L658.1 365.2L657.9 366.8L656.4 367.8L653.6 367.4M661.6 355.8L661.5 353.1L658.9 352.1L656.9 352.1L656.2 354.4L655.2 356.1M659.6 372.4L660.4 371.4L662.1 370.5L664.1 371M678.6 381.3L679.5 382.8L678.6 384.3L679 385.7L677.8 387.2M666.2 372L664.5 371.2L663.2 371.3L661.1 370.9L659.4 372.1L657.3 373.3L655.8 374.3L653.8 374.2M634.5 353.5L636 352.8L637.4 353.5L637.9 355.1L638.7 356.8L636.8 357.9L635.3 357.7M655.8 383.1L656 384.9L658.4 385.9L659.6 387.7L658.2 389.7L658.7 391.7L657.6 393.8L657.1 396.2M657.2 368.9L655.7 367.3L655.7 364.9L654.3 364.2M629.3 358.6L629.1 357.5L626.6 356.8L625.6 355.4L625.8 352.9M688.6 369.5L687.4 370.8L685.3 369.4L683.9 368.5L683.4 366.5L683.9 364.7M661 372.5L663.5 373.4L664.7 374.1L665.4 376.3M654.6 367L654.5 365.2L652.2 364.7L652.5 361.9L650.2 360.8L648.7 361.3M652.1 369.7L652.8 372L653.4 373.2L654.4 374.4L653.2 375.7M650.8 375.3L651.7 376.9L650.9 378.3L649.5 378.6M659.1 384.4L660.1 385.8L661.6 386.6L663.1 388.7L665.6 388.4L666.8 389.3M679.9 369.7L677.6 369.7L677.1 372.3L677.1 374.2L679.3 375.2L681.2 376.2M652 384.9L650.1 386.2L648.2 385.3L648.2 382.5L650 381.2L651.3 382L653.9 381.6M654.9 374.7L653.8 376.4L655.2 378.3L657.3 379.4L659 379.7M634.9 350.6L633.2 351.2L632.3 352.6L632.2 355.4L632.9 356.9L634 358.1L636.4 358.9M658.4 355.8L660.6 356.6L662.4 356.7L664.9 355.9M669.8 374.9L668.7 374.3L666.1 374.8L664.3 374.5L661.6 375.3L660.1 376.9L659.9 379.1M650.5 358.8L649.2 357.6L649.1 356.4L647.7 355.6M666.9 371L665.7 370.6L665.6 369.2L666.8 368.3L667.8 369.5M665.8 381.4L664.8 382.8L664.8 384.8L666 386.5L668.6 386.8M664.7 368.2L666.3 366.8L668.3 366.1L670.3 364.5L671.8 364.9L673.6 365.9L675.8 365L677.6 364M649.5 374.2L647.7 376.2L646.2 376.5L644.1 377.2L644 379.7L646.5 380.3L646.4 382.4L644.4 383.6M639.9 360L642.4 361L645.1 360.5L646.7 358.6L646.1 356.6L645.2 354.8M662.6 354.1L664.1 355.2L665.9 354.8L666.3 352.6L667.8 352L668.9 351.4L668.7 350.1M639.6 358.1L639.6 360.5L640.7 362.1L639.9 364.4L641.3 365.4L642.6 367.4L645 367.4M663.5 376.4L661.7 374.9L659.7 373.4L657.5 373.8L655.2 373.8M661.4 375.8L662 377.9L660.5 379.8L660 382.1L661.5 383.5L661 386.2L661.7 388.8L661.5 390M657.3 369.1L655.9 367.4L653.2 367.7L650.6 367.8M656.4 372.4L658.5 371.7L658.8 368.9L657.1 367.5L655.3 367.1M644.7 369.6L642.1 368.9L639.7 368.1L639.1 366.3L637.1 365.7M656.4 378.7L656.7 380.1L655.2 381.4L653 382.1L651.8 382.2L650.6 381L648.1 380.8M655.4 371.2L656.6 370.9L657.5 372.6L659.8 373.1L660.6 374.3M668.4 366.1L669.4 367.7L670.5 369L672.1 367.6L672.5 365.7L675.3 365.4L676.6 366.7L678.1 368.3M664.7 350.4L664.3 347.7L665.6 345.5L666.1 344.3L664.2 342.4M676.5 376.5L674.7 376.8L673 378.4L672 380.2L669.6 380.3L667.5 378.9L665.5 378.3L664.6 379.3M656.1 379.3L656.3 376.5L657.1 374.6L659.1 374.2L660.5 375.8L663.1 375.6M655.4 383.3L655.4 382.1L654.3 380.4L654 378.9L654.9 377.7L654 376.5L653 375.4M668 364.5L670.1 365.8L670 367.3L669 368.2M641 369.1L641.4 366.8L640.3 365.8L638.8 364.9L637.6 364.6L635.5 363.5L635.2 361.9M657.6 343.5L657.5 340.9L657.8 338.7L657.2 337.2L656 336.5L654.1 338.3M660.5 367.7L661.1 365.6L663.5 365.6L664.7 365.9L665.1 368.3M643.7 373.8L645.2 374.2L646.6 373.8L647 371.6M647.7 358.5L645.8 359.6L646.7 361.1L647.9 362.4L647.9 364.5L648.6 366.7L649.8 367.4M669 375L670.2 376.7L672.1 378.5L673.8 378L676.5 378.5M667 367.9L666.5 370.3L666.9 372.1L666.8 374.3M675.5 382.4L674.6 380.2L672.6 379.7L671.5 378.6L670.8 376.6M652 363.8L653.4 363.4L655.2 363.9L656.9 364.3M673 370.7L674 371.8L672.9 373.6L673 374.7M666.4 356.9L665.7 355.8L664.5 355.2L663.2 356.7L661.4 356.4M663.5 365L664 362.9L665.6 362.2L666.7 362.8L668 363.3L670.7 362.7L672.3 363.5L673.8 364.5M644.9 368.7L642.9 368.7L641.5 368.1L640.5 366.8L640.8 365.7M659.5 363.2L657.6 363.9L656.1 365L654.7 363.5L654.7 361.8L653.7 360L652.5 358.2M664.1 365.7L666.8 366.1L669 366.8L670.9 366L671.3 364.6L670.8 363.4M674.9 366L676.2 364.1L678.5 363.8L680.1 361.6L682 360L684.7 359.6L685.8 360.9M652.9 371.6L652.6 370.4L651.8 369.4L649.6 368.3L648.6 367.5L648.9 366L651.6 365.6L653.4 366.8M680 385.2L678.7 385L677.2 386.4L676.8 388.3L677.3 390.4L678.8 390.6M657.9 358.2L656.8 355.8L655.2 354.3L655.1 353.1L656 351L657.9 350.4L659.3 351.1M632.3 354L632.4 351.9L633.7 349.7L632.3 348.7M649.8 373.3L651.2 373L653.5 372.8L654.8 373.9L655 375.2L652.9 376.3L651.5 375.1L650.5 376.1M654.1 375.6L656.4 376.3L658.6 377L660.9 377.9L662.5 378.3M645.4 365.5L645 367.1L644.9 369L644.3 370.3L642.6 371.6L642.7 374.3L641.8 375.6L640.4 376.8M659.4 374.8L657.6 375.8L655.8 374.2L654.2 375.5M657.7 376.6L657.9 375.5L658.4 372.8L659.1 370.8L660.6 369.6L661 368.4L660.2 367.2L660.8 365.5M656.9 380.5L658.6 379.7L660.2 378.9L661.4 379.1L663.9 379.3L665.2 379.7L666.9 379.6L669.4 379.9M653.2 358L650.4 357.9L649.4 360.1L649.2 361.2M665.2 360.7L666.3 359.8L667.2 358.4L666.9 356.1L666.6 353.3L664.7 352.1L662.7 352M669.7 368.8L668 370.1L666.8 369.1L664.9 369L663.7 367.8L663.9 366.4L666.1 366M661.1 386.1L663.5 386.2L664.7 387.7L665.8 386.9L667.3 386.9L668.4 384.4L666.9 382.6M646.6 365.8L645.5 364.2L643.5 363.9L641.6 363.1L642 361.1L643.4 359.8L644.6 358.3M636.7 379.2L638 378.3L640.1 378.8L641.3 379.6L641.4 381L640.9 382.4L638.8 382.7L637.4 384.3M658.9 351.6L657.2 351.2L656 351.3L653.7 350L652.4 350.4M656.2 368.5L655.8 366.7L653.6 365.9L652 367L649.5 367L647.3 367.8L645.1 368.1M648.7 366.8L648.3 364.9L646.8 364.2L644.7 364.7L644 366.8L642.3 366.8M647.3 368.1L645.3 367.5L643.7 366.8L642.4 367.8L639.7 366.9L637.1 367.2L635.2 367.7M658.3 367.7L656.4 368.8L655 370.2L655.4 371.9L654.5 373.3M666 365.8L664.6 367.2L663.6 367.7L662.5 369.2L661.4 370.5M658.5 378.3L657.1 376.7L655.9 375.5L654.4 373.6M662.2 387.1L664.1 387.8L666.3 387.5L667.3 386L669 384.9L669.8 383.5L669.4 380.9L669.4 379.6M681 377.1L679.7 376.3L677.5 374.7L675 374.1M660.1 361L660.7 358.4L659 357.1L657 356.1L656.7 353.3L658.3 351.8M672.3 375.8L673.6 376.1L674.9 375.2L676.6 376.9L679.4 376.5L679.6 374.8L677.9 373.7M661.5 369.8L662.1 371.1L663.4 371.5L664.7 370.5L667.3 370.6L669.3 371.1M658.2 347.3L658.1 345.4L657.2 342.9L656.2 342.3L653.5 342.1M667 381.6L665.5 381.8L665.1 384.1L665.3 385.2L663.7 386.3M674.1 362.2L675.6 360.1L675.4 357.3L677.1 356.4L679.6 356.7M666.4 390.6L666.4 388L667.2 386.4L668.4 384.6L667.8 382.5L665.7 381.8L663.1 382.1M677.9 381.5L678.6 380L679.3 378.7L680.4 377.8L682.7 379.2L682.9 380.9L683.7 381.8L685.1 381.3M646 369.4L647.4 368.2L650 367.9L652.3 367.7L653.4 367.4L654.8 367.1M646.6 375.9L647.6 377.6L648.8 378.6L650.3 380.6L649.1 382.2L650 383.9L648.3 385.6L647.1 386.5M658 366.4L658 367.9L658.2 369.9L659.5 371.9L659.2 373.7M645.8 353.6L645 355L645 357.2L644.3 358.9L645.4 360.2L646.5 360.5M676.1 382.6L677.3 383.3L678.1 384.7L676.9 386L675.4 386.5L674.7 388L674.9 389.6M656.2 354.4L657.3 352.9L658.2 350.9L656.1 349.2L653.8 349.4L652.9 347.8L652.8 345.1M655.3 395.7L652.7 395.9L650.6 396.6L650.2 399M666.4 381.7L667 384.4L668.1 385.7L670.5 387M664.6 383.4L664.8 385L665.8 386.5L667.5 386.9L670.2 386.8L671.7 385.6L671.8 384M660.6 378.3L661.7 380.1L661.3 382.4L661.4 384.7L660.3 386.1L658 387.3L656.7 387.4M651.2 369.4L650.9 371.7L651.5 373.9L651.7 375.1L650.1 376.2L649.2 376.9M670.5 375.9L671.7 374.8L671.2 373.3L673.2 372.1L673.2 369.3L671.8 368.7L668.9 368.7M673.5 376.6L675.1 377.2L676.6 378.8L678.9 379.6L680 380.3L680.6 383M662.2 380.4L659.9 381.2L657.7 382.1L656.6 383.3M655.2 347.5L656 349.5L657.8 349.1L658.8 348.2L659.5 346.2L661.5 344.6L663.1 345.4L665.2 347.2M661 371.8L660.3 373.1L659.9 375.8L659.5 377.5M652.3 380L653.6 380.9L654.7 382.5L654.9 384.6L652.5 385.1M662.6 373.1L664 372.8L666 373.8L667.9 374L669 374.7L670.8 375M688.2 384.7L689.1 385.8L688.5 388.4L687.1 390.4L687.4 393.1L688.9 393.7L690.9 395.4L693.2 396.6M662.3 362.8L660.7 362.1L659.9 360.4L660.9 358.9L662.2 358.3L664.2 359.9L665.8 360.7L667.8 360.9M663.4 366.1L662.4 368L659.7 368L657.6 367.7L657.4 365L655.3 363.9M670.5 387.8L668.9 388L666.4 387.7L665 387.8M662.1 371.2L661.4 368.6L659.6 367.6L658.9 365.4L658.8 363.7L657.9 362L656.3 361.6M677.2 366.4L675.2 366L673.9 366.6L671.3 365.7L671.7 363.9L673.1 362.3M649.6 369.5L648.4 368.5L648.8 366L647.1 365L645 364.6L643.3 363.2L643.1 360.5L641.9 358.3M662.2 363.6L661.3 362.5L659.6 362.3L658.3 361.8L657.5 363.8M664.4 379.5L663.1 378.7L661 380.3L659.3 381.6M652.4 369.9L653.6 368.7L655.9 368.7L657.1 368M662.9 368.6L662.8 366L663 364.1L663.1 363L663 361.3L662.7 358.9L663.8 357.2L665.7 357.7M659 368.9L657.8 369.7L655.9 368.5L654.5 369.4L654 370.9M646.8 363.8L645.8 362.2L646.9 360.7L648.8 359.2L650.4 360.4L651 363.2L651.2 365.2L650.9 367.5M661.4 365.3L662.1 367.2L663.7 368.3L665.2 368.1M682.2 389.4L679.5 390L677.7 390.8L675.7 390.2M647.4 363.6L645.9 364.6L643.9 363L641.1 363.3L638.4 363.4L637.7 362.1M672.5 391.2L675.3 391.4L676.1 390.4L677.5 390.4L678.7 390L680.3 391.2L680.8 393.4L682 394.7M655.4 377.3L654.5 376.2L652.5 376.8L650.5 375.4L648.6 375.9L647.4 375.1L647 374M649.6 376L649.5 377.8L650.1 379.4L649.7 381.2L649.2 382.4L647.8 383.2L645.3 382.6L644.9 381.5M675 376.3L673 377.5L671.8 377.4L671 376.1L669.8 374.4L667.5 372.9L665.7 373.3M657.5 378.5L657 376.8L656.2 374.8L654.9 373.7L652.1 373.6L651.5 371.6L652.1 370.1L649.8 368.8M671.7 359.8L672.4 362.2L673.3 363.5L674.5 364.8M653.6 384.7L654.1 383.1L655.2 381.1L654.9 379.4L656 378.1L658.8 378.3L660.2 376.4L662.2 375.5M670.3 372.7L670 370.1L670.7 368.8L670.8 366.4M679.8 390.7L677.8 389.4L675.1 389.7L674.8 391.3L675.7 392.4L676.1 394.2L678.2 394.7M646.1 378.2L648.1 377.4L648.9 376.4L649.9 377M658.2 354.3L658.8 351.7L659 349.7L659.1 347.2M657.2 370.8L656.3 369.5L655 368.2L653.4 368.9L652 367.8L650 366.9L650.4 364.4L649.8 362M657.2 368.8L658.5 367.9L659.9 368.3L662.1 369.7L664.3 369.7L666.4 370.4L667.8 371.2L669.2 369.6M671.6 368.6L670 370L668.8 371.3L667.1 373M666.2 369.8L665.1 368.4L665.3 366L665.1 363.6L664.7 361.7M668.7 375.2L667.7 376.3L668.1 379L666.9 380.1L666.5 382.6M651.6 384L649.5 383.6L648.5 382.6L646.1 382.6L645.5 381.6L644.2 381.9L642.3 381.6M661.9 378.8L662.6 377.7L664.6 377.5L666.6 376.7L668.4 375.1L669.2 373.1L670.9 373.2M655 381.8L653.3 382.2L652.5 381.2L650.9 379.8L648.3 379.5L647.2 378L645.6 376M666.8 381.4L665.3 380.4L665.9 378L664.6 376.3M653.5 357.6L656 356.7L657.1 357.1L659.3 356.7L660.6 356.1M630.6 362.3L631.9 361.8L633.5 361L636 360.6L636.3 359.4M656.1 374.6L657.5 374.8L658.2 376.5L658 379L657.2 381.4L655.1 383.1L654.7 384.2L655.5 386.1M653.9 383L655.4 383.2L657.5 383.2L659.6 382.3L661.4 382.5M662.5 373.9L664.2 374.8L664.4 376L664.4 377.4L663.6 379M662.1 368.7L661.9 365.9L660.4 364.8L659.9 363L662 362L662.5 360L660.7 359.1L658.3 358.8M666.8 367L665.8 365.4L663.6 364.4L662.4 364.2L660.2 365.9L658.8 366.9L657.8 366.5M660.8 378.7L662.6 380.1L663 382.6L663.5 384.9M658.1 362.2L659.3 360.6L661.1 361.1L662.7 362.8L664.8 362.3L666.9 362.4L668.1 364.7M651.2 379.1L648.9 379.6L647.7 378.1L647.1 375.8L648.8 374.5M663.2 387.1L660.9 387.3L660.1 388.5L657.6 388.8L656.5 388.1L655.3 388.5L653.6 387.7L653.1 385.7M643.3 367.1L642.3 368L641.2 368.3L640.2 369.6L640.1 371.9L640.3 373.1M677.3 399.4L675.9 401.2L673.8 403L673.9 404.9L675.5 405.8L676.8 405.3M650.8 376.1L648.4 376.6L646.5 375.5L644.1 375.5M672.2 376.3L671.1 374.6L671.1 372.1L673.4 371.5L674.2 370.1L675.5 369.7L676.5 371.1M657 363.5L654.8 362.9L652.7 363.8L651.8 366L652.9 368.1L654.1 368.9L655.6 370.6L657 369.9M656.9 382.2L659 381.9L660.5 382.2L663.2 382L663.4 379.8L664.2 377.5M665.6 360L666.5 361.2L667.2 362.6L669.1 363.8M665.5 381.5L663 381.8L660.9 380.4L659.7 379.3L659.3 377.5L661 375.7L662.8 374.4M648.1 375.2L647.2 376.9L647.5 378L649.5 378.8L651.2 378.6L653.1 377.3L654.5 377.6M663.7 374.7L664.3 377L666.2 377.4L668.6 378.5L669.8 379.5L670.1 381.9L669.2 383.3L670.1 385.5M672.8 373.4L672.4 371.2L673.9 369.7L675 368.1L677.7 368.7L677.7 370.1M668 376.2L668.6 378.7L669.2 380.6L670.9 380.8L672 379L673 376.4M669.8 384.6L667.4 383.7L665.3 385.2L663.2 386.5L663.5 388.7M660.6 352.8L661 351.7L660.8 350.3L660.1 347.7L659.1 347.1L656.9 345.5L656.2 343.3M649.6 368.5L648.2 369.3L645.9 369L645.5 367.2M671.6 373.4L670.7 375.7L668.6 376.3L667.9 378.8M673.2 371.6L674.8 370.7L676 371.4L677.3 371.1L679.4 371.6L681.2 372.7L680 374.7M660.3 375.7L660 377.8L660.1 380.1L660.2 381.9L659.4 384L659.6 386.2L660.3 388.7L660.9 389.9M666 378.5L666.4 376.9L666.9 375.1L666.9 373.4L667.9 372.1L668.4 370.8M648.2 365.8L647.9 364.7L648.9 362.9L648.6 360.2M660.1 364.4L661.3 362L660.4 361L660.8 358.8M648.1 372.3L647.4 373.4L646.7 375.9L644.1 375.8L643.1 376.3L641.6 376.7M655.6 365.3L657.5 363.8L657.9 361.6L657.9 358.9M672.8 369.2L674 370.8L674.5 372.1L673.2 373.4L671.4 374.1M654.2 378.6L653.3 379.7L651.9 381L650.6 381.7M650.2 359.4L648.4 359.7L647.4 361.5L647.5 363.4M661.1 373L663 373.2L664.8 372.3L664.3 370L665.2 369L667.3 368.4L669.3 369.1L670.4 369.5M664.8 365.1L663.4 363.8L662.7 362.3L662.5 360.2L664.3 358.4L664.1 356.6L663.8 355.4L661.9 354.8M643.7 369L642.6 368.5L642 366.6L642.4 364.7L642.6 363.4L641.5 362.3L638.7 362.6M652.6 387L654.6 386.9L656.3 386.7L658.4 385.7L658.8 384.4L657.1 382.6M662.5 382.7L661 382.4L659.7 384.2L657.9 384L656.7 385.8L654.3 386.6M660.6 364L661.9 365L662.2 367.2L663.4 368.3L665.7 369.5L667.2 368.7M657.1 367L656.5 368.7L656.8 370.2L656.4 372.8M661.1 368.4L662 367.4L660.9 365.7L659.5 364.2L657 364.4L656.1 366.2L657 368.5L657.4 370.8M658.4 353L659.1 351.1L659 348.5L658.8 346.1L658.2 344.5L656.9 343.1L656.6 340.5L657.2 338.2M646 363.2L647.6 363.1L648.6 361.5L648.2 359.2L649.4 357.4L650.8 357.9M658.9 372.5L659.1 370.7L657.9 369.9L657.6 367.5L657.2 366.1M636.5 372.5L638.1 373.3L638.7 375.1L639.8 376.3L641.3 377.3L643.2 378.3L643.4 380.9M670.7 388.5L670 386.8L670.7 385.6L670.7 384.4L669.5 383.5L668.4 383L667.8 381.3L665.6 380.8M654 353.6L652.6 355.1L651.5 354.6L649.5 353.4L646.8 353.5L645.1 352.8M651.2 364L651.2 361.9L651.7 360.5L650.9 358.5L648.5 357.9M658.5 394.7L656.4 394L655.4 393.1L654.6 391.3L653.3 391.3L650.6 390.7M669 369.3L667.1 368.9L665.1 368L663 369.4L661.6 371.1L659.5 371.2L657.4 371.4L655.9 370.2M637.3 348.9L638.5 347L639.5 344.8L640.1 342.3L642.3 341.6L644.6 341.1L644.7 338.7M665.4 383L663.9 384.9L664.1 386L663.1 387.1L663.2 388.8M666.2 374.7L667.4 376.4L667.2 378.3L667.3 379.7L668 381M679.2 371.8L679.4 369.6L678.7 368.3L677.3 367.5L676 368.2L675.8 369.8L676.7 371.7M659.6 349.2L659.3 351.6L658.4 352.6L655.7 352.9L654.5 353.5M649.7 376.2L648.4 376.5L647.5 375.5L645.2 375.2L643.5 376L641.2 376.9L640.9 378.9L638.7 380.2M676.3 372.4L675.7 374.3L674.7 375.4L672.2 375.3L669.7 375.3L668.2 375L667.8 373.4M668.5 388L666.5 386.4L666 384L667 382.6M653.2 356.8L654.2 358.5L655.2 359.4L657.2 358.6L657.2 356.6L657.3 354.4L656.5 353.4L655 352.9M673.9 381.3L672.3 381.4L669.8 380.7L667.8 380.2L666.4 380L665.7 381.5L666 384.2L667.6 385.9M662.1 369L660.8 368.6L658.2 368.8L656.8 367.8M658.5 379.3L659.7 379.9L661.3 380.1L661.7 382.8L661.3 385.4L661.1 386.8L662.8 387.8L664.4 388.4M668 373.2L665.6 373L664 372.7L663.6 370.9L661 370.7M662.7 372.1L662.7 373.3L664.1 374.7L663.3 375.8L661.6 376L659.5 374.8L657.8 374.9M658.7 377.6L658.9 380.1L657.3 381.4L655.2 381.2L654.8 379.8L656 377.7M663.3 368.6L665.3 367.7L666.8 369.8L667.9 371L669 372.3M666.5 371L665.3 370.8L664.7 368.6L665.9 367.9L667.3 367.2M656.7 366L655.4 364.5L653.8 364.8L652.7 364.6L651 364.4M668 392.1L668.9 389.8L670.3 388.5L671.8 388.6L674.5 388.7L675.6 390.6M672.1 371L673.4 370.1L672.3 369L671.5 367.7L672 365.2L673.3 363.9L675.5 364.2L677.1 363M653.5 364.1L654 365.7L656.2 366.1L657.4 367.1M654 384.9L652.4 383.9L651.1 385L649.8 386.2M642.7 383.4L640.7 383.5L640.1 380.9L640.6 378.5M646.6 363.4L648.6 362.5L650.3 361.5L652.3 360.8L653.5 361.6L655.3 361.8M666.6 366.7L667.5 364.6L670 363.8L672.7 363.8L674.5 364.5L675.5 366L675.1 367.7L673.3 368.9M678.5 383.2L679.7 385.5L681.3 386.1L682 387.6L682.6 390.1M647.1 366.1L648.7 366.2L649.7 365L649.9 362.8L648.2 362M658.6 380.4L660.6 380.6L662.5 379.6L663.6 380.8M663.1 364L663.7 365L665.6 365.3L667 364.7L668.1 366M696.8 375.4L698.2 375.8L700 376.5L701.2 376.4L702.3 377.1L702.7 379.5L700.6 381.1L699.3 382.9M648.2 357.6L648.6 355.9L647.7 355L645.5 353.9L643.7 354L641.5 354.5L640.8 353.7L639.4 352.3" fill="none" stroke="#4c4c80" stroke-width="0.6" stroke-linecap="round" stroke-linejoin="round" opacity="0.9"/>
<path d="M663 373.7L663.8 372.6L664.8 371.5L666.2 371.7L666.8 373.8L666.6 375.9L666 377M668.6 370.9L668.6 369.5L667.6 367.9L668 366.3L667.5 364.6L666.8 362.7L665.9 361.8L666.2 359.6M657.3 379.9L656.6 381.4L656.2 383L658 384M650 367.1L651.4 366.7L652.3 367.7L653.7 368L654.5 367.1M667.2 367.1L668.7 367.3L669.3 369.2L669.9 370.9M670.8 381.1L669.5 380.7L668.6 378.7L667 379.1M654 371.3L654.1 370.3L653 368.5L652.2 367.6L650.2 368L648.7 367.9L648.1 366.9M651.6 381L650 381L648.5 380L647.3 380L646.5 381M670.4 373.7L671.5 372.6L672.8 372.6L674.3 371.5L675.8 371L676.7 369.5L678.6 369.2M664.5 386.3L665.9 386L667 385.9L668.2 384.5L670 383.4L670.4 381.3L671.6 380.2L671.8 379.3M652.5 370L651.4 371.4L652 373.2L653.6 373.4L654.4 374.2M665 373.6L663.5 373.9L662.2 372.9L662.3 370.7L663.6 369.8L663.9 368.8M665.5 374L667 372.4L668.1 372.7L669.2 372.7L670.1 371.5L672.2 372M651.7 375.3L652.3 376.8L653.3 377.4L654.3 378.2L656 378.7M661.2 382.6L662.1 382L663.8 382.6L664.7 382.5L665.6 380.9L665.4 379.1L665.5 376.9M655 364.3L653.8 365L652.7 365.5L651.4 364.2L649.3 364M654.8 378L652.6 378L651.4 379.4L650.5 378.3L649.1 378L647.9 379.2L646.9 380L644.8 380.5M662.4 380.4L661 379.9L659.2 380.9L659.1 382.3M653.7 367.5L654.7 368.9L656.5 369.6L656.8 371.4L656.6 372.3L656.1 373.7L653.9 374.1L653.1 376.2M652.3 376.4L650.2 376.9L648 377.2L646.9 377.4L646 376.1L644.3 376.3M651.7 369.5L652.3 368.5L652.5 367L651.8 366.2L652.5 365M657.2 362.2L656.1 363.3L656.8 364.4L658.2 364.7L658.5 366.8L658.2 368.9L656.7 369.7L655.8 370.2M645.5 375L646.3 373.5L648.5 373.8L650.5 373M654.4 359L655.5 358.5L656.7 360.1L658.6 361.1L659.6 362.6L661.3 362.9M654.9 371.9L654.9 374L655.5 374.8L654.6 375.6L653.3 377M645.9 366.6L645 365.6L643.1 366.1L641.7 365.4L641.8 364.1M660.9 372.7L662.4 371.5L663.1 370L663.7 368M655.7 363.5L655.2 364.7L653.8 366.4L653.5 367.7L654.3 369.2L653.7 370.1L651.6 370.9L650 372.2M663 365.2L664.2 364.5L665.3 363.2L666.4 362.3L666.8 360.8M660.7 354.8L661.5 353.7L662.5 351.7L662.7 350.1L663 348.6L662.3 347.6L663.9 346.7L666 346.7M639.9 356.8L641.3 356.2L641.3 354.9L640.2 354.2M660.2 374.4L661 373.4L662.1 373.1L664.1 372.8L665.2 374.3L665.8 376.5L665.1 377.9L663.9 378.8M654.8 364.6L655.5 365.6L656.8 366.3L657.6 368L658.8 367.7L659.6 366.1L661.9 365.9M657.1 364.5L655.2 364.4L654 364.6L652.1 364.7L650.3 364.8L649.6 365.4L648.9 366.8L646.8 366.8M647.9 365.6L649.7 365.1L649.7 364.2L651 362.9L652.1 362.9L653.5 363.7M649.1 361.2L649.1 363.4L647.9 364L647.8 365L648.1 366.5M658.2 379.5L657 380.5L656.6 382.1L655.7 383L653.7 383.2L652.5 383.7L650.9 382.6M652.7 377.2L651.4 378.2L650.6 380.1L649 381.4L647.5 381M644 356.6L644.1 355.2L642.6 354.5L641 354.4L639.9 355.7L640.9 357.1L642.2 357.6M671 371.9L670.2 373.6L669.4 374.7L670 376.2L669.2 377.1M655 349.3L653.9 347.8L653.3 345.9L653.5 344.2L654.7 344M650.9 370.4L652.8 370.6L653.9 372.3L655.9 372.5M658.2 371.1L659.3 370.4L659.2 368.3L660.1 366.8L661.2 366.8L662.2 368.6L661.5 369.5L660.3 370.2M662.2 387.2L663.2 386.1L664 384.1L665.5 383.3M668.9 381.9L667.4 381.9L666.6 383.4L666.1 385.6L667.4 387.5L668.5 388.8M652.6 366.3L650.8 365.7L649.5 365.8L649.1 367.5L647.6 368M659.8 375.6L658.6 375.9L657.5 375.4L656.2 376.1L654.9 377.2L655.3 378.2M660.6 363.1L661.8 362.4L662.2 360.7L663.9 360.2L664.9 359.7L666.8 359.8M654.6 366.5L653.5 366.2L651.5 366.8L650.1 366.1L649.5 364.2L648.5 363.8L647.3 364.3M659.1 379L658.1 379.8L657.4 380.7L656.4 382.2L655.7 383.2L655.6 384.9L656.5 386.2M660.5 371.8L660.2 373.6L660.8 375.1L661.3 376.5L661 377.7M645.4 373.8L643.9 374.4L643.9 376.6L644.7 377.6M665.8 369.5L667 370.3L668.9 370.9L670.4 371.7L672.3 371.7M626.3 361L624.6 361.7L623.2 360.8L623.3 359.2M645.5 365.5L647.5 364.7L648.3 363.5L649.8 362.4L650.9 362M672.9 372.2L672.1 371.2L670.4 370.8L668.8 369.2L667.3 370.1L665.8 371.5M652.9 378L654.3 377.5L654.4 375.9L654.5 373.6L655.1 372.2L656.2 371.4L655.8 369.3M660.9 379L661.3 380.4L662.3 381.2L664.3 381.9L664.3 383.7L664.5 385.9L664.3 387.2L664.6 388.7M654.4 374.5L655.7 375.4L656.8 376.7L657.6 378.3L658.6 378.6L659.3 377.8M663.2 382.6L662.9 384.3L664.5 385.3L664.8 386.7L664.6 388.5L665.8 389.3L667.5 390.4M658.6 358.3L656.8 357.5L655.7 357.1L655.6 355.3L654.8 354.4L654.2 353.1L654.4 351.8L656 351.7M654.8 359.5L654.9 357.8L653.7 357.2L652.8 356.5L653.3 355.2L654.4 353.4M657.1 358.2L655.2 359.1L653.7 358L652.8 359M660.8 373.1L661 370.9L662.7 370L663.3 368.8L663.3 367.2L661.9 366.8L661.2 367.9L660 368.8M642.5 373.5L642 375.3L640.9 375.4L638.9 376M644.2 373.1L642.4 372.7L642.2 370.6L643.6 369.7L645.2 369.1L646.4 370.4L647.3 371.2L648.3 372.5M649.9 372.5L651.1 372.9L652.1 373.7L653.9 374.1M662 379.3L663.4 380L664.7 380.4L666.4 380.6M648.3 373.7L649.4 373.1L651 371.5L652.2 371.2L652.8 369.1L652.1 367.5L650.9 367L649.7 365.8M665 375.4L665.1 377L665.3 378.2L666.3 378.7L667.8 380L669.5 380.3M645.9 370.4L646.8 372.2L647.5 373.7L648.3 375.1L648.3 376.9L649.9 377.7M670.7 375.6L670.4 373.7L671.3 372.1L671.2 371.1L671.4 370L672.8 369.1M658.9 394L657.8 394L656.9 392.5L657 390.6L657.9 389.6M639.1 362.2L638 363.6L637.1 365.5L636.8 366.7L635.2 367.4M657.6 368L655.7 367L654.4 365.4L654.7 363.9L655.8 362.8L655.4 361.1L654.4 360.8M680.8 376.9L682.1 376.2L682.1 374.5L682.5 373.6L682.7 371.9L683.3 370.3M659.9 385.2L661.7 385.8L662.6 386.6L664 385.9L664.6 384.3M642 385L641.6 386.8L642.4 388.3L644.3 388.6L646.2 388.9M647.1 377.8L645.3 378L644.4 376.9L644.1 375.8M665.9 366.4L665.2 365.5L664 366L662.9 366.2L660.9 366.4M670.8 388.5L669.6 386.7L669.8 384.9L672 384.6M639.8 357.3L639.6 356.1L640.6 354.4L641.2 353.3L640.2 352.1L641.1 350.6L641.4 348.5L640.1 347.8M652.1 366L652.8 367.6L655 368L656.4 366.6M672.6 379.7L674.4 380.4L675.5 381L676.1 382.3L675.7 383.6L676.3 385.2L677.2 386.7L677.9 388.5M651 368.5L652.2 369.4L652.1 371.5L653.8 372.6L655.8 372.5L656.7 370.4L656.3 369.2M664.8 369.2L665.7 370.6L667.4 369.5L667.7 368.5L667.9 367L667.2 365.4L666.1 365L664.3 365.1M651.7 358.9L652.6 359.8L653.4 361.7L655.4 361.6M654.6 362.6L656.7 363.4L657.1 365.5L656.9 367L655.6 367.7L654.1 369.2L654.9 370.5M678.9 377.6L680.2 377.6L682.4 378.2L684.1 378.7M661.5 362.5L661.7 360.8L662 359.3L662.5 357.9L663.3 356.6L662.4 354.9L660.9 353.8M663.3 370.4L663.6 372.5L663.9 373.8L664.9 374.6L665.6 375.8L664.8 377.2L663.8 378.1L663.6 379.1M643.8 367.7L643.1 369.2L642.7 370.5L643.2 371.9L644.9 372.3M662.9 370.1L660.6 370L659.8 370.7L658.9 371.8L659.5 373.8L661.5 373.9M651.1 373.2L651.3 374.5L653.2 375.5L654.1 376.8L655.6 377.2L656.8 377.7L658.7 378.1M665 376.7L665.9 376.3L667.1 376.3L667.7 377.3L667.2 378.9L665.2 379.6L664.1 379M672.9 373.9L673.7 375L673.8 376.6L673.4 378.1L672.1 379.4L670.3 380.1L669.4 380.7L668.8 382.1M664.6 367.8L663.5 368.1L662 367.7L661.8 365.6L661.1 364.1L659.7 362.9L658.4 363.5L656.6 362.9M644.1 367.2L643.6 365.6L644.8 364.7L646.2 363.2M666.7 369.4L667.7 370.2L669 369.7L669 367.5L669.1 366L668.5 364.4L668.5 362.9L668.8 360.7M663.2 371.3L662.2 369.6L661.2 368.8L660.3 370M650.3 369.7L650.8 368.8L652.1 367.4L653.6 366.3L655 365.5L656.6 364.7L658 364.9M647.7 367L647.5 364.7L646.5 363.9L645.5 363.1M650.4 366.4L652 367.1L652.9 367.7L654.3 368.6M661.4 363.3L661.9 361.9L662.8 360.5L663.6 359.7L664.6 358.7L664.2 357.6M642.2 358L643.8 358.9L643.6 360.7L644.2 361.9L645.2 362.9M661.2 365.9L662.8 364.4L662.8 362.1L661.6 361.3L660.7 360.4L661 358.2M664 377.6L662.4 377L660.6 376.3L659.5 377L658.3 378.3L657.9 380.1L658.7 381.1L657.8 382.7M657.5 367.8L657.1 369L657.6 370.7L658.6 371.6M674.2 367.9L675 369L676 369.2L676.8 370.1L678.6 371.5L678.1 373.6L676.6 374M656.9 368.9L655.9 368L656.3 366.1L657.5 365.2L659.3 364.8L661 366.1M665.1 374.1L665.9 375L667.5 374.7L668.7 375.5L669 376.5L671 376.8L671.5 378.1M663.7 372.6L662.5 372.7L661.1 371.3L659.8 371.5L657.9 372.3M661.4 380.2L663.2 380.3L663.9 379.2L663.5 377.9L662.1 377.7L661 378.5L660.9 379.5M656.2 369.4L655.5 368.3L656.1 366.2L656.8 364.9L657.5 363.9L657.8 362.3L656.9 361.6L656.2 360.4M658.3 367.2L659 368.5L661 368.2L663 367.6L664.2 367L664.7 366.1M658.8 371.4L657.5 372.1L657.3 374.3L658.6 375.5L657.7 377.2L657 379.3L656 381M673.8 375.9L673.2 375.1L673.8 373.9L673.5 372.8L673.3 370.6L673.5 369.5L675.1 368.4L674.5 366.9M645.6 369.7L647 368.6L648.5 368.9L650.7 368.6L651.9 367.9L651.9 365.8L653.4 365.4L653.6 363.8M641.8 376.4L641.5 374.6L642.1 372.5L642.5 371L641.4 370.1L640.4 369.4L638.1 369.4M656.7 376.5L658.7 377.1L660.5 376.2L660.9 374.1M655.9 369L657.3 369.8L658.6 370.3L659.7 370.8L661.3 371.6L662 370.6L661.3 368.8M655.8 378.8L655.1 380.4L655.1 382.4L654.7 383.5L654.8 385.5L655.2 386.4M667.9 368.5L668.3 370L667.4 372L666.7 373.3M680 383.7L678.6 382.2L677.6 381.6L675.5 381.4L673.7 380.3L672.4 380.9M656.7 379.3L655.1 380.7L653.5 379.8L652.5 380.4L652 381.6L650.4 381.5L648.6 381.2L647.6 382.1M646.3 357.9L644.8 357.9L643.9 356.1L643.5 354.9L641.9 354.6L640.9 356.1L639.9 356.1L638.5 355.3M647.9 354.6L649.5 354.1L651 354.5L652.9 355.5L654 356.1L654.9 356.6M644.8 363.8L645.3 366L645.4 367.1L644.8 368.5L644.6 370.5L644.1 372.1M662.4 371.5L661.1 372L660.8 373.1L660.3 373.9L661.1 375.7M644.5 380.6L645.8 382.1L645.8 384.4L644.5 385.7L645.5 386.9M645.6 363.2L647.6 362.4L647.9 360.8L648.9 360.2L650.7 360.1M651.7 370.9L653.5 369.7L655.1 369.7L656.1 371.6L657.2 373.3M659.4 376.3L658.1 375.5L658.5 373.2L658.3 371.3L657.5 370.2M670.5 379.8L668.3 380L667.2 379L665.1 378.4L664.5 376.6L662.7 376.1L661.8 377L662.2 378M655.5 377.9L656.8 378.6L658 379.3L658.6 380.3M658.1 370.2L658.1 369.2L657.2 367.4L658.9 366L659 364.5L660.3 363M646.8 376.4L647.4 377.6L649.3 377.5L650.5 376.5M653.4 360.5L652 360.3L651.5 362.1L651 364.1L649.8 365.2L648.6 364.9L647 364.9M672.3 380.1L671.4 378.5L671.9 377.3L673.3 377.4L674 376M656.6 369.1L658.8 368.7L659.9 369.4L660.8 370M675.9 377.8L677.3 378.7L679 378.2L680.5 377.5L682.5 377.3M649.6 369.9L649.4 368.9L647.1 368.6L646.3 370.5L647.3 371.9M660.1 387L658.3 387.5L657.8 388.8L657.1 390.4M660.9 365.3L660.4 367.5L660.5 368.4L661.3 370.5L660.2 372L658.5 372.4M664.7 368.6L666.4 368.6L667.4 369.7L667.9 370.6M655.2 363.4L653.6 364.1L652.7 365.4L651.5 366.4L652.2 368L651.6 370.1L652.1 371.4L653.3 371.9M656.8 375.1L657.2 373.2L657.5 371.4L656.6 370.7L654.9 369.9L653.2 369.8M670.9 377.9L669.9 379.1L669.7 380.5L669.7 382.6L667.9 383.5L666.7 382.9L666.1 381.6L664.7 380.4M649.5 373.1L648.4 374.5L646.8 375.2L646.5 377.4L646.5 379.7L647.8 381.2L646.9 383.1L645.3 383.9M653.9 361.4L654.6 363.1L655.4 364.8L656.6 365.8L658.4 365.4L660.4 365M660.8 357.5L659 357.9L657.7 357.4L657.7 355.6L656.4 355.1L656.6 353.3M674.6 378L675.2 375.8L674.9 373.7L676.1 372.1L676.9 371.5L678.2 370.4L679.8 369.6M651.3 369.5L650.5 370.7L649.7 371.6L648.1 371.6L646.3 371.6L645.9 373.4L644.4 374.2L644.5 375.3M658.4 382.6L656.6 383.2L657 384.3L657 385.6L658.6 386.4L660.4 386.6L662.1 385.9M663.2 383.9L661 383.5L659.4 383.2L658.5 383.7L658 385.2L658.1 386.5M655.5 376L656.8 375.8L657.9 376.8L660.1 377L661 375.1L662.4 374L662.2 372.2M643.7 365.7L645 365.6L647.1 365.6L647.7 364.5L647.9 363.1L647.1 362.3L647 360.5M668.9 369.1L669.3 371.2L669.6 372.7L669.5 374.5L667.8 374.9L667.1 373.8L666.9 371.6L668.6 370.5M663.1 370.8L661.4 370.9L660.2 369.6L658.6 368.6L656.9 367.8L656.8 366L654.7 365.6L654.4 364M643.8 367.9L646 367.4L647.7 367.9L648.2 370L648.7 371.6L648.5 372.9L649.3 373.7L650.1 374.5M654.4 368.5L655.4 370.3L657.2 370.9L656.8 372.3M669.7 370.7L669.5 369.5L668.7 368.3L668.5 366.2M654 359.6L653 360.4L652 362L650.8 363.7L650.4 365.6L649.5 366.4L648.7 365.4M654.9 362L655.3 363.2L654.8 364.2L653.3 364.4L652.4 363L651.5 362.1M652.2 371.6L650.7 371.6L649.5 370.2L649.8 368.7L650.9 368.1L651 366.6L650.2 364.8M646.9 367.5L646.9 365.4L647.1 364.1L647 362.5L647 361.6M653.5 361.3L655 360.8L655.7 361.5L657.6 362.1L659.4 361.2L660.4 362.6M658.4 372.6L658.6 370.5L658 368.4L659.1 367.6L660.2 366.4L660.3 364.5L660.5 362.3L661.3 361.4M670.1 371.3L671.7 370.6L672.9 371.4L674.3 371.4L674.6 370.2L675.3 368.9L676.3 369M658.8 352.3L659.8 354.1L661.2 354.6L663.4 354.6L665.4 355L666.1 356.4L666.2 358.2L664.3 358.5M656.8 367.1L658.3 366.7L660.1 367.2L661.2 366.7L662.3 366.3M676.4 368.6L678.4 368.8L680.5 369.2L681.4 367.6M661.9 381.8L660.9 382.6L659.7 384.2L657.9 383.6L657.1 382.5L655 382.7L653.1 382.7L652 384.6M662 372.7L661 373.2L660 374.5L658.4 375.1L658.4 376.4M653.9 365.3L655.2 365.3L656.5 364.1L656.5 362.6L657.8 361.2L658.5 360.3L660 361.3M661.2 375.8L662.3 376.4L662.6 377.9L663 379.9L663.9 380.8L664.1 382.7L665.6 384.1M645.7 363.6L644.7 362L644.7 359.7L643.5 358.9L643 358L642.4 356.5L642.2 355.4M648.6 366.1L648.3 364.2L648.2 362.5L647.5 360.5L647.9 359.1L646.5 358.4L646.1 357.2M678 368.6L679.2 367L680.4 366.4L680.8 365.3M666.2 377.6L666.7 376.6L666 375.1L664.9 374.7L664.1 373.8L663.6 372M661.4 379.1L660 380L660.9 381.8L662.4 382.3L663.6 383L664.7 384.8L665.7 385.6L666.7 386M660.8 366.8L660.3 367.9L658.3 368L657.4 366.5M670.4 375.3L671.8 374.3L674.1 374.4L675 374.1M643.9 354.4L644.4 355.8L645.9 357.1L647 357.7L648.7 358.2L650.7 357.4L651.6 357.1M658.4 381.3L660 381.6L661.6 382.2L663.2 382.3M668.1 378.9L666.4 378.7L664.6 378.7L662.8 379.4L662.1 380.4L662.7 382.1M640.9 375.8L640.6 373.6L639.8 371.8L638.7 371.9L637.5 371.4M657.4 377.6L656.8 376L656.1 374.6L656.1 373.4L656.1 371.8M664.2 369.7L663.3 368.3L662.3 367.9L660.3 368.4L659.2 368.8M658.2 360.9L658.5 359.2L657.6 358.3L656.5 358.6L655.7 357.3L656.3 355.4M661 367L663 367.1L664 367L664.9 368.8L665.6 370.4L665.4 371.9L664.4 372.8M653.7 374.7L654.6 375.6L656.5 376.3L657.5 376.2L657.8 375M656.6 373.3L655.9 371.9L654.6 372.1L653.1 373.1L652.6 374.2L652.8 376.4L653.6 377.1M643.5 362.5L644.9 361.6L647.2 361.4L648.8 360.6L650.4 359.7L652.2 358.6M660.8 372.8L660.2 371.6L658.8 370.9L657.2 369.4L655.3 369.5L654 368.6L653.2 367.1M659.2 368.8L659.5 366.6L659.9 365L659.2 363.8L658.2 362.6L658.2 360.7M653.3 375.2L654.2 376.6L655.4 378.5L657.6 378.4L658.6 377.6L660.2 377.7L661.4 378.8M668 361.7L667.2 360.6L667.2 359.5L667.4 357.4L669.6 357.2L671.3 357.9L672.5 358.1L674.4 358.8M654.6 363.6L656.2 363.1L657 363.9L658.5 364.8M646.8 354.5L647.4 355.5L649.5 356.2L649.9 357.4L651.5 358.1L651.9 359.5M652 382.8L651.2 381.8L649.6 380.8L649.3 379.4M663.3 364.6L664.4 365.7L665.7 366.5L668 366.4L668.7 365.2M655.8 389.6L655.6 387.9L655 386.5L654 386.6L652.5 385L651.5 384.8L649.8 385.7L648.9 386.3M653.8 378.6L654.8 379.3L655 381.1L654.2 382.2L653.9 383.9L654.9 385.3L657 385L657.6 386M656.7 373.9L658.3 374.7L658.5 376.6L659.8 377.8L659.4 380L657.8 381L656.6 380.4M661.2 362.9L661.4 361.5L662.4 361.1L663.1 360L664.2 359.3L664.6 357.2L663.5 355.5L663.7 353.4M646.5 354.9L645.2 355.9L644.1 356.9L644.4 359L645.7 360L646.7 359.6M666.5 387.7L667.6 387.5L669 386.6L669.3 384.8L668.5 384.2L668.7 382.6M653.1 365.5L654.3 364.7L655.3 363.7L657 363.5L658.8 362.7M663.3 368.8L664.7 368.4L667 368.8L668.1 369.5M633.5 364.2L633.9 362.2L633.1 361.2L631.9 360.8M655.9 357L657.5 357.6L657.2 359.1L656.2 359.4L654 359.3L652.2 360.3M661.6 370.7L661.9 372.4L661 373.5L660.5 375.2L658.6 375.2L656.8 374.2M653.9 362.5L654.3 363.8L654 365.6L653 366.9L651 367.3L649.5 368.4L648.5 370.2L649.1 371.3M679.2 380.3L680.8 380L681 378.4L682.5 377L684 376.5L684.7 377.9L686.5 377.4M669 373.9L669.2 372.5L668.9 370.9L668 369.8L667 369.2L666.2 369.8L665.4 369.3L665.2 367M652.1 351.9L652.7 350.7L653.3 349.4L655.2 349.1L656 350.6L654.9 351.6L653.2 351.7M656.3 380L657.5 379L659.1 378.3L659.2 376.1L659.5 373.8M648.1 365.3L648.9 363.4L647.4 362.6L645.4 362.9M636.5 369.3L635.6 369.7L633.8 370.4L631.7 370.9L630.8 372.1L629.6 373.8L630.2 375.7L632.2 375.9M657 373.4L657.7 371.5L657.8 369.6L657 368.6M648.9 363.3L648.7 361.6L647 361.2L646.4 359.3L647.3 358L646 356.9L646.6 355.3L645.5 354M650.9 367.5L651.2 368.9L650.7 369.8L650.8 371.8L652.1 372.5L652.8 373.5L652.3 374.6M667.2 378.7L667.9 377.7L668.4 375.6L667.4 373.7M647.6 377L646.8 377.9L647.8 379.7L649.3 380.1L650.1 381.9M671.1 374L670.3 374.9L669.3 375.2L668.7 376.2L668.8 378.4L670.2 379.1M650.8 376.4L652.6 375.7L653.6 374.7L654.2 372.7L656.4 372.3L657.5 372.7M662.3 372.3L663.2 370.5L662.6 368.5L663.3 367.4L664.4 366.7L665.6 365.1M659.3 380.4L658.6 379.5L660 378.3L660.2 377.4L659.8 376.2L660.6 375.2L660.2 373.2M651.4 366.5L650.9 367.7L650.5 369.6L650.9 370.7L652.1 370.6L653.7 370.1L653.9 368.8M661.9 374.3L662 372.4L662.5 370.7L664 369.7L665.2 367.9L666.1 367.3L668.1 367.6L668.6 369.6M668.3 380.2L667.6 381.9L666.7 383.2L666.5 385.3L668.1 386.8L669 386.6L670.1 387.6M667.2 376L667.1 377.1L666 378L665.9 379.3L664.9 380.3L664.7 382M650.7 361.6L651.1 363.6L650.4 365.2L648.3 365.2L646.7 364.8M650.3 363.8L651.5 365.4L651.9 367.3L652.1 368.8M649.8 375.6L649.8 374.2L650 372.5L650.2 370.4L650.4 368.2L649.9 366.7L650 364.5L649 363.5M654.3 373.6L655.8 374L657.1 374.2L657.9 375.1L657.4 377L656.3 378.6L655.6 380.7M654.5 357.8L654.5 356.9L653.1 355.7L651.8 355.9L650 356.9L649.2 358L648.3 360.1M669.3 368.6L667.8 370.3L668.2 372.1L668.5 373.6L669.1 375L670.8 374.9M662.3 374.7L661.4 374.8L659.5 375.1L657.8 375.8M644.1 362.2L642.6 362.8L641.8 363.5L642.3 365.7L641.9 368L642.1 370M668.8 391.1L669.7 392.1L671.3 392.4L673.3 392.2M659.4 373.1L659.5 371.8L659 369.9L658.1 368.2L658.8 366.9L658.2 365.8L656.5 364.9L654.8 364.7M660.6 359.3L660.3 357.8L662 356.8L663.2 357.3L663.5 359L664 359.9L665.8 360.4M665.2 360L665.3 358.6L666.7 357.2L667.3 356.4L669.3 357.1L670.8 356.6L673 356.2L675 355.6M660.4 383.8L659.6 384.7L658.7 385.5L656.8 385.1M654.2 381.5L656 381.2L657.3 380.1L658.9 379.2M656.1 380.8L656.8 381.8L658 382.5L659.2 384.2L660.3 383.8L660.9 382.2L661.7 381.4M660.9 379.3L660.7 378.2L660.1 376.9L658.7 376.9L657.1 377.2M631.3 361.1L630 361.9L629 363.7L629.6 365.1L631 364.8M656.4 377.1L654.7 376.1L654.8 374.8L656.8 374.2L657.8 374L658.5 372.5L659.7 372.6L660.7 371.6M669.7 368.7L667.7 369.5L666.5 367.9L666 365.7L665.1 364.3L664.5 363.4M665.8 380.4L666.7 380.7L667.8 379.9L669.1 378.6M670.2 370.3L671.9 370.8L672.7 369.6L672.7 368.6L672.9 367.2L672.7 365.2M652.6 357.3L651.8 356.2L651.5 354.1L650.7 353.1L651.3 352.3L652.2 350.6L651.5 348.7M663.2 374.6L664.6 373.3L666.6 373.6L668.2 372.2L669.6 371.3L670.9 370.4M654.3 370.3L655.2 371.3L656.9 371.2L658 370.6M635.5 356.5L634.2 356.6L633.2 356L631.8 356.4M650.2 372.2L649.9 373.6L648.9 375.2L647.1 375M659.9 379.4L658.2 379.7L657 379.9L655.2 381L654.3 381.2L653.3 382L651.5 382.9M652.1 368.9L653.9 368.1L655.3 368.4L656.4 368.3L658.3 367.5L658.3 365.4L658.6 364.5M658.8 365.6L657.7 367.2L657.1 368.2L658 369.5L657.2 371.5M666 372.1L666.3 373.1L667.9 374.5L667.4 375.6L666.6 376.6L664.7 376.8L663.2 377.7L661.9 376.3M661.6 373.7L663.5 372.7L665.6 373.5L667.2 372.8L668 370.9L669.8 370.3L671.1 370.1M652.4 358.9L653.8 359.2L653.9 361L655.2 361.7L656.1 362.9M672.1 385.5L670.9 386.2L669.2 387.4L669.2 389.3M655.3 359.7L655.3 358L656.3 357.2L657.8 356.5L658.5 355L658.4 353.7L656.5 353.2M672.7 366.4L671.8 365.9L671.2 364.8L672 363.6L672.3 361.9L671.7 361.2L670.9 359.9L670.1 359.8M646.8 364.6L647.3 366.1L645.7 367.1L643.6 366.7M661.4 376.3L659.9 375.7L659.3 375L657 375.2L655.8 374.4L654 373.9M658.3 380.4L658.6 378.5L657.6 377L658 376L657.9 374.3M653.6 371.4L654.6 370.7L656.1 372.3L656.2 374.2L655.8 375L655.1 376.2L655.3 378.2L655.6 380.2M646.7 360.8L645.2 360.1L644.2 361L642 361L640.2 360.5L638.1 360L636.6 360.2L635.5 359.7M663.3 376.7L661.8 376.8L660.5 376.6L659.5 375.2L660.6 374.1L660.2 372.6M650.4 361.6L649.4 361.6L648.9 360.6L649.3 359.5L650 357.7L651.9 357.6L653.5 358.1M656.3 365.4L654.3 365.9L652.4 364.8L650.4 365L649.1 363.4L647.9 362.6L645.7 362.6M641.6 358.4L641.4 356.9L641 355.5L640.1 354.4L638.9 354.6L637 355.3M651.5 369.3L650.1 370.7L648.9 370.2L647.1 370.4M657 375.9L655.1 376.7L653.6 376.1L652 376.5L650.4 375.2L648.3 375.4L646.5 374.3L646.5 372.1M655.1 370.2L654.3 368.9L653.2 367.4L652.2 367.2L651.7 365.6L650.5 364.7M653.6 365.1L652.4 365.2L652 366.4L650.8 366.6L649.1 366.8L648.3 368.2M661.1 364.4L660 364L659.8 362.9L658.6 362.4L657 362L656.1 360.4L654.5 360.5L653.1 360.7M640.4 361.9L639.5 363.5L639.9 364.6L641 365.5L642.6 365.2L643.2 366.5M646 369.1L644.6 368.5L643.1 368.7L642.3 370.8M653.2 363.6L653.3 362.1L653.3 360.9L654.7 360.2L655.7 359.7L655.9 358L657 356.8M662.4 365.4L663.9 365.4L664.4 366.5L665.1 368.1L665.6 369.6M671.4 365.1L669.5 365.5L667.5 365.9L666.2 366.3M647.9 363.7L648.5 364.8L648.6 367.1L647.5 368.6M659.6 368L660.8 366.5L662 367.1L662.3 368.9M643.8 363L644.6 361.8L645.7 361.1L647.1 361.8L647.6 362.6L647.9 363.6M658.8 362.5L659.4 361.1L659.5 360.2L659.5 358.3L657.6 357.6L657.1 356.6L657.9 355.5L658 353.5M650.3 382.9L648.8 383.8L647.8 383.1L647.2 382.3L646.4 380.6L646 379.1L645 378.1L643.7 377.7M670.1 390.2L670.4 391.9L671.3 392.2L672.3 392.7L673.3 394.3L675 394.4M666.4 377.7L665.4 379.3L665.8 380.9L665.7 382.5L664.9 384.3L662.8 384.8L662.6 386.3M658.6 364.5L659.4 364.9L660.5 364L660.7 363L659.2 362L658.2 361.2L656.9 360L656.4 358.2M661.4 373.7L660.6 372.6L659.3 372.7L658.5 373.8L657.5 374.5L657.1 376.4L656.6 378.1L654.7 378.1M661.6 379.5L662.5 378.2L663.3 377.8L665.5 377.3L667.2 376.3L667.9 375.1L667.1 374.2M648.6 372.7L650 373.9L651.2 375L652.4 376.3L654.2 376.3M662 374.2L660.7 373.7L660.3 372.5L658.3 372.3L657.5 371.4L656.2 372.5L654.7 373.4L653.4 373.3M654 360.8L654.8 358.8L654.9 356.6L655.3 354.8L655.8 353.5L657.2 352.7L657.1 351.5M648.5 372.2L647.3 371.9L647 369.8L647.5 368.4L646.3 367.5L646.5 366.2L647.6 366.1M657.2 370L656.1 371.1L655.4 372.9L654.6 374.5M650.9 373.2L649.4 373.8L648.2 372.7L646.9 371.6L645.1 372.3L644.9 374L643.8 374.4L642.9 374.9M664.2 368.3L664.5 369.9L664.6 371.1L663 372L661 371.8L660.1 372.3L660 373.8M654.8 372.4L654 370.6L653 369.6L651.6 369.7L650.5 370.1L649 369.7L648.1 368.2M665.6 378.4L665.3 377.4L666.1 376.3L667.7 376.1L668.8 377.9L667.4 379.3L666.8 380.2L665.5 379.7M649.3 363.1L649.1 364.2L647.8 365.1L646.4 365.1L645.2 363.6M666.8 377.5L667.6 376.5L668.1 375.1L669.6 374.8M661.4 360.1L662.7 361.5L662.1 363.6L660.8 364.3L659.7 365.5L659.3 367.7L657.9 367.9M651.9 364.2L650.2 364.1L649.4 363.9L648.5 362.4M650.8 371.2L649.4 372.8L649 374.6L647.8 375.6L646.8 374.8L645.6 374.4L645.1 372.6L645.2 370.5M648.6 353.3L648.4 355.4L648.1 356.8L646.7 357.7L645.4 358.5L644.2 357.6L642.2 357.9L640.6 357.3M662.5 380.8L664 381.2L665 381.8L665.8 383.3L667.7 383.8L668.8 384.1L670.5 384.7M648.6 358.7L649.7 360.2L649.8 361.1L651 361.3L651.6 362.4L653.5 362.8L655.7 362.9M654.2 373.1L656.2 372.5L656.5 370.7L656.9 368.5L658.2 368L659.3 366.8M651.2 367.7L653.5 367.7L655.8 367.4L656.3 366.2L657.7 364.7L658.6 363.7L658.6 361.5L657.2 360.9M660.7 372.2L662.4 372.4L663.1 373.3L663.6 375.2L664.1 376.7M659.5 370.1L659.8 371.9L659.4 372.8L659 374.7M663.9 383.1L662.7 382.9L661.7 381.2L660.4 380.3L658.8 380.6L658 382L656.2 382.4L655 383.1M642.7 365.5L643.8 364.1L643.2 363.1L642.1 362.2L642.3 360.1M655.9 373.8L656.8 372.2L659.1 372.4L660.4 373.4L662 372.5M663.2 378.8L665.1 378.1L666 377.1L667.2 376.3L665.8 375L664.8 373.7L665.9 371.9L666.9 370.7M664.3 375.5L665.3 377L666.8 378.2L667.5 379.6M647.9 373.1L646.7 372.4L647.2 370.6L647.6 369L649.7 368.5L650.2 366.8M654.5 374.3L655.3 373.4L656.6 372.9L656.7 371L655.4 369.8L654.3 368.6L653.3 368.3M653.1 374.2L654.1 374L655.8 374.7L657.2 374.5M664.9 373.4L666.2 375.2L667.1 376.6L665.9 378L665.8 380.2L667.2 380.6L668.9 379.6L670.6 379.3M658.6 363.7L658.5 365.1L657.5 366.3L657.7 367.7L657 369.4L658 370.9L659 372.5M662.7 365.1L664.1 365.1L666 365.4L667.1 363.9M656.9 363.3L655.9 362.5L654.9 361.9L652.7 361.9M652.7 374.3L653.8 373.4L654.8 374.7L655.9 376.3L654.8 378L655.7 380L656.6 380.7M651.2 381.2L649.8 379.9L648.7 380L647.1 380.6M663.5 371.3L664.2 370.2L666.1 369.6L666.9 368.7L666.2 367.5L665.2 366.5L664.1 367M642 368.6L643.8 368.5L644.4 366.5L644.7 364.6L646.6 364L648.1 363.9L649.9 364.6M650.2 368.9L650.3 367.6L651.5 367.3L651.8 365.9L654 365.3M645.3 383.5L646 382.8L646.4 381.6L644.6 380.6L644.8 378.5L644.2 377.2L645 376.4M647.4 369.9L648.8 370.6L651 370.1L652.3 369.2L654 369L654.9 368.1M668.9 371.1L667.5 372.7L666.4 374L664.4 374.5M671.3 367.3L672.3 367.9L671.8 369.9L671 371.7L671.7 372.8L671.7 373.8M650.5 368.3L652.4 368.6L653.5 369.5L654.2 370.3L655 371.1L655.7 372.2L655.3 373.6M657.7 374.6L659.8 375.3L660.6 377L660.1 378.5M658.4 391.4L656.4 391.5L654.5 391.4L653.3 390.9L653.2 389.8L652.7 388.2M647.3 368.5L649.1 369L649.3 370.9L650.7 371.5M651.4 376L653.1 375.3L655.2 375.8L657.6 375.8L658.1 377.6M673.3 369.6L671.9 369.6L670.8 369L669.9 367.7L668.9 366.9L667.9 366.5M655.1 366.4L653.5 365.2L652 364.7L650.3 364.8L648.7 363.7L647.7 363.3L646 362.8M655.4 365.4L656.5 363.8L658.1 364.4L659 365.8L660.8 366.9L661.4 368.5L661.5 369.5L662.4 370.4M682.4 372.5L683.4 372L684.2 371.2L685.1 370.6L685.9 369L686.9 367.8L688.5 368.2M660.4 368.4L659.6 369.6L658.9 371.2L659.3 373.2L658.7 375.1L657.9 376.3M667.4 373.7L667.3 375.8L669.1 376.6L669 378.7L666.9 379.1L665.8 380.6M645.7 370.8L646.3 372.1L646.8 373.6L647.4 375.1L647.2 376.6L645.2 377.1M656.6 379.2L655.3 380.3L653.5 380.4L652.2 378.9L652.1 378L650.8 376.3L648.8 375.3M639.3 357.3L640.8 357.5L641.3 358.7L642.8 359.6L644.3 358.4M645.7 363.8L644.4 364.6L642.3 364.6L640.8 365.3L641.1 366.8L641 369.1M654 373.5L656 372.8L656.9 373L658.5 372.7L658.7 370.5L658.8 369.1L657.8 367.9L655.7 368.3M656.1 368.2L656.3 366.2L656.5 364.5L656 363.2M658.1 379.7L659.4 378.8L659.7 376.7L661.8 376.2L663 377.8M658.8 359L659 360.8L660.5 361.3L661.1 362.2L662.1 362.4L663 362.7M659.3 376.3L661.2 375.9L661.9 377.1L663.6 378.3L665.5 377.8L667.7 377L669.2 378.1L671.2 378.3M647.3 366.5L646.4 368.4L645.4 368.6L644.4 367.4L644.9 365.7L644.8 363.8" fill="none" stroke="#2626a4" stroke-width="0.8" stroke-linecap="round" stroke-linejoin="round" opacity="1"/>
<path d="M666.2 374L665.8 372.9L664.7 372.1L663.4 372.8M659.8 381.1L658.2 381.1L657.5 382.4L656.4 383.7M650.7 370.5L650.3 371.9L649.5 372.6L648 372.5L647.2 371.2L646.4 370.5L645.5 369.1L644 368.9M661.8 371.6L662.7 371.1L664.3 371.5L665.5 370.6L667.3 370.4L667.8 371.5L669.5 371.1M663.2 374.9L664 375.5L665.6 375L665.5 373.6L666.2 372.6L665.6 371.3L665.7 370.2L664.9 369.8M660.7 367.2L659.3 366.6L658.3 365.4L657.3 365L656.5 363.8M658.7 370.1L659.4 369L658.8 367.9L658.8 366.1L660.5 365.5L661.2 364.9M662.9 374L662.8 375.2L664.1 376L664.8 377.2M654.8 367.8L654.9 366L654.9 364.7L654.4 363.5M659.6 369.4L660.5 368.3L661.5 367.5L661.7 366.5L661 365.3M658 374.7L658.1 375.5L657.6 376.8L656.6 377.7L656.9 379.1L656.9 380L656.8 381.2L655.4 381.6M656.7 369.4L656.3 370.8L655.2 370.8L653.7 371.2L654 372.1M659.4 373.5L660.6 373.8L661.8 374.7L662.9 375.3L663.9 376.3M667.8 372.1L669.5 371.5L670.6 372.2L672.1 372.1L673.1 371.6M659.3 367.4L660.8 367.9L662.5 368.1L663.8 367.9L664.8 369.2L666.1 369.2L667.6 370M661.3 374.6L661.5 376.5L661 378.2L660.3 379.5M661.2 366L660.4 364.8L661.3 364.1L660.5 363.3M656.9 363.3L656.5 362L656 361L656.6 360L658.3 359.5L660.1 359.6M658.9 379L659.7 380.5L659.2 381.5L658.5 381.3M654.6 366.9L654.8 365.3L655.5 364.2L655.5 363.4M657.2 368.5L658.4 368.6L659.3 369.2L660.1 368.8M656.9 361.7L656.1 362.8L655.9 363.5L656.7 364.8L657.6 364.5L658.5 364.9L659.1 365.6M658 365.5L657.9 364L659.1 362.7L659.9 363.1L660.9 363M662.6 374.9L664.1 374.6L664.8 373.1L665 371.2L664.2 370.1M658.7 374L659.6 374.1L660.9 373.4L662.1 373.6M652.7 368.8L653.1 367.4L652 366.4L651.3 367.2L650.7 368.6L649.3 369.4L648.6 370.9M658.3 367.2L659.5 368.3L660.1 370.1L661.1 371.2L662 371.8L662.9 371.2M658.8 374.8L657.3 375.1L656.7 376.2L656.5 377.4M659.9 370.9L660.4 372.6L659.3 374L658.4 373.3L657.7 372.3L657.1 370.6L655.9 370.6L655.3 370M657.4 372.4L656.8 373.5L656.3 375L655.9 376.5L654.4 377.2M658.8 368.4L657.4 367.4L656.3 366.9L655 365.7L655 364.7M662.6 371.3L664 371.9L665.3 372.1L665.7 370.9M650.5 365.6L651.2 366.2L651.9 366.7L651.8 367.7L651 368.3L650 368.6L649.8 369.6M658.1 370.8L657.6 371.6L658.3 372.8L658.3 374.6L657.1 375.3M661.3 378.3L662 377.5L661.8 375.8L661.8 374.4M658 370.1L658.7 368.9L659.5 368.8L660.7 368.3L662.6 368.5M657.8 363.7L658.3 362.3L659.9 362.1L660.5 363.2L660.2 364.2M658.3 370.8L659.4 370.3L660.5 371.4L661.5 371L662.8 370.8L663.6 370.5L665.4 370.4M647.9 371.8L646.9 373.3L646.9 374.4L645.6 375L644.1 374.2L644.1 372.6L643.3 372M655.6 372.4L654.9 372L653.7 371.6L653.3 369.8L653.9 369L654 367.6L653.8 366.5M655 371.1L656.2 371.9L656.1 372.8L656.7 374L656.8 375M655.6 368.2L654.4 368.6L653.8 369.4L652.9 370.8L653.6 372.5L654.9 373.2M655 367.9L654.9 369.4L655.1 370.5L654.3 371.4L652.8 372.2M657.2 370.4L656.6 368.8L656.6 366.9L657 365.8L656.8 364.1M657.6 368.6L657 369.7L656.2 371.3L655.9 372.7L654.3 372.9L653.7 371.3M655.5 369.6L654.5 368.8L654.3 367.7L653.4 367L651.9 366.3M657.4 367.1L658.4 366.4L657.8 365.7L657.9 363.8M657.3 369.9L658.8 369.6L659.8 369.5L661.4 368.9M662.7 367.3L663.2 368L662.1 368.8L662.6 370.3L662.2 371.6L661.4 372.4L660.4 371.8L660 370.4M657.1 366L657.9 366.6L658.9 367.1L660.3 367.5L661.3 366.2L662.3 365.4L664.1 365.5L664.5 363.9" fill="none" stroke="#23233a" stroke-width="0.9" stroke-linecap="round" stroke-linejoin="round" opacity="1"/>
<path d="M655.6 367.1L657.5 367.5L658.2 369.3L658.1 371L656 371.7M650 362.7L650.7 360.3L651.8 359.1L654.3 358.9L656.3 359.1L657.6 357.9L658.3 356.2M656 373.5L654.3 375L654.6 376.2L656.1 377.2L656 379L653.8 379.2M654 370.6L653.3 372.6L652.9 374.9L653.5 376.6L654.8 377.8L655.7 378.8L657.4 379.1L658.7 377.2M656.9 370L656.5 368.6L655.9 366.6L654 366.8L652.6 366L652.3 364.4L651.1 362.8M650.9 366.8L653.1 366.8L654.1 365.5L656.3 364.9M655.8 369.8L655.7 371.9L657.9 373L659 372.3L659.9 371.1M651.7 365.4L651.8 367.9L651.1 369.1L652.4 370L653.6 371.6L653.6 372.8L655.8 373.8" fill="none" stroke="#d03050" stroke-width="0.7" stroke-linecap="round" stroke-linejoin="round" opacity="1"/>
<path d="M668 352C672 348 676 347 679 343C682 339 686 340 688 336C689 332 692 330 690 327M688 336C691 338 693 336 692 332M679 343C683 345 686 343 689 345C692 347 694 345 693 342M672 330C676 327 681 329 684 332C687 335 689 337 688 336M690 327C692 326 692 328 691.5 329M682 374C688 372 692 376 696 373C698 372 700 375 699 377" fill="none" stroke="#3838a0" stroke-width="0.8" stroke-linecap="round"/>
<circle cx="688" cy="336.3" r="1.3" fill="#2a2ab0"/><circle cx="676.5" cy="351" r="1.2" fill="#20304a"/>
</g>
<g id="muon" fill="none">
<path d="M513.6 302.6C515.5 301.8 521.6 299 525.2 297.8C528.8 296.6 531.9 296.1 535.3 295.4C538.7 294.7 542 294.2 545.5 293.6C549 293.1 553.1 292.5 556.6 292.1C560.1 291.7 563 291.4 566.7 291.1C570.4 290.8 575 290.4 578.9 290.2C582.8 289.9 585.6 289.8 590 289.6C594.4 289.4 598.2 289.2 605 289.1C611.8 289 621.9 288.7 630.7 288.8C639.5 288.9 649 289.3 657.9 289.9C666.8 290.5 677.2 291.5 684.2 292.2C691.2 292.9 695.6 293.2 700 293.8C704.4 294.4 704.4 294.5 710.5 295.5C716.6 296.5 728 298.4 736.8 300C745.6 301.6 756 303.7 763.2 305.2C770.4 306.7 775.1 307.9 780 309C784.9 310.1 788.2 311.1 792.3 312.1C796.4 313.1 800.5 314.3 804.6 315.2C808.7 316.1 812.7 316.9 816.8 317.6C820.9 318.3 825 318.9 829.1 319.5C833.2 320.1 837.3 320.4 841.4 320.9C845.5 321.3 849.6 321.9 853.7 322.2C857.8 322.5 861.9 322.7 866 322.9C870.1 323.1 874.1 323.3 878.2 323.4C882.3 323.5 886.4 323.4 890.5 323.4C894.6 323.4 897.9 323.4 902.8 323.2C907.7 323 916.2 322.3 920 322C923.8 321.7 922.2 321.8 925.8 321.4C929.4 321 936.3 320.4 941.6 319.7C946.9 319 952.1 318.4 957.4 317.4C962.7 316.4 967.9 315.2 973.2 313.9C978.5 312.6 983.8 311.1 989 309.5C994.2 307.9 999.5 306.1 1004.7 304.4C1010 302.7 1015.2 301 1020.5 299.2C1025.8 297.4 1031 295.7 1036.3 293.7C1041.6 291.7 1046.8 289.6 1052.1 287.4C1057.4 285.2 1064.1 282 1067.9 280.3C1071.7 278.6 1073.8 277.6 1075 277.1" stroke="#e9fffb" stroke-width="3.4" opacity="0.85"/>
<path d="M513.6 302.6C515.5 301.8 521.6 299 525.2 297.8C528.8 296.6 531.9 296.1 535.3 295.4C538.7 294.7 542 294.2 545.5 293.6C549 293.1 553.1 292.5 556.6 292.1C560.1 291.7 563 291.4 566.7 291.1C570.4 290.8 575 290.4 578.9 290.2C582.8 289.9 585.6 289.8 590 289.6C594.4 289.4 598.2 289.2 605 289.1C611.8 289 621.9 288.7 630.7 288.8C639.5 288.9 649 289.3 657.9 289.9C666.8 290.5 677.2 291.5 684.2 292.2C691.2 292.9 695.6 293.2 700 293.8C704.4 294.4 704.4 294.5 710.5 295.5C716.6 296.5 728 298.4 736.8 300C745.6 301.6 756 303.7 763.2 305.2C770.4 306.7 775.1 307.9 780 309C784.9 310.1 788.2 311.1 792.3 312.1C796.4 313.1 800.5 314.3 804.6 315.2C808.7 316.1 812.7 316.9 816.8 317.6C820.9 318.3 825 318.9 829.1 319.5C833.2 320.1 837.3 320.4 841.4 320.9C845.5 321.3 849.6 321.9 853.7 322.2C857.8 322.5 861.9 322.7 866 322.9C870.1 323.1 874.1 323.3 878.2 323.4C882.3 323.5 886.4 323.4 890.5 323.4C894.6 323.4 897.9 323.4 902.8 323.2C907.7 323 916.2 322.3 920 322C923.8 321.7 922.2 321.8 925.8 321.4C929.4 321 936.3 320.4 941.6 319.7C946.9 319 952.1 318.4 957.4 317.4C962.7 316.4 967.9 315.2 973.2 313.9C978.5 312.6 983.8 311.1 989 309.5C994.2 307.9 999.5 306.1 1004.7 304.4C1010 302.7 1015.2 301 1020.5 299.2C1025.8 297.4 1031 295.7 1036.3 293.7C1041.6 291.7 1046.8 289.6 1052.1 287.4C1057.4 285.2 1064.1 282 1067.9 280.3C1071.7 278.6 1073.8 277.6 1075 277.1" stroke="#66f5da" stroke-width="1.65"/>
</g>
<g id="tracker" fill="none" stroke="#0a0a0a" stroke-width="1.8">
<path d="M519.8 290.6A13.5 13.5 0 0 1 519.8 314.6"/>
<path d="M524.9 286.6A19.6 19.6 0 0 1 524.9 318.6"/>
<path d="M529.9 282.7A25.7 25.7 0 0 1 529.9 322.5"/>
<path d="M534.8 278.8A31.9 31.9 0 0 1 534.8 326.4"/>
<path d="M539.7 275A38 38 0 0 1 539.7 330.2"/>
<path d="M544.6 271.2A44.1 44.1 0 0 1 544.6 334"/>
<path d="M549.4 267.4A50.2 50.2 0 0 1 549.4 337.8"/>
<path d="M554.3 263.6A56.3 56.3 0 0 1 554.3 341.6"/>
<path d="M559.1 259.8A62.5 62.5 0 0 1 559.1 345.4"/>
<path d="M564 256.1A68.6 68.6 0 0 1 564 349.1"/>
<path d="M568.8 252.3A74.7 74.7 0 0 1 568.8 352.9"/>
<path d="M573.6 248.5A80.8 80.8 0 0 1 573.6 356.7"/>
</g>
<g id="tracks" fill="none" stroke-linecap="butt">
<line x1="513.6" y1="302.6" x2="587.8" y2="259.6" stroke="#2a55f0" stroke-width="1.6" stroke-dasharray="3.5 3.3" stroke-dashoffset="-1.5"/>
<line x1="556.6" y1="289.8" x2="646" y2="269" stroke="#3fd22c" stroke-width="1.7" stroke-dasharray="6.2 5.2"/>
<path d="M513.6 302.6C524 302.4 536 303.3 545.6 305C560 307.6 576 314.3 591.2 321.7C606 329 622 339 640 353.5" stroke="#35d321" stroke-width="1.4"/>
<path d="M513.6 302.6C515 304.2 519.4 309.5 522.2 312.2C525 314.9 527.4 316.9 530.3 318.8C533.2 320.8 536.5 322.5 539.5 323.9C542.5 325.3 545.6 326.4 548.6 327.4C551.6 328.4 554.7 329.4 557.7 330C560.7 330.6 563.8 330.9 566.8 331.2C569.8 331.4 573 331.6 576 331.5C579 331.4 582 331.2 585.1 330.7C588.2 330.2 593.1 328.9 594.7 328.5" stroke="#f5231e" stroke-width="1.6" stroke-dasharray="21 2 8.4 2.2 8.4 2.2 8.4 2.2 8.4 2.2 8.4 2.2 8.4 2.2 8.4 2.2 8.4 2.2"/>
</g>
</g>
<g id="legend" opacity="0.99">
<text x="383.9" y="128.4" font-size="16.8" fill="#111" textLength="67.1" lengthAdjust="spacingAndGlyphs" stroke="#111" stroke-width="0.6">Légende:</text>
<line x1="457.4" y1="121.3" x2="499.6" y2="121.3" stroke="#6eeadc" stroke-width="1.5"/>
<line x1="457.4" y1="133.4" x2="499.6" y2="133.4" stroke="#f8201e" stroke-width="1.7"/>
<line x1="457.4" y1="146.5" x2="499.6" y2="146.5" stroke="#48e81e" stroke-width="1.5"/>
<line x1="457.4" y1="161.1" x2="496.4" y2="161.1" stroke="#48d822" stroke-width="1.5" stroke-dasharray="5.1 3.45"/>
<line x1="457.4" y1="174.7" x2="499.6" y2="174.7" stroke="#2a5cf5" stroke-width="1.5" stroke-dasharray="3.7 2.7"/>
<text x="504.2" y="125.3" font-size="11.1" fill="#0b0e1c" textLength="30.3" lengthAdjust="spacingAndGlyphs" stroke="#0b0e1c" stroke-width="0.8">Muon</text>
<text x="504.2" y="137.9" font-size="11.1" fill="#0b0e1c" textLength="42.6" lengthAdjust="spacingAndGlyphs" stroke="#0b0e1c" stroke-width="0.8">Électron</text>
<text x="504.7" y="152.4" font-size="11.1" fill="#0b0e1c" textLength="128.5" lengthAdjust="spacingAndGlyphs" stroke="#0b0e1c" stroke-width="0.8">Hadron chargé (ex. Pion)</text>
<text x="504.7" y="165.6" font-size="11.1" fill="#0b0e1c" textLength="147.4" lengthAdjust="spacingAndGlyphs" stroke="#0b0e1c" stroke-width="0.8">Hadron neutre (ex. Neutron)</text>
<text x="504.2" y="179.6" font-size="11.1" fill="#0b0e1c" textLength="38.2" lengthAdjust="spacingAndGlyphs" stroke="#0b0e1c" stroke-width="0.8">Photon</text>
</g>
<g id="labels" opacity="0.99">
<text x="505.9" y="347.2" font-size="11.3" fill="#0b0e1c" text-anchor="middle" textLength="78.1" lengthAdjust="spacingAndGlyphs" stroke="#0b0e1c" stroke-width="0.8">Trajectographe</text>
<text x="505.9" y="362" font-size="11.3" fill="#0b0e1c" text-anchor="middle" textLength="54.1" lengthAdjust="spacingAndGlyphs" stroke="#0b0e1c" stroke-width="0.8">au silicium</text>
<text x="565.6" y="390.5" font-size="11.3" fill="#0b0e1c" text-anchor="middle" textLength="60.6" lengthAdjust="spacingAndGlyphs" stroke="#0b0e1c" stroke-width="0.8">Calorimètre</text>
<text x="565.9" y="405" font-size="11.3" fill="#0b0e1c" text-anchor="middle" textLength="99.7" lengthAdjust="spacingAndGlyphs" stroke="#0b0e1c" stroke-width="0.8">électromagnetique</text>
<text x="629.5" y="436.2" font-size="11.3" fill="#0b0e1c" text-anchor="middle" textLength="60.5" lengthAdjust="spacingAndGlyphs" stroke="#0b0e1c" stroke-width="0.8">Calorimètre</text>
<text x="629.6" y="450.9" font-size="11.3" fill="#0b0e1c" text-anchor="middle" textLength="60.3" lengthAdjust="spacingAndGlyphs" stroke="#0b0e1c" stroke-width="0.8">hadronique</text>
<text x="731" y="440.4" font-size="11.3" fill="#0b0e1c" text-anchor="middle" textLength="52.3" lengthAdjust="spacingAndGlyphs" stroke="#0b0e1c" stroke-width="0.8">Solénoïde</text>
<text x="731.4" y="454.9" font-size="11.3" fill="#0b0e1c" text-anchor="middle" textLength="89.2" lengthAdjust="spacingAndGlyphs" stroke="#0b0e1c" stroke-width="0.8">superconducteur</text>
<text x="900.9" y="459.4" font-size="11.3" fill="#0b0e1c" text-anchor="middle" textLength="149.5" lengthAdjust="spacingAndGlyphs" stroke="#0b0e1c" stroke-width="0.8">Culasse de retour de l’aimant</text>
<text x="900.9" y="473.7" font-size="11.3" fill="#0b0e1c" text-anchor="middle" textLength="145.7" lengthAdjust="spacingAndGlyphs" stroke="#0b0e1c" stroke-width="0.8">avec des chambres à muons</text>
</g>
<g id="axes" fill="none" stroke="#141616" stroke-width="3.4" stroke-linecap="butt" stroke-linejoin="miter">
<polyline points="411.9,417.5 411.9,492.5 490,492.5"/>
<polyline points="402.4,429.2 411.9,417.2 421.4,429.2"/>
<polyline points="477.3,483.9 489.1,492.5 477.3,501.1"/>
</g>
<g opacity="0.99">
<text x="389.7" y="432.2" font-size="23.6" fill="#0c0c0c" text-anchor="middle" font-weight="bold" textLength="14.2" lengthAdjust="spacingAndGlyphs" stroke="#0c0c0c" stroke-width="0.9">Y</text>
<text x="483.9" y="523.5" font-size="23.2" fill="#0c0c0c" text-anchor="middle" font-weight="bold" textLength="14.6" lengthAdjust="spacingAndGlyphs" stroke="#0c0c0c" stroke-width="0.9">X</text>
</g>
<g id="scale" opacity="0.99">
<path d="M511.2 491.4V499.7H1073" fill="none" stroke="#121414" stroke-width="2.5"/>
<line x1="588.2" y1="491.4" x2="588.2" y2="500" stroke="#121414" stroke-width="2.1"/>
<line x1="665.1" y1="491.4" x2="665.1" y2="500" stroke="#121414" stroke-width="2.1"/>
<line x1="742" y1="491.4" x2="742" y2="500" stroke="#121414" stroke-width="2.1"/>
<line x1="818.9" y1="491.4" x2="818.9" y2="500" stroke="#121414" stroke-width="2.1"/>
<line x1="895.8" y1="491.4" x2="895.8" y2="500" stroke="#121414" stroke-width="2.1"/>
<line x1="972.7" y1="491.4" x2="972.7" y2="500" stroke="#121414" stroke-width="2.1"/>
<line x1="1049.6" y1="491.4" x2="1049.6" y2="500" stroke="#121414" stroke-width="2.1"/>
<text x="512.8" y="488.4" font-size="7.9" fill="#0c0c0c" text-anchor="middle" font-weight="bold" textLength="10.3" lengthAdjust="spacingAndGlyphs" stroke="#0c0c0c" stroke-width="0.3">0m</text>
<text x="588.3" y="488.9" font-size="7.9" fill="#0c0c0c" text-anchor="middle" font-weight="bold" textLength="10.3" lengthAdjust="spacingAndGlyphs" stroke="#0c0c0c" stroke-width="0.3">1m</text>
<text x="665" y="490" font-size="7.9" fill="#0c0c0c" text-anchor="middle" font-weight="bold" textLength="10.3" lengthAdjust="spacingAndGlyphs" stroke="#0c0c0c" stroke-width="0.3">2m</text>
<text x="741.6" y="488.9" font-size="7.9" fill="#0c0c0c" text-anchor="middle" font-weight="bold" textLength="10.3" lengthAdjust="spacingAndGlyphs" stroke="#0c0c0c" stroke-width="0.3">3m</text>
<text x="818.4" y="488.9" font-size="7.9" fill="#0c0c0c" text-anchor="middle" font-weight="bold" textLength="10.3" lengthAdjust="spacingAndGlyphs" stroke="#0c0c0c" stroke-width="0.3">4m</text>
<text x="896.6" y="488.9" font-size="7.9" fill="#0c0c0c" text-anchor="middle" font-weight="bold" textLength="10.3" lengthAdjust="spacingAndGlyphs" stroke="#0c0c0c" stroke-width="0.3">5m</text>
<text x="973" y="488.9" font-size="7.9" fill="#0c0c0c" text-anchor="middle" font-weight="bold" textLength="10.3" lengthAdjust="spacingAndGlyphs" stroke="#0c0c0c" stroke-width="0.3">6m</text>
<text x="1050.4" y="488.9" font-size="7.9" fill="#0c0c0c" text-anchor="middle" font-weight="bold" textLength="10.3" lengthAdjust="spacingAndGlyphs" stroke="#0c0c0c" stroke-width="0.3">7m</text>
</g>
<g id="field" opacity="0.99">
<circle cx="616.5" cy="195.5" r="5.8" fill="#fff" stroke="#1414b4" stroke-width="1.8"/>
<path d="M613.6 194.3L619.4 196.7M617.7 192.6L615.3 198.4" stroke="#1414b4" stroke-width="1.7" fill="none"/>
<text x="616" y="209.5" font-size="6.8" fill="#0c0c0c" text-anchor="middle" font-weight="bold" textLength="7.8" lengthAdjust="spacingAndGlyphs" stroke="#0c0c0c" stroke-width="0.3">4T</text>
<circle cx="933.9" cy="304.4" r="5.9" fill="#fff" stroke="#1414a8" stroke-width="1.6"/>
<circle cx="933.9" cy="304.4" r="2.4" fill="#1414a8"/>
<text x="932" y="295.5" font-size="7" fill="#140606" text-anchor="middle" font-weight="bold" textLength="7.2" lengthAdjust="spacingAndGlyphs" stroke="#140606" stroke-width="0.3">2T</text>
</g>
</svg>
</body>
</html>
